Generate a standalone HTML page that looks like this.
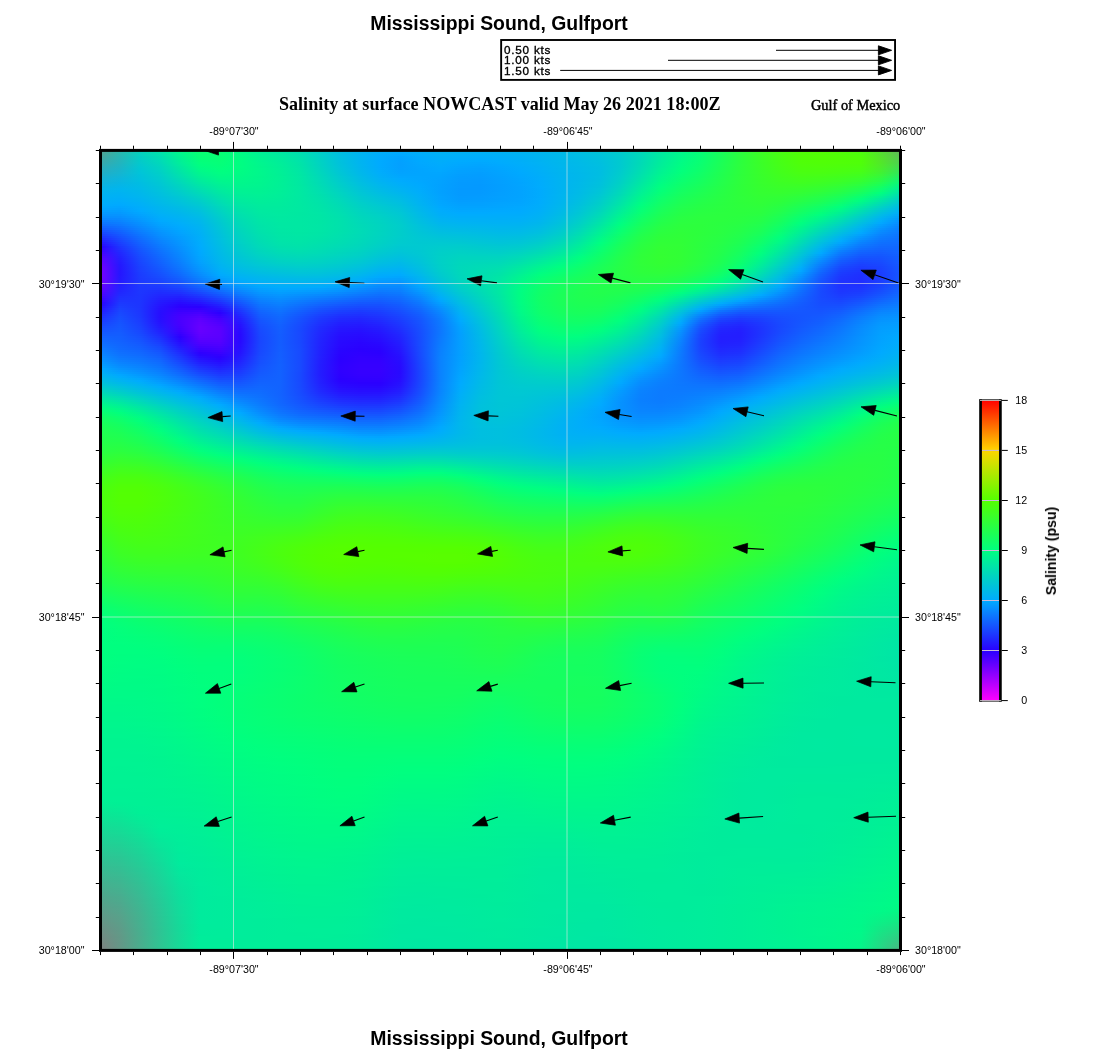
<!DOCTYPE html>
<html><head><meta charset="utf-8">
<style>
html,body{margin:0;padding:0;background:#fff}
body{width:1100px;height:1050px;position:relative;overflow:hidden;font-family:"Liberation Sans",sans-serif;color:#000}
.t{position:absolute;white-space:nowrap;line-height:1;will-change:transform}
.title{font-weight:bold;font-size:19.4px;left:-1px;width:1000px;text-align:center}
#map{position:absolute;left:100px;top:150px;width:801px;height:801px;overflow:hidden;background:#00f090}
#map i{display:block;height:2px;width:801px}
.lab{font-size:10.7px}
.kts{font-size:11.7px;left:504.3px;letter-spacing:0.78px;-webkit-text-stroke:0.35px #000}
svg{position:absolute;left:0;top:0}
</style></head><body>
<div class="t title" style="top:13.8px">Mississippi Sound, Gulfport</div>
<div class="t title" style="top:1029.2px">Mississippi Sound, Gulfport</div>
<div class="t kts" style="top:44.2px">0.50 kts</div>
<div class="t kts" style="top:54.3px">1.00 kts</div>
<div class="t kts" style="top:64.5px">1.50 kts</div>
<div class="t" style="left:279.2px;top:94.7px;font-family:'Liberation Serif',serif;font-weight:bold;font-size:18.08px">Salinity at surface NOWCAST valid May 26 2021 18:00Z</div>
<div class="t" style="left:810.9px;top:98px;font-family:'Liberation Serif',serif;font-size:14.35px;-webkit-text-stroke:0.45px #000">Gulf of Mexico</div>
<div class="t lab" style="left:184.2px;top:125.6px;width:100px;text-align:center">-89°07'30"</div><div class="t lab" style="left:184.2px;top:963.6px;width:100px;text-align:center">-89°07'30"</div><div class="t lab" style="left:517.5px;top:125.6px;width:100px;text-align:center">-89°06'45"</div><div class="t lab" style="left:517.5px;top:963.6px;width:100px;text-align:center">-89°06'45"</div><div class="t lab" style="left:850.7px;top:125.6px;width:100px;text-align:center">-89°06'00"</div><div class="t lab" style="left:850.7px;top:963.6px;width:100px;text-align:center">-89°06'00"</div><div class="t lab" style="left:0;width:84.5px;text-align:right;top:278.5px">30°19'30"</div><div class="t lab" style="left:915px;top:278.5px">30°19'30"</div><div class="t lab" style="left:0;width:84.5px;text-align:right;top:611.9px">30°18'45"</div><div class="t lab" style="left:915px;top:611.9px">30°18'45"</div><div class="t lab" style="left:0;width:84.5px;text-align:right;top:944.9px">30°18'00"</div><div class="t lab" style="left:915px;top:944.9px">30°18'00"</div><div class="t lab" style="left:1000px;width:27.2px;text-align:right;top:394.5px">18</div><div class="t lab" style="left:1000px;width:27.2px;text-align:right;top:444.5px">15</div><div class="t lab" style="left:1000px;width:27.2px;text-align:right;top:494.5px">12</div><div class="t lab" style="left:1000px;width:27.2px;text-align:right;top:544.6px">9</div><div class="t lab" style="left:1000px;width:27.2px;text-align:right;top:594.6px">6</div><div class="t lab" style="left:1000px;width:27.2px;text-align:right;top:644.6px">3</div><div class="t lab" style="left:1000px;width:27.2px;text-align:right;top:694.6px">0</div>
<div class="t" style="left:1051px;top:550.5px;font-weight:bold;font-size:14.1px;transform:translate(-50%,-50%) rotate(-90deg)">Salinity (psu)</div>
<div id="map"><i style="background:linear-gradient(90deg,#579f8f,#2ab8ac,#05d2bb,#00e4a8,#00f88a,#08ff73,#07ff75,#00fb85,#00ef97,#00e7a4,#00deb2,#00cec9,#00bfe0,#00b5ef,#00aef9,#00acfc,#00aff7,#00b2f2,#00b2f3,#00b1f4,#00b2f3,#00b3f1,#00b6ed,#00b9e8,#00bfe0,#00c6d6,#00cdca,#00d9b9,#00e9a0,#00f78b,#06ff77,#18ff5c,#2bff3f,#3cff25,#49ff12,#50ff08,#51ff06,#4fff09,#4aff10,#52e033,#62b55c)"></i><i style="background:linear-gradient(90deg,#52a193,#29b7af,#05d0be,#00e2ac,#00f78c,#08ff74,#07ff74,#00fc84,#00f195,#00e8a2,#00dfb0,#00cfc8,#00bfdf,#00b4f0,#00adfb,#00aaff,#00aef9,#00b1f4,#00b0f5,#00b0f7,#00b0f5,#00b2f2,#00b5ee,#00b9e9,#00bee1,#00c4d8,#00cccc,#00d9b9,#00e9a0,#00f88b,#06ff76,#18ff5b,#2bff3e,#3cff26,#48ff13,#50ff08,#52ff05,#50ff08,#4dff0d,#54e130,#5fba59)"></i><i style="background:linear-gradient(90deg,#4da398,#28b6b2,#05cfc1,#00e0af,#00f58f,#07ff75,#08ff74,#00fd83,#00f293,#00ea9f,#00e0ae,#00d0c7,#00bfdf,#00b4f0,#00abfd,#01a7ff,#00adfb,#00b0f6,#00aff8,#00aef9,#00aff7,#00b1f4,#00b4ef,#00b8ea,#00bde3,#00c3da,#00cbcd,#00d9b9,#00ea9f,#00f88a,#07ff75,#19ff5a,#2cff3e,#3cff26,#48ff13,#50ff07,#52ff05,#51ff07,#4eff0a,#54e12e,#5cbf56)"></i><i style="background:linear-gradient(90deg,#48a49d,#27b5b5,#04cdc4,#00ddb2,#00f391,#06ff76,#07ff75,#00fd82,#00f391,#00eb9e,#00e1ac,#00d0c6,#00c0df,#00b4f1,#00abfe,#01a4ff,#00abfd,#00aff7,#00aefa,#00adfb,#00aef9,#00b0f6,#00b4f0,#00b8ea,#00bce4,#00c2dc,#00cbce,#00d9b9,#00ea9e,#00f989,#07ff75,#19ff5a,#2cff3e,#3bff27,#48ff14,#50ff07,#52ff05,#51ff06,#4fff09,#55e22c,#59c454)"></i><i style="background:linear-gradient(90deg,#43a6a2,#26b4b8,#04ccc7,#00dcb5,#00f194,#05ff78,#07ff75,#00fe81,#00f490,#00ec9c,#00e2ab,#00d1c4,#00c0de,#00b4f0,#00aaff,#02a2ff,#00aafe,#00aef9,#00acfc,#00abfd,#00adfb,#00aff7,#00b3f1,#00b7eb,#00bbe5,#00c1dd,#00cacf,#00d9b8,#00eb9d,#00fa87,#08ff73,#1aff59,#2cff3e,#3bff27,#47ff14,#50ff08,#51ff05,#51ff06,#50ff08,#54e42a,#55c853)"></i><i style="background:linear-gradient(90deg,#3ea7a7,#24b4bb,#03cac9,#00dab8,#00ef97,#03ff7a,#06ff76,#00fe81,#00f58f,#00ed9a,#00e3aa,#00d2c3,#00c1dd,#00b4f0,#00aaff,#02a1ff,#00a9ff,#00adfa,#00abfe,#00aaff,#00acfd,#00aef8,#00b2f2,#00b7ec,#00bbe6,#00c0de,#00cacf,#00dab7,#00ec9c,#00fb86,#09ff72,#1aff58,#2cff3d,#3bff28,#47ff15,#4fff08,#51ff06,#50ff07,#4fff08,#53e62a,#51cd52)"></i><i style="background:linear-gradient(90deg,#3aa8ac,#22b4be,#03c9cc,#00d8ba,#00ee9a,#02ff7d,#05ff78,#00fe81,#00f68e,#00ee99,#00e4a8,#00d3c2,#00c1dc,#00b4f0,#00aaff,#03a0ff,#01a8ff,#00acfc,#00a9ff,#01a7ff,#00abfe,#00aefa,#00b2f4,#00b6ec,#00bae7,#00bfdf,#00cacf,#00dab6,#00ed9a,#00fc84,#0aff71,#1bff57,#2cff3d,#3aff28,#46ff16,#4fff09,#50ff07,#50ff08,#4fff09,#51e829,#4cd152)"></i><i style="background:linear-gradient(90deg,#35aab1,#1fb4c2,#02c8cf,#00d6bd,#00ec9d,#00ff7f,#04ff79,#00fe81,#00f68d,#00ef98,#00e4a7,#00d3c1,#00c2db,#00b5ef,#00aaff,#03a0ff,#01a7ff,#00abfd,#01a7ff,#01a5ff,#00a9ff,#00adfb,#00b1f5,#00b6ed,#00bae8,#00bfe0,#00cacf,#00dbb5,#00ee99,#00fd83,#0bff6f,#1cff56,#2dff3d,#3aff29,#46ff17,#4eff0b,#4fff09,#4eff0a,#4dff0b,#4fea2a,#47d653)"></i><i style="background:linear-gradient(90deg,#30abb6,#1db4c5,#01c7d2,#00d4c0,#00e9a0,#00fd82,#03ff7b,#00fe82,#00f68c,#00ef97,#00e5a6,#00d4c0,#00c3da,#00b5ee,#00aafe,#03a0ff,#01a6ff,#00aafe,#01a5ff,#02a3ff,#01a7ff,#00acfc,#00b0f6,#00b6ee,#00b9e8,#00bee1,#00cacf,#00dcb4,#00ef97,#00fe81,#0cff6e,#1cff55,#2dff3c,#3aff29,#45ff18,#4dff0c,#4eff0b,#4dff0c,#4cff0e,#4cec2b,#42da55)"></i><i style="background:linear-gradient(90deg,#2cacbc,#1ab4c9,#00c6d4,#00d3c2,#00e7a3,#00fb86,#02ff7d,#00fd82,#00f78c,#00f096,#00e6a5,#00d5be,#00c4d8,#00b6ed,#00abfd,#02a1ff,#01a5ff,#00a9ff,#02a3ff,#02a1ff,#01a6ff,#00abfd,#00b0f7,#00b5ee,#00b9e9,#00bee1,#00cbce,#00ddb3,#00f195,#00ff7f,#0dff6c,#1dff54,#2dff3c,#39ff2a,#44ff19,#4cff0e,#4cff0d,#4bff0f,#4aff11,#48ee2d,#3cde57)"></i><i style="background:linear-gradient(90deg,#28acc1,#17b4cd,#00c5d7,#00d1c5,#00e5a6,#00f989,#00ff7f,#00fd83,#00f78c,#00f096,#00e6a5,#00d6bd,#00c5d7,#00b7eb,#00acfc,#02a2ff,#01a5ff,#01a8ff,#02a1ff,#03a0ff,#01a4ff,#00aafe,#00aff7,#00b5ef,#00b9e9,#00bee1,#00cbcd,#00deb1,#00f293,#02ff7d,#0eff6a,#1eff53,#2dff3c,#39ff2a,#43ff1b,#4aff10,#4bff10,#49ff12,#47ff15,#44f130,#36e25a)"></i><i style="background:linear-gradient(90deg,#23adc5,#15b5d0,#00c4d9,#00cfc7,#00e3a9,#00f68d,#00fe82,#00fc84,#00f78c,#00f096,#00e7a4,#00d7bc,#00c6d5,#00b8ea,#00adfb,#02a3ff,#01a5ff,#01a6ff,#03a0ff,#039eff,#02a3ff,#00a9ff,#00aef8,#00b4ef,#00b8e9,#00bee1,#00cccc,#00dfaf,#00f391,#03ff7b,#10ff68,#1fff51,#2dff3c,#39ff2b,#42ff1c,#49ff13,#49ff12,#47ff15,#44ff1a,#3ff333,#2fe65e)"></i><i style="background:linear-gradient(90deg,#1faeca,#12b5d4,#00c2db,#00ceca,#00e1ad,#00f490,#00fc84,#00fb85,#00f78c,#00f095,#00e7a3,#00d8ba,#00c7d3,#00b9e8,#00aef9,#01a5ff,#01a5ff,#01a5ff,#039eff,#039dff,#02a2ff,#00a8ff,#00aef9,#00b4f0,#00b8ea,#00bee1,#00cdcb,#00e1ad,#00f58f,#05ff78,#11ff66,#1fff50,#2dff3b,#38ff2b,#41ff1e,#47ff15,#47ff16,#44ff19,#40ff1f,#3af637,#28ea63)"></i><i style="background:linear-gradient(90deg,#1bafcf,#0fb5d8,#00c1dc,#00cccc,#00dfb0,#00f194,#00fa87,#00fa87,#00f68c,#00f195,#00e8a3,#00d9b9,#00c9d1,#00bbe6,#00aff7,#01a7ff,#01a6ff,#01a4ff,#039dff,#049cff,#02a1ff,#01a7ff,#00adfa,#00b4f0,#00b8ea,#00bfe0,#00ceca,#00e2ab,#00f78c,#06ff76,#12ff64,#20ff4f,#2eff3b,#38ff2c,#40ff1f,#45ff18,#44ff19,#41ff1d,#3dff24,#34f83d,#21ed69)"></i><i style="background:linear-gradient(90deg,#17b0d4,#0cb5dc,#00c0de,#00cbce,#00dcb4,#00ee98,#00f88a,#00f988,#00f68d,#00f195,#00e8a2,#00dab8,#00cacf,#00bce4,#00b1f5,#00aaff,#01a6ff,#02a3ff,#049cff,#049bff,#03a0ff,#01a6ff,#00adfb,#00b4f1,#00b8e9,#00bfdf,#00cfc8,#00e4a8,#00f88a,#08ff73,#14ff62,#21ff4e,#2eff3b,#37ff2c,#3fff21,#43ff1b,#42ff1d,#3eff22,#39ff2b,#2dfa43,#19f16f)"></i><i style="background:linear-gradient(90deg,#14b1d8,#0ab5e0,#00bfe0,#00c9d1,#00dab7,#00ec9d,#00f68d,#00f88a,#00f68e,#00f095,#00e8a2,#00dbb6,#00cbcd,#00bde2,#00b2f3,#00abfd,#01a7ff,#02a2ff,#049bff,#049aff,#039fff,#01a5ff,#00acfb,#00b3f1,#00b8e9,#00c0de,#00d0c6,#00e5a6,#00fa87,#0aff71,#15ff60,#22ff4d,#2eff3b,#37ff2d,#3eff23,#41ff1e,#3fff21,#3bff27,#34ff31,#27fc49,#11f477)"></i><i style="background:linear-gradient(90deg,#10b1dc,#07b5e3,#00bde2,#00c7d3,#00d8bb,#00e9a1,#00f491,#00f78b,#00f58e,#00f096,#00e8a2,#00dbb5,#00cdcb,#00bfe0,#00b4f0,#00adfb,#00a8ff,#02a2ff,#049aff,#049aff,#039fff,#01a4ff,#00acfc,#00b3f1,#00b9e9,#00c1dd,#00d1c4,#00e7a3,#00fc84,#0cff6e,#16ff5e,#23ff4c,#2eff3b,#37ff2e,#3cff25,#3fff21,#3cff25,#37ff2c,#2fff38,#20fe51,#09f77e)"></i><i style="background:linear-gradient(90deg,#0db2e0,#05b5e7,#00bce4,#00c6d5,#00d5be,#00e6a5,#00f194,#00f68d,#00f58f,#00f096,#00e8a1,#00dcb4,#00cec9,#00c0de,#00b6ee,#00aef9,#00a9ff,#02a1ff,#049aff,#0499ff,#039eff,#02a4ff,#00acfc,#00b3f1,#00b9e8,#00c1dc,#00d3c2,#00e9a1,#00fe81,#0dff6b,#18ff5c,#23ff4b,#2eff3a,#36ff2e,#3bff27,#3cff25,#39ff29,#34ff32,#2bff40,#19ff59,#05f587)"></i><i style="background:linear-gradient(90deg,#09b2e4,#03b5ea,#00bbe6,#00c4d7,#00d3c1,#00e3aa,#00ef97,#00f58f,#00f490,#00f096,#00e9a1,#00ddb2,#00cfc7,#00c2db,#00b7eb,#00b0f6,#00aafe,#02a1ff,#049aff,#0499ff,#039eff,#02a3ff,#00acfd,#00b3f1,#00b9e8,#00c2da,#00d4c0,#00eb9e,#01ff7f,#0fff69,#19ff59,#24ff49,#2eff3a,#36ff2f,#3aff29,#3aff29,#36ff2e,#30ff38,#25ff47,#13ff63,#03f28f)"></i><i style="background:linear-gradient(90deg,#07b3e8,#01b5ee,#00bae8,#00c3d9,#00d1c5,#00e0ae,#00ed9b,#00f391,#00f391,#00f097,#00e9a1,#00deb1,#00d1c5,#00c3d9,#00b9e8,#00b2f4,#00abfd,#02a1ff,#0499ff,#0499ff,#039eff,#02a3ff,#00abfd,#00b3f1,#00bae7,#00c4d9,#00d6bd,#00ed9b,#03ff7c,#11ff66,#1bff57,#25ff48,#2eff3a,#35ff30,#38ff2b,#37ff2d,#33ff33,#2cff3e,#20ff4f,#0dff6c,#01ee99)"></i><i style="background:linear-gradient(90deg,#04b3ec,#00b4f0,#00b8e9,#00c2dc,#00cec8,#00ddb3,#00ea9f,#00f293,#00f292,#00ef97,#00e9a1,#00dfb0,#00d2c3,#00c5d6,#00bbe6,#00b3f1,#00acfc,#02a1ff,#049aff,#049aff,#039eff,#02a3ff,#00abfd,#00b3f1,#00bbe6,#00c5d7,#00d8ba,#00ef98,#04ff79,#13ff63,#1cff55,#26ff47,#2eff3a,#34ff31,#36ff2e,#34ff31,#30ff38,#27ff45,#1bff58,#07ff76,#00e8a2)"></i><i style="background:linear-gradient(90deg,#02b3f0,#00b2f2,#00b7eb,#00c0de,#00cccc,#00dab7,#00e8a2,#00f195,#00f293,#00ef98,#00e9a1,#00e0af,#00d4c1,#00c7d4,#00bde3,#00b5ee,#00adfb,#02a1ff,#049aff,#049aff,#039fff,#02a3ff,#00abfd,#00b3f1,#00bbe5,#00c6d5,#00dab8,#00f195,#06ff76,#15ff61,#1eff53,#26ff46,#2eff3a,#34ff32,#35ff30,#32ff35,#2cff3e,#23ff4b,#15ff60,#00ff7f,#00e2ab)"></i><i style="background:linear-gradient(90deg,#00b2f3,#00b1f4,#00b6ed,#00bfe0,#00cacf,#00d7bc,#00e5a6,#00ef97,#00f195,#00ee99,#00e9a1,#00e0ad,#00d5bf,#00c8d2,#00bfe0,#00b7eb,#00aef9,#02a2ff,#049aff,#049bff,#039fff,#02a3ff,#00abfd,#00b4f1,#00bce4,#00c8d3,#00dbb5,#00f392,#08ff73,#16ff5e,#1fff51,#27ff45,#2eff3a,#33ff33,#33ff33,#2fff39,#28ff43,#1eff52,#0fff69,#00f989,#00dcb4)"></i><i style="background:linear-gradient(90deg,#00b1f4,#00b0f6,#00b5ef,#00bde2,#00c7d3,#00d4c0,#00e3a9,#00ee9a,#00f096,#00ee99,#00e9a1,#00e1ac,#00d6bd,#00cacf,#00c1dd,#00b9e8,#00aff8,#02a3ff,#049bff,#049cff,#03a0ff,#02a3ff,#00abfd,#00b4f0,#00bde3,#00c9d0,#00deb2,#00f58e,#0bff70,#18ff5b,#20ff4f,#27ff44,#2eff3b,#32ff34,#31ff36,#2cff3e,#25ff49,#1aff59,#09ff72,#00f293,#00d6bd)"></i><i style="background:linear-gradient(90deg,#00b0f6,#00aef8,#00b3f1,#00bce5,#00c5d6,#00d1c4,#00e1ad,#00ec9c,#00ef97,#00ed9a,#00e9a1,#00e2ab,#00d8bb,#00cbcd,#00c3da,#00bbe6,#00b0f6,#02a3ff,#039cff,#039dff,#02a0ff,#02a4ff,#00acfd,#00b4f0,#00bee1,#00cbce,#00e0af,#00f78b,#0dff6d,#1aff59,#22ff4d,#28ff43,#2eff3b,#31ff35,#2fff38,#29ff42,#21ff4e,#15ff60,#03ff7b,#00eb9d,#00d0c6)"></i><i style="background:linear-gradient(90deg,#00aef8,#00adfb,#00b2f3,#00bae7,#00c3da,#00cec9,#00deb1,#00eb9e,#00ee99,#00ed9b,#00e9a1,#00e3aa,#00d9b9,#00cdcb,#00c4d7,#00bde3,#00b1f4,#01a5ff,#039dff,#039eff,#02a1ff,#01a4ff,#00acfc,#00b5ef,#00bfe0,#00cdcb,#00e2ab,#00f988,#0fff6a,#1cff56,#23ff4b,#29ff43,#2eff3b,#31ff37,#2dff3b,#26ff47,#1dff54,#10ff68,#00fc84,#00e5a7,#00cace)"></i><i style="background:linear-gradient(90deg,#00adfb,#00abfd,#00b0f6,#00b9e9,#00c1dd,#00cbcd,#00dcb4,#00e9a0,#00ed9a,#00ec9c,#00e9a1,#00e3a9,#00dab7,#00cfc8,#00c6d5,#00bfe0,#00b2f3,#01a6ff,#039fff,#03a0ff,#02a3ff,#01a5ff,#00acfc,#00b5ee,#00c0de,#00cec8,#00e4a8,#00fc84,#11ff67,#1dff54,#24ff49,#29ff42,#2dff3b,#30ff38,#2bff3e,#22ff4c,#19ff5a,#0bff6f,#00f68d,#00deb1,#00c5d7)"></i><i style="background:linear-gradient(90deg,#00abfd,#00a9ff,#00aff8,#00b7eb,#00bfe0,#00c9d1,#00dab8,#00e8a3,#00ec9c,#00ec9c,#00e9a1,#00e4a8,#00dbb5,#00d0c6,#00c8d2,#00c0dd,#00b3f1,#01a7ff,#02a1ff,#02a1ff,#02a4ff,#01a6ff,#00adfb,#00b6ed,#00c1dc,#00d0c6,#00e6a5,#00fe81,#13ff64,#1fff51,#25ff47,#29ff41,#2dff3c,#2fff39,#29ff41,#1fff51,#15ff61,#06ff77,#00f096,#00d8ba,#00bfdf)"></i><i style="background:linear-gradient(90deg,#00a8ff,#01a5ff,#00adfa,#00b5ee,#00bce3,#00c6d5,#00d7bb,#00e6a5,#00eb9d,#00eb9d,#00e9a1,#00e4a8,#00dcb4,#00d1c4,#00cacf,#00c2db,#00b5ef,#00a9ff,#02a3ff,#02a3ff,#01a5ff,#01a8ff,#00adfa,#00b7ec,#00c3da,#00d2c3,#00e9a1,#01ff7d,#15ff61,#21ff4f,#26ff46,#2aff41,#2dff3c,#2eff3b,#27ff45,#1cff56,#10ff67,#01ff7e,#00ea9f,#00d2c4,#00bae7)"></i><i style="background:linear-gradient(90deg,#02a4ff,#02a1ff,#00acfd,#00b4f0,#00bae6,#00c4d9,#00d5be,#00e4a7,#00ea9e,#00eb9e,#00e9a1,#00e5a7,#00ddb2,#00d3c2,#00cbcd,#00c4d8,#00b6ed,#00abfe,#01a5ff,#01a6ff,#01a7ff,#00a9ff,#00aef9,#00b8ea,#00c4d8,#00d4c0,#00eb9d,#04ff7a,#17ff5e,#22ff4c,#27ff44,#2aff40,#2cff3d,#2dff3d,#25ff48,#18ff5b,#0cff6d,#00fb86,#00e4a8,#00cccd,#00b5ee)"></i><i style="background:linear-gradient(90deg,#039fff,#039dff,#00aaff,#00b2f3,#00b8e9,#00c1dc,#00d3c2,#00e3a9,#00eaa0,#00ea9e,#00e9a1,#00e5a6,#00deb1,#00d4c0,#00cdcb,#00c5d6,#00b7eb,#00acfc,#01a7ff,#01a8ff,#00a9ff,#00aafe,#00aff8,#00b9e9,#00c6d6,#00d6bc,#00ee9a,#06ff76,#19ff5b,#24ff4a,#28ff43,#2aff40,#2cff3e,#2bff3f,#23ff4b,#15ff60,#08ff74,#00f68e,#00deb0,#00c6d5,#00b0f6)"></i><i style="background:linear-gradient(90deg,#0499ff,#0499ff,#01a6ff,#00b1f5,#00b6ec,#00bfe0,#00d1c5,#00e2ac,#00e9a1,#00ea9f,#00e8a1,#00e6a6,#00dfb0,#00d5be,#00cec8,#00c7d4,#00b9e9,#00adfa,#00aaff,#00aaff,#00abfe,#00abfd,#00b0f6,#00bae7,#00c7d3,#00d9b9,#00f096,#08ff73,#1bff58,#25ff48,#29ff42,#2bff40,#2bff3e,#2aff40,#21ff4f,#12ff65,#03ff7a,#00f095,#00d9b9,#00c0de,#00acfc)"></i><i style="background:linear-gradient(90deg,#0693ff,#0694ff,#02a2ff,#00aff8,#00b4ef,#00bde3,#00cfc8,#00e0ae,#00e8a2,#00eaa0,#00e8a1,#00e6a5,#00e0af,#00d6bd,#00d0c7,#00c8d2,#00bae7,#00aef8,#00acfd,#00acfd,#00acfc,#00acfb,#00b1f5,#00bbe5,#00c9d1,#00dbb6,#00f392,#0bff6f,#1cff55,#26ff46,#2aff41,#2bff3f,#2bff3f,#29ff42,#1eff52,#0eff6a,#00fe81,#00eb9d,#00d3c1,#00bbe6,#01a5ff)"></i><i style="background:linear-gradient(90deg,#078dff,#078fff,#039eff,#00adfa,#00b3f2,#00bbe6,#00cdca,#00dfb0,#00e7a3,#00e9a0,#00e8a2,#00e6a5,#00e0ae,#00d7bb,#00d1c5,#00c9d0,#00bbe5,#00b0f6,#00adfa,#00adfa,#00adfa,#00aefa,#00b2f3,#00bde3,#00cbce,#00ddb2,#00f58e,#0dff6c,#1eff52,#28ff44,#2bff40,#2bff3f,#2aff40,#27ff45,#1cff56,#0bff6f,#00f988,#00e6a5,#00cec9,#00b6ed,#039eff)"></i><i style="background:linear-gradient(90deg,#0985ff,#0889ff,#049aff,#00abfd,#00b1f5,#00b9e9,#00cbcd,#00ddb2,#00e6a5,#00e9a1,#00e8a2,#00e6a5,#00e1ad,#00d8ba,#00d2c3,#00cace,#00bde3,#00b2f3,#00aff8,#00aff8,#00aef8,#00aff8,#00b3f1,#00bee1,#00cdcb,#00e0ae,#00f88a,#10ff68,#20ff4f,#29ff43,#2bff3f,#2bff3f,#2aff41,#26ff47,#19ff59,#07ff74,#00f58e,#00e1ad,#00c9d1,#00b1f4,#0597ff)"></i><i style="background:linear-gradient(90deg,#0b7dff,#0a84ff,#0596ff,#00a9ff,#00aff7,#00b7eb,#00cacf,#00dcb4,#00e6a6,#00e9a1,#00e8a2,#00e6a4,#00e1ac,#00d9b9,#00d3c2,#00cbcd,#00bee1,#00b3f1,#00b1f5,#00b0f5,#00b0f6,#00b0f6,#00b5ef,#00c0df,#00cfc8,#00e2ab,#00fa87,#12ff65,#22ff4d,#2aff41,#2cff3e,#2bff3f,#29ff42,#24ff49,#17ff5d,#04ff7a,#00f195,#00dcb4,#00c4d9,#00adfb,#0690ff)"></i><i style="background:linear-gradient(90deg,#0d75ff,#0b7eff,#0691ff,#01a5ff,#00aefa,#00b6ed,#00c8d1,#00dbb6,#00e5a7,#00e8a2,#00e8a2,#00e6a4,#00e1ac,#00d9b8,#00d3c1,#00cccc,#00bfdf,#00b5ee,#00b3f2,#00b2f3,#00b1f4,#00b2f3,#00b6ec,#00c1dc,#00d1c5,#00e5a7,#00fd83,#14ff61,#23ff4a,#2bff40,#2cff3e,#2aff40,#28ff43,#22ff4c,#14ff61,#00ff7f,#00ec9c,#00d7bc,#00bfe0,#01a8ff,#088bff)"></i><i style="background:linear-gradient(90deg,#106cff,#0d78ff,#078dff,#02a2ff,#00acfc,#00b4ef,#00c7d3,#00dab7,#00e4a8,#00e8a2,#00e8a2,#00e6a5,#00e1ac,#00dab7,#00d4c0,#00cdcb,#00c1dd,#00b7eb,#00b5ef,#00b4f0,#00b3f2,#00b3f1,#00b8ea,#00c3d9,#00d3c1,#00e7a3,#00ff7f,#16ff5e,#25ff48,#2cff3e,#2cff3d,#2aff40,#27ff45,#21ff4f,#12ff65,#00fc84,#00e7a3,#00d2c3,#00bae7,#02a0ff,#0986ff)"></i><i style="background:linear-gradient(90deg,#1262ff,#0e71ff,#0888ff,#039eff,#00aafe,#00b3f1,#00c6d5,#00d9b9,#00e3a9,#00e8a3,#00e8a2,#00e6a5,#00e1ac,#00dab7,#00d4c0,#00cdcb,#00c2db,#00b9e8,#00b7ec,#00b6ed,#00b5ef,#00b5ee,#00bae7,#00c5d6,#00d5be,#00ea9f,#03ff7b,#19ff5b,#27ff45,#2cff3d,#2cff3d,#2aff41,#26ff46,#1fff51,#0fff69,#00f889,#00e3aa,#00cdcb,#00b6ee,#049aff,#0a81ff)"></i><i style="background:linear-gradient(90deg,#1459ff,#106bff,#0a83ff,#049aff,#00a8ff,#00b2f3,#00c5d7,#00d7bb,#00e3aa,#00e7a3,#00e8a2,#00e6a5,#00e1ac,#00dbb6,#00d4c0,#00cdca,#00c3da,#00bbe5,#00b9e8,#00b8ea,#00b6ec,#00b7ec,#00bce4,#00c7d3,#00d8bb,#00ed9b,#06ff77,#1bff57,#28ff43,#2dff3c,#2cff3d,#2aff41,#25ff48,#1dff54,#0cff6d,#00f58f,#00deb0,#00c8d2,#00b1f4,#0693ff,#0b7dff)"></i><i style="background:linear-gradient(90deg,#174fff,#1164ff,#0b7fff,#0596ff,#01a5ff,#00b1f5,#00c3d9,#00d6bc,#00e2ab,#00e7a4,#00e8a3,#00e6a6,#00e1ac,#00dbb6,#00d4bf,#00cdca,#00c4d8,#00bde2,#00bbe5,#00bae7,#00b8ea,#00b9e9,#00bee1,#00cad0,#00dab7,#00ef97,#08ff73,#1dff54,#2aff41,#2eff3b,#2cff3d,#29ff42,#24ff49,#1bff57,#09ff71,#00f194,#00dab7,#00c3da,#00adfa,#078dff,#0c7aff)"></i><i style="background:linear-gradient(90deg,#1945ff,#135eff,#0c7aff,#0692ff,#02a3ff,#00b0f6,#00c2da,#00d5be,#00e1ac,#00e6a4,#00e7a3,#00e5a6,#00e1ad,#00dbb6,#00d4c0,#00cdca,#00c5d6,#00bfdf,#00bee2,#00bce4,#00bae7,#00bbe6,#00c0de,#00cccc,#00ddb3,#00f293,#0bff70,#1fff51,#2bff3f,#2eff3a,#2cff3d,#29ff42,#23ff4b,#19ff5a,#07ff76,#00ee99,#00d5be,#00bee1,#01a8ff,#0988ff,#0d77ff)"></i><i style="background:linear-gradient(90deg,#1c3bff,#1557ff,#0d75ff,#078fff,#03a0ff,#00aff7,#00c1dc,#00d4c0,#00e0ae,#00e6a5,#00e7a4,#00e5a7,#00e0ae,#00dab7,#00d4c0,#00cdca,#00c6d5,#00c1dc,#00c0de,#00bee1,#00bce4,#00bde3,#00c3da,#00cec9,#00dfaf,#00f48f,#0dff6c,#21ff4e,#2cff3d,#2fff39,#2cff3d,#28ff43,#22ff4d,#17ff5d,#04ff7a,#00ea9f,#00d1c5,#00b9e8,#03a0ff,#0a82ff,#0d74ff)"></i><i style="background:linear-gradient(90deg,#1e31ff,#1651ff,#0e70ff,#088bff,#039dff,#00aef9,#00c0dd,#00d3c1,#00dfaf,#00e5a6,#00e6a5,#00e4a8,#00e0af,#00dab7,#00d3c1,#00cdcb,#00c7d4,#00c3d9,#00c2db,#00c0de,#00bee1,#00bfdf,#00c5d6,#00d1c5,#00e2ab,#00f78b,#0fff68,#23ff4b,#2dff3b,#2fff39,#2cff3e,#28ff44,#21ff4e,#14ff61,#01ff7e,#00e7a4,#00cccb,#00b4ef,#0498ff,#0b7dff,#0e72ff)"></i><i style="background:linear-gradient(90deg,#2127ff,#184bff,#106cff,#0987ff,#049bff,#00aefa,#00c0df,#00d2c3,#00deb0,#00e5a7,#00e6a5,#00e3a9,#00dfb0,#00d9b8,#00d3c2,#00cccc,#00c8d3,#00c5d6,#00c4d8,#00c2db,#00c0de,#00c1dc,#00c8d3,#00d3c1,#00e4a7,#00fa87,#12ff65,#24ff49,#2eff3a,#30ff38,#2cff3e,#27ff45,#1fff50,#12ff64,#00fd83,#00e3aa,#00c8d2,#00b0f6,#0691ff,#0c79ff,#0f6fff)"></i><i style="background:linear-gradient(90deg,#231dff,#1945ff,#1167ff,#0a83ff,#0498ff,#00adfb,#00bfe0,#00d1c5,#00ddb2,#00e4a8,#00e5a7,#00e2aa,#00deb1,#00d9b9,#00d2c3,#00cbcd,#00c8d2,#00c7d3,#00c6d4,#00c4d8,#00c2db,#00c4d8,#00cacf,#00d6bd,#00e7a3,#00fc84,#14ff62,#26ff46,#2fff38,#30ff37,#2cff3e,#26ff46,#1eff52,#10ff68,#00fa87,#00dfaf,#00c4d9,#00abfd,#0889ff,#0d74ff,#0f6eff)"></i><i style="background:linear-gradient(90deg,#2613ff,#1b3fff,#1263ff,#0b80ff,#0596ff,#00acfc,#00bee1,#00d0c7,#00dcb4,#00e3aa,#00e4a8,#00e1ac,#00ddb2,#00d8ba,#00d1c4,#00cbce,#00c8d1,#00c9d1,#00c8d1,#00c6d5,#00c4d8,#00c6d5,#00cdca,#00d9b9,#00ea9f,#00ff80,#16ff5e,#28ff44,#30ff37,#30ff37,#2bff3f,#26ff47,#1dff54,#0eff6b,#00f78c,#00dcb4,#00bfdf,#02a4ff,#0a82ff,#0e70ff,#106cff)"></i><i style="background:linear-gradient(90deg,#280aff,#1c3aff,#135fff,#0b7cff,#0694ff,#00acfd,#00bde2,#00cec8,#00dbb6,#00e2ab,#00e3a9,#00e0ae,#00dcb4,#00d7bb,#00d0c6,#00cad0,#00c9d1,#00cacf,#00cbce,#00c8d1,#00c6d4,#00c9d1,#00d0c6,#00dcb4,#00ed9b,#02ff7c,#18ff5b,#29ff42,#31ff36,#31ff37,#2bff3f,#25ff48,#1bff56,#0bff6f,#00f391,#00d8ba,#00bbe6,#049bff,#0c7bff,#106cff,#106aff)"></i><i style="background:linear-gradient(90deg,#2a01ff,#1d34ff,#145bff,#0c79ff,#0691ff,#00abfe,#00bce4,#00cdca,#00dab8,#00e0ad,#00e2ab,#00dfaf,#00dbb6,#00d6bd,#00cfc8,#00c8d1,#00c9d1,#00cccd,#00cccb,#00cace,#00c9d1,#00cbcd,#00d3c2,#00dfb0,#00ef97,#05ff78,#1aff59,#2aff40,#32ff35,#31ff36,#2bff3f,#24ff49,#1aff59,#09ff73,#00f096,#00d4bf,#00b7ec,#0692ff,#0d75ff,#1168ff,#1068ff)"></i><i style="background:linear-gradient(90deg,#3400ff,#1f30ff,#1557ff,#0d75ff,#078fff,#00aaff,#00bbe5,#00cccc,#00d8ba,#00dfb0,#00e1ad,#00deb1,#00d9b8,#00d5bf,#00cdca,#00c7d3,#00c9d1,#00cdcb,#00cec9,#00cccb,#00cbce,#00cec9,#00d6bd,#00e2ab,#00f293,#07ff75,#1cff56,#2bff3e,#32ff34,#31ff36,#2bff40,#24ff4a,#18ff5b,#06ff76,#00ed9a,#00d1c5,#00b2f2,#088aff,#0f6eff,#1264ff,#1167ff)"></i><i style="background:linear-gradient(90deg,#3e00ff,#202bff,#1554ff,#0e72ff,#078dff,#00a9ff,#00bbe6,#00cbce,#00d6bc,#00ddb2,#00dfaf,#00dcb4,#00d8ba,#00d3c1,#00cbcd,#00c6d6,#00c8d1,#00cec9,#00d0c6,#00cec8,#00cdca,#00d1c5,#00d9b8,#00e5a7,#00f58e,#0aff71,#1dff53,#2cff3d,#33ff33,#31ff36,#2aff40,#23ff4b,#17ff5d,#03ff7a,#00ea9f,#00cdcb,#00aef9,#0a81ff,#1167ff,#1360ff,#1165ff)"></i><i style="background:linear-gradient(90deg,#4700ff,#2127ff,#1651ff,#0f6fff,#088aff,#00a8ff,#00bae7,#00c9d0,#00d5bf,#00dbb5,#00ddb2,#00dbb6,#00d6bc,#00d1c4,#00c9d0,#00c4d8,#00c8d2,#00cfc8,#00d1c4,#00d0c6,#00cfc7,#00d4c0,#00dcb3,#00e8a2,#00f88a,#0cff6d,#1fff51,#2dff3c,#33ff33,#31ff36,#2aff40,#22ff4c,#15ff60,#01ff7e,#00e6a4,#00c9d0,#00aaff,#0c79ff,#1261ff,#145cff,#1264ff)"></i><i style="background:linear-gradient(90deg,#4f00ff,#2224ff,#174eff,#0f6cff,#0888ff,#01a7ff,#00b9e8,#00c8d2,#00d3c2,#00d9b8,#00dbb5,#00d9b9,#00d5bf,#00d0c6,#00c7d3,#00c2db,#00c7d3,#00cfc7,#00d3c2,#00d2c3,#00d2c4,#00d7bc,#00e0ae,#00eb9d,#00fb86,#0eff6a,#20ff4f,#2eff3b,#33ff32,#31ff36,#2aff41,#21ff4d,#14ff62,#00fd82,#00e3a9,#00c6d6,#02a2ff,#0e72ff,#145bff,#1458ff,#1262ff)"></i><i style="background:linear-gradient(90deg,#5700ff,#2221ff,#184bff,#1069ff,#0986ff,#01a5ff,#00b8ea,#00c6d4,#00d1c5,#00d7bb,#00d9b8,#00d7bb,#00d3c2,#00cec9,#00c5d6,#00c0de,#00c6d4,#00d0c7,#00d4c0,#00d4c0,#00d4c0,#00dab8,#00e3a9,#00ef98,#00fe81,#10ff67,#22ff4d,#2eff3a,#34ff32,#31ff36,#2aff41,#20ff4f,#12ff65,#00fa87,#00e0af,#00c2db,#049aff,#106aff,#1555ff,#1554ff,#1260ff)"></i><i style="background:linear-gradient(90deg,#5e00ff,#231eff,#1849ff,#1166ff,#0a83ff,#02a4ff,#00b7eb,#00c5d7,#00cfc8,#00d5bf,#00d7bb,#00d5be,#00d1c5,#00cccd,#00c3da,#00bee1,#00c5d6,#00d0c6,#00d5be,#00d5be,#00d6bd,#00dcb3,#00e7a4,#00f293,#02ff7d,#12ff64,#23ff4b,#2fff3a,#33ff32,#31ff36,#29ff42,#1fff50,#10ff68,#00f78b,#00dcb4,#00bee1,#0692ff,#1263ff,#174fff,#1651ff,#135fff)"></i><i style="background:linear-gradient(90deg,#6400ff,#241cff,#1947ff,#1263ff,#0a81ff,#02a2ff,#00b6ed,#00c3d9,#00cccb,#00d2c2,#00d5bf,#00d3c2,#00cfc8,#00c9d0,#00c0dd,#00bce4,#00c4d8,#00d0c6,#00d6bd,#00d7bc,#00d8ba,#00dfaf,#00ea9f,#00f58e,#04ff79,#14ff61,#24ff4a,#2fff39,#33ff33,#30ff37,#28ff43,#1eff52,#0eff6b,#00f48f,#00d9b9,#00bae6,#088bff,#135cff,#184aff,#174dff,#135dff)"></i><i style="background:linear-gradient(90deg,#6900ff,#241aff,#1945ff,#1261ff,#0b7eff,#03a0ff,#00b5ef,#00c2dc,#00cacf,#00d0c6,#00d2c3,#00d1c5,#00cdcb,#00c7d4,#00bee1,#00b9e8,#00c3da,#00d0c7,#00d7bc,#00d8b9,#00dab7,#00e2ab,#00ed9a,#00f989,#07ff75,#16ff5e,#25ff49,#2fff39,#33ff33,#30ff38,#28ff44,#1dff54,#0bff6e,#00f194,#00d5be,#00b7ec,#0a84ff,#1556ff,#1945ff,#184aff,#145cff)"></i><i style="background:linear-gradient(90deg,#6e00ff,#2418ff,#1a43ff,#135eff,#0c7bff,#039dff,#00b3f1,#00c0df,#00c8d3,#00cdca,#00d0c7,#00cec9,#00cacf,#00c4d8,#00bbe5,#00b7eb,#00c1dc,#00cfc7,#00d7bb,#00dab7,#00dcb4,#00e5a6,#00f195,#00fc84,#0aff71,#18ff5b,#25ff48,#2fff3a,#32ff34,#2fff39,#27ff46,#1bff57,#09ff72,#00ee99,#00d2c4,#00b3f1,#0b7dff,#1750ff,#1b40ff,#1947ff,#145aff)"></i><i style="background:linear-gradient(90deg,#7200ff,#2517ff,#1a41ff,#145bff,#0d78ff,#049aff,#00b2f3,#00bee1,#00c5d6,#00cacf,#00cdcb,#00cccc,#00c8d2,#00c2dc,#00b8e9,#00b5ef,#00c0df,#00cfc8,#00d8ba,#00dbb6,#00deb1,#00e8a2,#00f490,#00ff80,#0cff6d,#1aff59,#26ff47,#2eff3a,#31ff35,#2eff3b,#25ff48,#19ff5a,#06ff76,#00eb9e,#00cec9,#00b0f7,#0d77ff,#184aff,#1c3cff,#1944ff,#1459ff)"></i><i style="background:linear-gradient(90deg,#7500ff,#2516ff,#1b40ff,#1458ff,#0d75ff,#0597ff,#00b0f6,#00bce5,#00c3da,#00c7d3,#00cacf,#00c9d1,#00c5d6,#00bfe0,#00b5ee,#00b2f3,#00bee1,#00cec9,#00d8ba,#00dcb4,#00e0ae,#00eb9e,#00f78b,#03ff7b,#0fff69,#1bff57,#26ff46,#2eff3b,#30ff37,#2dff3d,#24ff4a,#17ff5d,#03ff7b,#00e7a3,#00cace,#00acfc,#0e70ff,#1945ff,#1d38ff,#1a42ff,#1458ff)"></i><i style="background:linear-gradient(90deg,#7700ff,#2516ff,#1b3fff,#1555ff,#0e71ff,#0694ff,#00aef9,#00b9e8,#00c0de,#00c4d7,#00c7d4,#00c6d5,#00c2da,#00bce4,#00b3f2,#00aff7,#00bce4,#00cdcb,#00d8ba,#00ddb3,#00e2ac,#00ed9a,#00fa87,#06ff77,#11ff66,#1dff54,#27ff46,#2dff3c,#2fff39,#2bff3f,#22ff4d,#14ff61,#00ff80,#00e4a8,#00c7d4,#01a8ff,#106bff,#1a40ff,#1d35ff,#1b40ff,#1558ff)"></i><i style="background:linear-gradient(90deg,#7800ff,#2516ff,#1b3dff,#1652ff,#0f6dff,#078fff,#00acfc,#00b7ec,#00bde2,#00c1dc,#00c4d8,#00c3d9,#00bfdf,#00b9e9,#00aff7,#00adfb,#00bae7,#00cbcd,#00d8bb,#00ddb2,#00e3a9,#00ef97,#00fd82,#09ff73,#13ff63,#1eff53,#27ff46,#2cff3d,#2eff3b,#29ff42,#1fff51,#11ff66,#00fb85,#00e0ae,#00c3d9,#02a1ff,#1165ff,#1b3cff,#1e32ff,#1b3eff,#1557ff)"></i><i style="background:linear-gradient(90deg,#7900ff,#2516ff,#1b3cff,#174fff,#1069ff,#088bff,#00a9ff,#00b4f0,#00bae7,#00bee1,#00c1dd,#00c0de,#00bce3,#00b6ee,#00acfb,#00aaff,#00b8eb,#00cacf,#00d7bb,#00deb1,#00e4a7,#00f293,#01ff7e,#0bff6f,#15ff60,#1fff51,#27ff46,#2bff3f,#2cff3e,#27ff45,#1cff55,#0eff6b,#00f78b,#00dcb4,#00bfdf,#049aff,#1260ff,#1c39ff,#1e30ff,#1b3dff,#1557ff)"></i><i style="background:linear-gradient(90deg,#7800ff,#2517ff,#1c3bff,#184cff,#1264ff,#0986ff,#02a4ff,#00b2f4,#00b7eb,#00bbe5,#00bde2,#00bde3,#00b9e8,#00b2f3,#00a9ff,#01a5ff,#00b5ee,#00c8d1,#00d7bc,#00deb1,#00e6a5,#00f490,#03ff7a,#0eff6b,#17ff5d,#20ff4f,#26ff46,#2aff41,#2aff41,#24ff49,#19ff5a,#0aff71,#00f391,#00d8ba,#00bce5,#0594ff,#145cff,#1d36ff,#1f2fff,#1b3dff,#1558ff)"></i><i style="background:linear-gradient(90deg,#7700ff,#2418ff,#1c3aff,#1848ff,#135fff,#0b80ff,#039eff,#00aff8,#00b5ef,#00b8ea,#00bae7,#00b9e8,#00b6ed,#00aff8,#02a2ff,#039fff,#00b3f2,#00c6d4,#00d6bd,#00deb0,#00e7a4,#00f68d,#06ff77,#10ff68,#19ff5a,#21ff4e,#26ff46,#28ff43,#27ff44,#21ff4e,#15ff5f,#05ff77,#00ef98,#00d3c1,#00b8ea,#078eff,#1558ff,#1e34ff,#1f2eff,#1b3dff,#1458ff)"></i><i style="background:linear-gradient(90deg,#7500ff,#241aff,#1c39ff,#1945ff,#1459ff,#0c7aff,#0597ff,#00abfd,#00b2f4,#00b5ee,#00b7ec,#00b6ed,#00b2f3,#00abfd,#049cff,#049aff,#00b0f6,#00c4d7,#00d5bf,#00deb1,#00e8a3,#00f88b,#08ff73,#12ff65,#1aff58,#21ff4d,#25ff47,#27ff45,#25ff48,#1dff53,#11ff66,#01ff7f,#00eaa0,#00cfc8,#00b4f0,#0889ff,#1554ff,#1e32ff,#1f2eff,#1b3eff,#1459ff)"></i><i style="background:linear-gradient(90deg,#7200ff,#241bff,#1c39ff,#1a41ff,#1653ff,#0e72ff,#0790ff,#01a6ff,#00aff8,#00b2f3,#00b3f1,#00b2f3,#00aff8,#01a5ff,#0595ff,#0594ff,#00aefa,#00c2db,#00d3c1,#00deb1,#00e8a2,#00f988,#0aff71,#14ff62,#1cff56,#22ff4d,#25ff48,#25ff48,#22ff4d,#19ff59,#0cff6d,#00fa87,#00e4a8,#00cacf,#00b0f6,#0a83ff,#1651ff,#1e32ff,#1f2fff,#1b40ff,#145aff)"></i><i style="background:linear-gradient(90deg,#6e00ff,#231dff,#1d38ff,#1b3dff,#174dff,#106bff,#0988ff,#039fff,#00acfc,#00aff8,#00aff7,#00aef8,#00abfe,#039eff,#078fff,#078fff,#00abfe,#00c0df,#00d2c4,#00ddb2,#00e9a1,#00fa86,#0cff6e,#15ff60,#1dff54,#22ff4c,#24ff4a,#23ff4b,#1fff52,#15ff60,#07ff76,#00f490,#00deb1,#00c5d6,#00acfc,#0b7eff,#174fff,#1e32ff,#1e30ff,#1a42ff,#135cff)"></i><i style="background:linear-gradient(90deg,#6900ff,#2320ff,#1d37ff,#1c39ff,#1946ff,#1262ff,#0b7fff,#0597ff,#01a7ff,#00acfc,#00acfc,#00abfe,#02a3ff,#0596ff,#0889ff,#0889ff,#01a6ff,#00bde3,#00d0c6,#00ddb3,#00e9a1,#00fb85,#0dff6c,#17ff5e,#1eff53,#22ff4c,#23ff4b,#21ff4f,#1bff57,#10ff67,#00ff7f,#00ed9a,#00d8ba,#00c0de,#01a7ff,#0c79ff,#174dff,#1e32ff,#1e33ff,#1945ff,#135eff)"></i><i style="background:linear-gradient(90deg,#6400ff,#2222ff,#1d37ff,#1d35ff,#1b3fff,#1459ff,#0d76ff,#0790ff,#02a1ff,#00a8ff,#01a7ff,#02a3ff,#049bff,#078eff,#0a82ff,#0984ff,#02a0ff,#00bae7,#00cec9,#00dcb4,#00e9a1,#00fc84,#0eff6a,#18ff5c,#1eff52,#22ff4c,#22ff4d,#1eff52,#17ff5d,#0bff6f,#00f989,#00e6a5,#00d1c4,#00bbe6,#039fff,#0d75ff,#184bff,#1e34ff,#1d36ff,#1849ff,#1261ff)"></i><i style="background:linear-gradient(90deg,#5d00ff,#2125ff,#1d36ff,#1e30ff,#1d37ff,#1750ff,#0f6cff,#0987ff,#049cff,#02a2ff,#039fff,#049bff,#0693ff,#0987ff,#0c7cff,#0b7fff,#049bff,#00b7eb,#00cccd,#00dbb6,#00e9a1,#00fd83,#0fff69,#19ff5b,#1fff52,#22ff4d,#21ff4f,#1cff56,#13ff63,#05ff78,#00f293,#00dfb0,#00cace,#00b5ee,#0598ff,#0e70ff,#184aff,#1d36ff,#1c3aff,#174dff,#1264ff)"></i><i style="background:linear-gradient(90deg,#5600ff,#2028ff,#1d36ff,#1f2cff,#1f30ff,#1946ff,#1262ff,#0b7fff,#0596ff,#039dff,#0498ff,#0693ff,#088aff,#0b7fff,#0d75ff,#0c7aff,#0595ff,#00b4f0,#00c9d0,#00d9b8,#00e9a1,#00fd82,#10ff68,#19ff5a,#1fff51,#22ff4d,#1fff51,#19ff5a,#0fff69,#00fe81,#00eb9e,#00d7bc,#00c3d9,#00b0f6,#0690ff,#0f6cff,#184aff,#1c38ff,#1b3eff,#1651ff,#1167ff)"></i><i style="background:linear-gradient(90deg,#4f00ff,#202bff,#1d35ff,#2128ff,#2128ff,#1c3cff,#1458ff,#0d77ff,#0790ff,#0597ff,#0691ff,#088aff,#0a82ff,#0d77ff,#0f6fff,#0d75ff,#078fff,#00b1f4,#00c7d4,#00d8ba,#00e8a2,#00fd82,#10ff67,#1aff59,#1fff51,#21ff4e,#1eff53,#16ff5f,#0bff70,#00f88a,#00e3aa,#00cfc8,#00bce4,#00aaff,#0889ff,#1069ff,#184aff,#1c3bff,#1a42ff,#1556ff,#106bff)"></i><i style="background:linear-gradient(90deg,#4700ff,#1f2fff,#1d35ff,#2224ff,#2220ff,#1e32ff,#174eff,#0f6eff,#088aff,#0692ff,#088aff,#0a82ff,#0c79ff,#0f6fff,#1069ff,#0f6fff,#0889ff,#00aef9,#00c4d8,#00d6bc,#00e7a3,#00fd82,#11ff66,#1aff59,#1fff51,#20ff4f,#1cff56,#13ff63,#06ff76,#00f293,#00dbb5,#00c7d4,#00b5ef,#039fff,#0a82ff,#1165ff,#184aff,#1b3eff,#1947ff,#145bff,#0f6eff)"></i><i style="background:linear-gradient(90deg,#3f00ff,#1e32ff,#1d35ff,#2320ff,#2419ff,#2128ff,#1a43ff,#1166ff,#0984ff,#078dff,#0a84ff,#0c7aff,#0e71ff,#1167ff,#1263ff,#106bff,#0a84ff,#00abfe,#00c2db,#00d5bf,#00e7a4,#00fd82,#11ff66,#1aff59,#1eff52,#1fff51,#1aff58,#10ff68,#02ff7d,#00eb9d,#00d3c1,#00bee0,#00adfa,#0594ff,#0c7bff,#1262ff,#184bff,#1a42ff,#174dff,#1261ff,#0e72ff)"></i><i style="background:linear-gradient(90deg,#3600ff,#1d35ff,#1d35ff,#231cff,#2611ff,#231eff,#1c39ff,#135dff,#0b7fff,#0988ff,#0b7dff,#0e72ff,#1068ff,#1360ff,#135dff,#1166ff,#0b7eff,#01a6ff,#00bfdf,#00d3c1,#00e6a5,#00fd82,#11ff66,#1aff59,#1eff53,#1eff52,#18ff5b,#0dff6c,#00fc84,#00e5a7,#00cbcd,#00b6ed,#02a2ff,#088aff,#0d74ff,#1360ff,#184cff,#1946ff,#1652ff,#1166ff,#0d76ff)"></i><i style="background:linear-gradient(90deg,#2e00ff,#1c39ff,#1d35ff,#2419ff,#280aff,#2614ff,#1f2eff,#1555ff,#0c7aff,#0a83ff,#0d77ff,#106aff,#1360ff,#1458ff,#1557ff,#1261ff,#0c79ff,#03a0ff,#00bde3,#00d1c4,#00e5a7,#00fd83,#10ff67,#19ff5a,#1dff54,#1dff54,#16ff5e,#0aff71,#00f78b,#00deb0,#00c3d9,#00aef9,#0694ff,#0b7fff,#0f6eff,#135dff,#174dff,#184aff,#1558ff,#0f6cff,#0c7aff)"></i><i style="background:linear-gradient(90deg,#2905ff,#1b3cff,#1d35ff,#2516ff,#2a04ff,#280aff,#2124ff,#174dff,#0d74ff,#0b7fff,#0e71ff,#1263ff,#1558ff,#1651ff,#1651ff,#135cff,#0e74ff,#049aff,#00bae7,#00cfc7,#00e4a8,#00fc84,#10ff68,#19ff5a,#1cff55,#1cff56,#14ff62,#06ff76,#00f392,#00d8ba,#00bbe5,#02a1ff,#0986ff,#0d75ff,#1068ff,#145bff,#174eff,#174eff,#135dff,#0e72ff,#0b7eff)"></i><i style="background:linear-gradient(90deg,#280cff,#1b3fff,#1d35ff,#2613ff,#2d00ff,#2a01ff,#241aff,#1945ff,#0f70ff,#0c7aff,#106bff,#145bff,#1650ff,#184aff,#184cff,#1558ff,#0f6fff,#0594ff,#00b7eb,#00ceca,#00e3aa,#00fb85,#0fff68,#18ff5c,#1bff56,#1aff58,#12ff65,#03ff7b,#00ee99,#00d2c3,#00b4f0,#0692ff,#0c78ff,#106cff,#1263ff,#1459ff,#1650ff,#1652ff,#1263ff,#0d77ff,#0a82ff)"></i><i style="background:linear-gradient(90deg,#2613ff,#1a43ff,#1d36ff,#2611ff,#3400ff,#3400ff,#2611ff,#1b3dff,#106bff,#0d76ff,#1166ff,#1554ff,#1849ff,#1a43ff,#1947ff,#1654ff,#106aff,#078fff,#00b5ee,#00cccc,#00e2ab,#00fb86,#0fff69,#17ff5d,#1aff58,#19ff5b,#0fff68,#00ff80,#00eaa0,#00cccd,#00acfc,#0a83ff,#106bff,#1263ff,#135eff,#1558ff,#1652ff,#1556ff,#1069ff,#0b7dff,#0986ff)"></i><i style="background:linear-gradient(90deg,#241aff,#1946ff,#1d36ff,#270fff,#3a00ff,#3e00ff,#2808ff,#1d36ff,#1166ff,#0e73ff,#1261ff,#174eff,#1a41ff,#1b3cff,#1a41ff,#174fff,#1166ff,#088aff,#00b3f2,#00cacf,#00e1ad,#00fa88,#0eff6b,#16ff5e,#19ff5a,#17ff5d,#0dff6c,#00fc84,#00e5a6,#00c6d6,#02a0ff,#0d74ff,#135fff,#145aff,#1459ff,#1557ff,#1654ff,#145bff,#0f6eff,#0a82ff,#0889ff)"></i><i style="background:linear-gradient(90deg,#2221ff,#1849ff,#1d37ff,#270eff,#4000ff,#4700ff,#2b00ff,#1f2fff,#1262ff,#0f6fff,#135cff,#1948ff,#1c3bff,#1d36ff,#1b3cff,#184bff,#1262ff,#0986ff,#00b1f5,#00c8d2,#00dfaf,#00f989,#0dff6c,#15ff60,#18ff5c,#15ff60,#0aff70,#00f989,#00e1ad,#00c0de,#0693ff,#1167ff,#1554ff,#1653ff,#1555ff,#1556ff,#1556ff,#135fff,#0e73ff,#0987ff,#078dff)"></i><i style="background:linear-gradient(90deg,#2128ff,#184bff,#1c38ff,#270eff,#4400ff,#4f00ff,#3400ff,#2029ff,#135eff,#0f6cff,#1458ff,#1a42ff,#1d34ff,#1e31ff,#1d38ff,#1947ff,#135eff,#0a82ff,#00aff8,#00c7d4,#00deb1,#00f88b,#0cff6e,#14ff62,#16ff5e,#13ff63,#08ff74,#00f58e,#00ddb3,#00bbe6,#0986ff,#145aff,#184aff,#184cff,#1652ff,#1555ff,#1558ff,#1263ff,#0d77ff,#088bff,#0691ff)"></i><i style="background:linear-gradient(90deg,#1f2eff,#174eff,#1c39ff,#270eff,#4700ff,#5600ff,#3c00ff,#2223ff,#145bff,#1069ff,#1554ff,#1b3dff,#1f2eff,#202bff,#1e33ff,#1a43ff,#145bff,#0b7fff,#00adfb,#00c5d7,#00ddb3,#00f68c,#0aff70,#13ff64,#14ff61,#11ff66,#05ff78,#00f293,#00d9b9,#00b6ed,#0c7bff,#174fff,#1a41ff,#1946ff,#174fff,#1555ff,#145aff,#1166ff,#0c7cff,#078fff,#0694ff)"></i><i style="background:linear-gradient(90deg,#1d34ff,#1650ff,#1c3bff,#270fff,#4800ff,#5c00ff,#4400ff,#231eff,#1557ff,#1167ff,#1651ff,#1c39ff,#2029ff,#2126ff,#1f2fff,#1b40ff,#1558ff,#0b7cff,#00abfd,#00c3d9,#00dcb5,#00f58e,#09ff72,#11ff66,#13ff64,#0eff6a,#03ff7c,#00ef97,#00d5be,#00b1f4,#0e71ff,#1945ff,#1c39ff,#1a41ff,#174dff,#1555ff,#135cff,#106aff,#0b7fff,#0692ff,#0597ff)"></i><i style="background:linear-gradient(90deg,#1c3aff,#1652ff,#1b3cff,#2611ff,#4900ff,#6000ff,#4a00ff,#241aff,#1554ff,#1165ff,#174fff,#1d35ff,#2125ff,#2222ff,#202bff,#1b3cff,#1555ff,#0c7aff,#00aaff,#00c2db,#00dab6,#00f490,#08ff74,#10ff68,#11ff66,#0cff6d,#00ff80,#00ec9c,#00d2c3,#00adfa,#1168ff,#1b3dff,#1e32ff,#1b3dff,#184bff,#1555ff,#135eff,#0f6dff,#0a83ff,#0595ff,#0499ff)"></i><i style="background:linear-gradient(90deg,#1b40ff,#1554ff,#1b3eff,#2613ff,#4800ff,#6300ff,#4f00ff,#2516ff,#1652ff,#1263ff,#174dff,#1e32ff,#2220ff,#231eff,#2127ff,#1c39ff,#1654ff,#0c79ff,#01a7ff,#00c1dd,#00d9b8,#00f392,#06ff76,#0eff6b,#0fff69,#0aff71,#00fc84,#00e9a0,#00cfc8,#00a9ff,#1360ff,#1d35ff,#1f2cff,#1c39ff,#184aff,#1556ff,#1260ff,#0f70ff,#0985ff,#0598ff,#049cff)"></i><i style="background:linear-gradient(90deg,#1945ff,#1556ff,#1a40ff,#2516ff,#4700ff,#6500ff,#5300ff,#2612ff,#174fff,#1261ff,#184bff,#1f2fff,#231dff,#241aff,#2223ff,#1d36ff,#1652ff,#0d78ff,#01a5ff,#00bfdf,#00d8ba,#00f194,#05ff78,#0cff6d,#0dff6d,#07ff75,#00f988,#00e6a5,#00cccd,#02a3ff,#1459ff,#1f2fff,#2128ff,#1d37ff,#1849ff,#1557ff,#1262ff,#0e72ff,#0988ff,#049aff,#039eff)"></i><i style="background:linear-gradient(90deg,#184bff,#1557ff,#1a42ff,#2419ff,#4400ff,#6700ff,#5700ff,#2710ff,#174dff,#1260ff,#184aff,#1f2cff,#2419ff,#2517ff,#231fff,#1e33ff,#1651ff,#0d77ff,#02a3ff,#00bee1,#00d7bc,#00f096,#03ff7b,#0aff70,#0aff70,#04ff79,#00f68c,#00e3a9,#00c9d1,#039dff,#1653ff,#202aff,#2124ff,#1d35ff,#1849ff,#1458ff,#1165ff,#0d75ff,#088aff,#049cff,#02a0ff)"></i><i style="background:linear-gradient(90deg,#174fff,#1459ff,#1944ff,#231dff,#4100ff,#6700ff,#5900ff,#270dff,#184bff,#135fff,#1849ff,#202aff,#2516ff,#2613ff,#231cff,#1f30ff,#174fff,#0d77ff,#02a2ff,#00bde2,#00d6bd,#00ef98,#01ff7d,#09ff73,#08ff73,#02ff7d,#00f491,#00e0ad,#00c6d5,#0598ff,#174eff,#2126ff,#2221ff,#1d34ff,#184aff,#145aff,#1167ff,#0d77ff,#088cff,#039dff,#02a2ff)"></i><i style="background:linear-gradient(90deg,#1554ff,#145aff,#1947ff,#2221ff,#3d00ff,#6600ff,#5b00ff,#280bff,#184aff,#135eff,#1848ff,#2029ff,#2614ff,#2611ff,#2419ff,#1f2dff,#174fff,#0d77ff,#02a1ff,#00bce4,#00d5bf,#00ed9a,#00ff80,#07ff76,#06ff77,#00fe81,#00f195,#00deb1,#00c3d9,#0693ff,#184aff,#2223ff,#231fff,#1e34ff,#184aff,#145bff,#1069ff,#0c79ff,#078eff,#039fff,#01a4ff)"></i><i style="background:linear-gradient(90deg,#1459ff,#145cff,#1849ff,#2125ff,#3800ff,#6400ff,#5b00ff,#280aff,#1849ff,#135eff,#1948ff,#2127ff,#2611ff,#270eff,#2516ff,#202aff,#174eff,#0d77ff,#02a0ff,#00bbe5,#00d4c1,#00ec9d,#00fd83,#05ff79,#04ff7a,#00fb85,#00ee99,#00dbb6,#00c1dc,#078fff,#1947ff,#2221ff,#231eff,#1e34ff,#184bff,#135dff,#106bff,#0c7bff,#078fff,#03a0ff,#01a6ff)"></i><i style="background:linear-gradient(90deg,#135dff,#135dff,#174cff,#202aff,#3200ff,#6100ff,#5b00ff,#2809ff,#1948ff,#135dff,#1948ff,#2126ff,#270fff,#280cff,#2613ff,#2127ff,#174eff,#0c78ff,#039fff,#00bae6,#00d3c2,#00ea9f,#00fb86,#03ff7c,#01ff7e,#00f88a,#00eb9e,#00d8ba,#00bfe0,#088cff,#1944ff,#231fff,#231eff,#1d35ff,#174dff,#135fff,#0f6dff,#0b7dff,#0690ff,#02a1ff,#01a8ff)"></i><i style="background:linear-gradient(90deg,#1262ff,#135fff,#174fff,#1f2fff,#2c00ff,#5e00ff,#5a00ff,#2809ff,#1947ff,#135dff,#1948ff,#2125ff,#270dff,#280aff,#2611ff,#2125ff,#174dff,#0c79ff,#039fff,#00bae7,#00d2c4,#00e9a1,#00f988,#00ff7f,#00fe82,#00f58e,#00e8a2,#00d5be,#00bde3,#0889ff,#1a43ff,#231eff,#231eff,#1d36ff,#174fff,#1261ff,#0f70ff,#0b7fff,#0692ff,#02a2ff,#00aaff)"></i><i style="background:linear-gradient(90deg,#1166ff,#1260ff,#1652ff,#1d34ff,#2a04ff,#5a00ff,#5800ff,#2809ff,#1947ff,#135dff,#1948ff,#2124ff,#280cff,#2908ff,#270eff,#2223ff,#174dff,#0c7aff,#039fff,#00b9e8,#00d1c5,#00e7a3,#00f78b,#00fd82,#00fb85,#00f292,#00e5a7,#00d3c2,#00bae6,#0986ff,#1a41ff,#231eff,#231fff,#1d38ff,#1651ff,#1263ff,#0e72ff,#0a81ff,#0693ff,#02a2ff,#00abfe)"></i><i style="background:linear-gradient(90deg,#106aff,#1262ff,#1555ff,#1c39ff,#2809ff,#5500ff,#5600ff,#2809ff,#1946ff,#135dff,#1848ff,#2224ff,#280aff,#2906ff,#280cff,#2220ff,#174dff,#0c7bff,#039fff,#00b8e9,#00d0c7,#00e6a6,#00f58e,#00fb85,#00f989,#00f097,#00e2ab,#00d0c6,#00b8e9,#0a84ff,#1a41ff,#231fff,#2221ff,#1c3aff,#1653ff,#1166ff,#0d74ff,#0a83ff,#0694ff,#02a3ff,#00abfd)"></i><i style="background:linear-gradient(90deg,#0f6eff,#1264ff,#1558ff,#1b3eff,#270fff,#5000ff,#5300ff,#280aff,#1946ff,#135dff,#1848ff,#2223ff,#2809ff,#2904ff,#2809ff,#231eff,#174dff,#0b7cff,#039fff,#00b8ea,#00cfc8,#00e4a8,#00f391,#00f989,#00f68d,#00ed9b,#00dfb0,#00cdca,#00b6ec,#0a82ff,#1a41ff,#2220ff,#2223ff,#1c3cff,#1556ff,#1068ff,#0d77ff,#0985ff,#0595ff,#02a4ff,#00acfc)"></i><i style="background:linear-gradient(90deg,#0e72ff,#1166ff,#145bff,#1a43ff,#2514ff,#4a00ff,#4f00ff,#280cff,#1947ff,#135dff,#1849ff,#2223ff,#2908ff,#2a03ff,#2907ff,#241cff,#174dff,#0b7dff,#039fff,#00b7eb,#00cec9,#00e3aa,#00f194,#00f78c,#00f491,#00ea9f,#00dcb5,#00cace,#00b4ef,#0b80ff,#1a41ff,#2222ff,#2125ff,#1b3fff,#1458ff,#106bff,#0c79ff,#0987ff,#0596ff,#01a5ff,#00adfa)"></i><i style="background:linear-gradient(90deg,#0d76ff,#1168ff,#135eff,#1849ff,#241aff,#4300ff,#4a00ff,#270dff,#1947ff,#135eff,#1849ff,#2222ff,#2907ff,#2a02ff,#2905ff,#241aff,#174cff,#0b7eff,#039fff,#00b7eb,#00cdca,#00e1ac,#00ef98,#00f48f,#00f194,#00e7a4,#00d9b9,#00c8d2,#00b3f2,#0b7eff,#1a42ff,#2124ff,#2128ff,#1a41ff,#145bff,#0f6dff,#0c7cff,#0889ff,#0598ff,#01a6ff,#00aef9)"></i><i style="background:linear-gradient(90deg,#0c7bff,#106aff,#1261ff,#174dff,#2220ff,#3c00ff,#4500ff,#270fff,#1948ff,#135eff,#184aff,#2222ff,#2905ff,#2a00ff,#2a03ff,#2518ff,#174cff,#0b7fff,#039fff,#00b7ec,#00cccb,#00e0af,#00ed9b,#00f293,#00ef98,#00e4a8,#00d6be,#00c5d7,#00b1f5,#0b7dff,#1a43ff,#2127ff,#202bff,#1944ff,#135eff,#0e70ff,#0b7eff,#088bff,#0499ff,#01a7ff,#00aff7)"></i><i style="background:linear-gradient(90deg,#0b7fff,#0f6dff,#1165ff,#1652ff,#2126ff,#3500ff,#4000ff,#2612ff,#1848ff,#135eff,#184aff,#2221ff,#2904ff,#2c00ff,#2a01ff,#2516ff,#184cff,#0a80ff,#03a0ff,#00b7ec,#00cccd,#00deb1,#00eb9e,#00f096,#00ec9c,#00e1ac,#00d3c2,#00c2db,#00aff8,#0b7cff,#1945ff,#202aff,#1f2eff,#1948ff,#1261ff,#0e73ff,#0a81ff,#078eff,#049bff,#00a9ff,#00b0f6)"></i><i style="background:linear-gradient(90deg,#0a83ff,#0f70ff,#1168ff,#1557ff,#202cff,#2d00ff,#3a00ff,#2514ff,#1849ff,#135fff,#184aff,#2221ff,#2a03ff,#2e00ff,#2b00ff,#2614ff,#184bff,#0a81ff,#03a0ff,#00b6ec,#00cbcd,#00ddb3,#00e9a1,#00ee9a,#00ea9f,#00dfb0,#00d0c7,#00bfdf,#00adfb,#0c7bff,#1947ff,#1f2dff,#1e31ff,#184bff,#1264ff,#0d75ff,#0a83ff,#0690ff,#039dff,#00aaff,#00b1f4)"></i><i style="background:linear-gradient(90deg,#0987ff,#0e73ff,#106bff,#145bff,#1e32ff,#2904ff,#3300ff,#2517ff,#184aff,#135fff,#184aff,#2220ff,#2a02ff,#2f00ff,#2d00ff,#2612ff,#184bff,#0a81ff,#02a0ff,#00b6ed,#00cace,#00dbb5,#00e7a4,#00eb9d,#00e7a3,#00dcb4,#00cdcb,#00bce3,#00abfe,#0c7aff,#1849ff,#1e30ff,#1d35ff,#174eff,#1167ff,#0c78ff,#0986ff,#0693ff,#039fff,#00abfd,#00b3f2)"></i><i style="background:linear-gradient(90deg,#088cff,#0d77ff,#0f6fff,#135fff,#1d38ff,#280bff,#2d00ff,#241bff,#184cff,#135fff,#184aff,#2320ff,#2a01ff,#3100ff,#2f00ff,#2610ff,#184aff,#0a82ff,#02a1ff,#00b6ed,#00cacf,#00dab7,#00e5a7,#00e9a0,#00e5a7,#00d9b8,#00cad0,#00bae8,#01a8ff,#0c79ff,#184bff,#1e34ff,#1c39ff,#1652ff,#106aff,#0c7bff,#0889ff,#0595ff,#02a2ff,#00acfb,#00b4f0)"></i><i style="background:linear-gradient(90deg,#0690ff,#0c7bff,#0e73ff,#1264ff,#1b3dff,#2612ff,#2904ff,#231eff,#174dff,#1360ff,#184aff,#231fff,#2b00ff,#3200ff,#3100ff,#270fff,#1849ff,#0a82ff,#02a1ff,#00b6ed,#00c9d0,#00d8b9,#00e3aa,#00e7a4,#00e3aa,#00d7bc,#00c7d4,#00b7ec,#02a4ff,#0c79ff,#174dff,#1d38ff,#1b3dff,#1555ff,#0f6dff,#0b7eff,#088cff,#0498ff,#01a4ff,#00aef9,#00b5ee)"></i><i style="background:linear-gradient(90deg,#0595ff,#0b7fff,#0d76ff,#1168ff,#1a43ff,#2419ff,#280aff,#2222ff,#174fff,#1260ff,#184aff,#231eff,#2c00ff,#3300ff,#3300ff,#270dff,#1849ff,#0a82ff,#02a1ff,#00b6ed,#00c9d1,#00d7bb,#00e1ad,#00e5a7,#00e0ae,#00d4c0,#00c4d8,#00b4f0,#03a0ff,#0d78ff,#1750ff,#1c3cff,#1a41ff,#1459ff,#0f70ff,#0a81ff,#078fff,#049bff,#01a7ff,#00aff7,#00b7ec)"></i><i style="background:linear-gradient(90deg,#049aff,#0a84ff,#0c7aff,#106cff,#1849ff,#2220ff,#2611ff,#2126ff,#1650ff,#1260ff,#184aff,#231eff,#2d00ff,#3400ff,#3400ff,#270cff,#1848ff,#0a82ff,#02a2ff,#00b6ec,#00c9d1,#00d6bd,#00dfb0,#00e2aa,#00deb1,#00d2c4,#00c1dc,#00b1f4,#039cff,#0d78ff,#1653ff,#1b40ff,#1945ff,#135cff,#0e73ff,#0a83ff,#0692ff,#039fff,#00aafe,#00b1f5,#00b9e9)"></i><i style="background:linear-gradient(90deg,#039fff,#0889ff,#0b7fff,#0e70ff,#174fff,#2128ff,#2517ff,#202aff,#1652ff,#1261ff,#184aff,#231dff,#2e00ff,#3500ff,#3500ff,#280bff,#1947ff,#0a82ff,#02a2ff,#00b7ec,#00c8d2,#00d5bf,#00ddb3,#00e0ae,#00dcb5,#00cfc7,#00bee1,#00aff8,#0498ff,#0d77ff,#1556ff,#1944ff,#1849ff,#1260ff,#0d76ff,#0987ff,#0595ff,#02a2ff,#00acfc,#00b3f2,#00bae6)"></i><i style="background:linear-gradient(90deg,#01a4ff,#078eff,#0a83ff,#0d74ff,#1555ff,#1f30ff,#231eff,#1f2eff,#1654ff,#1261ff,#184aff,#231dff,#2f00ff,#3500ff,#3500ff,#280aff,#1947ff,#0a82ff,#02a3ff,#00b7ec,#00c8d2,#00d3c1,#00dbb6,#00deb1,#00d9b8,#00cdcb,#00bce5,#00acfc,#0595ff,#0d77ff,#1459ff,#1849ff,#174eff,#1264ff,#0c79ff,#088aff,#0498ff,#01a6ff,#00aef9,#00b5ef,#00bde3)"></i><i style="background:linear-gradient(90deg,#00aaff,#0694ff,#0988ff,#0c79ff,#145bff,#1d37ff,#2125ff,#1e33ff,#1556ff,#1261ff,#184aff,#231dff,#2f00ff,#3600ff,#3600ff,#280aff,#1946ff,#0a82ff,#02a4ff,#00b7eb,#00c8d3,#00d2c3,#00d9b9,#00dcb4,#00d7bb,#00cace,#00b9e8,#00a9ff,#0692ff,#0d77ff,#145cff,#174dff,#1652ff,#1168ff,#0b7dff,#078dff,#039cff,#00aaff,#00b0f6,#00b7ec,#00bfe0)"></i><i style="background:linear-gradient(90deg,#00adfa,#049aff,#078dff,#0b7dff,#1261ff,#1b3fff,#1f2dff,#1d38ff,#1557ff,#1262ff,#184aff,#231dff,#2f00ff,#3500ff,#3600ff,#280aff,#1946ff,#0a82ff,#01a4ff,#00b7eb,#00c7d3,#00d1c4,#00d7bc,#00dab8,#00d5bf,#00c8d2,#00b6ec,#02a4ff,#078eff,#0d77ff,#135fff,#1652ff,#1557ff,#106cff,#0a80ff,#0691ff,#03a0ff,#00acfc,#00b2f2,#00b9e8,#00c1dc)"></i><i style="background:linear-gradient(90deg,#00b0f6,#02a0ff,#0692ff,#0a82ff,#1167ff,#1947ff,#1e34ff,#1b3cff,#1459ff,#1262ff,#1849ff,#231dff,#2e00ff,#3500ff,#3500ff,#280aff,#1946ff,#0a82ff,#01a5ff,#00b8ea,#00c7d3,#00d0c6,#00d5bf,#00d7bb,#00d3c2,#00c6d5,#00b4f0,#039fff,#088bff,#0d77ff,#1262ff,#1556ff,#145cff,#0e70ff,#0984ff,#0594ff,#02a4ff,#00aef9,#00b5ef,#00bce5,#00c4d8)"></i><i style="background:linear-gradient(90deg,#00b4f1,#01a7ff,#0498ff,#0987ff,#0f6dff,#174fff,#1c3bff,#1a41ff,#145bff,#1262ff,#1849ff,#231dff,#2d00ff,#3400ff,#3400ff,#280bff,#1946ff,#0a82ff,#01a6ff,#00b8ea,#00c7d4,#00cfc8,#00d3c1,#00d5be,#00d1c5,#00c4d8,#00b2f3,#049bff,#0888ff,#0d77ff,#1165ff,#145bff,#1261ff,#0d74ff,#0888ff,#0498ff,#01a8ff,#00b0f6,#00b7eb,#00bee0,#00c6d4)"></i><i style="background:linear-gradient(90deg,#00b7eb,#00acfc,#039eff,#078dff,#0e74ff,#1558ff,#1a43ff,#1946ff,#135dff,#1262ff,#1849ff,#231eff,#2c00ff,#3200ff,#3300ff,#280bff,#1946ff,#0a82ff,#01a7ff,#00b9e9,#00c7d4,#00cec9,#00d2c4,#00d3c1,#00cec8,#00c2dc,#00aff7,#0597ff,#0986ff,#0d77ff,#1168ff,#1360ff,#1166ff,#0c79ff,#088cff,#039cff,#00abfe,#00b3f2,#00bae7,#00c1dc,#00c9d0)"></i><i style="background:linear-gradient(90deg,#00bbe6,#00b0f6,#01a5ff,#0692ff,#0c7bff,#1360ff,#184aff,#184bff,#135fff,#1262ff,#1849ff,#231fff,#2a00ff,#3000ff,#3100ff,#270dff,#1946ff,#0a82ff,#01a8ff,#00b9e8,#00c7d4,#00cdcb,#00d0c6,#00d1c4,#00cccc,#00bfdf,#00adfa,#0693ff,#0a83ff,#0d77ff,#106bff,#1164ff,#106aff,#0b7dff,#0690ff,#02a0ff,#00adfa,#00b5ee,#00bde3,#00c4d7,#00cdcb)"></i><i style="background:linear-gradient(90deg,#00bfe0,#00b4f0,#00abfe,#0499ff,#0a82ff,#1168ff,#1652ff,#1651ff,#1261ff,#1263ff,#1849ff,#2320ff,#2a02ff,#2e00ff,#2e00ff,#270eff,#1947ff,#0a82ff,#00a9ff,#00bae8,#00c6d4,#00cccc,#00cec9,#00cfc7,#00cacf,#00bde2,#00abfd,#078fff,#0a81ff,#0d77ff,#0f6eff,#1069ff,#0f6fff,#0a82ff,#0594ff,#01a5ff,#00b0f7,#00b8ea,#00c0de,#00c8d2,#00d0c6)"></i><i style="background:linear-gradient(90deg,#00c3da,#00b8e9,#00aff8,#039fff,#0889ff,#0e70ff,#145aff,#1556ff,#1263ff,#1263ff,#184aff,#2221ff,#2905ff,#2b00ff,#2b00ff,#2611ff,#1948ff,#0a83ff,#00aaff,#00bae7,#00c6d4,#00cbcd,#00cdcb,#00cdca,#00c8d2,#00bbe5,#00a9ff,#078cff,#0b7fff,#0d78ff,#0e71ff,#0f6eff,#0d75ff,#0986ff,#0499ff,#00a9ff,#00b2f3,#00bbe6,#00c3d9,#00cbcd,#00d4c0)"></i><i style="background:linear-gradient(90deg,#00c7d3,#00bde3,#00b3f2,#01a6ff,#0690ff,#0c78ff,#1261ff,#145bff,#1165ff,#1263ff,#184aff,#2223ff,#2908ff,#2a03ff,#2a02ff,#2613ff,#1849ff,#0a83ff,#00abfe,#00bbe6,#00c6d5,#00cacf,#00cbcd,#00cbcd,#00c6d5,#00b9e8,#01a5ff,#088aff,#0b7eff,#0c78ff,#0e74ff,#0e72ff,#0c7aff,#088bff,#039eff,#00acfc,#00b5ef,#00bde2,#00c6d4,#00cfc7,#00d8ba)"></i><i style="background:linear-gradient(90deg,#00cccc,#00c2dc,#00b7ec,#00acfc,#0598ff,#0a80ff,#1069ff,#1260ff,#1167ff,#1263ff,#184aff,#2125ff,#280bff,#2906ff,#2906ff,#2516ff,#184aff,#0a84ff,#00abfd,#00bbe5,#00c6d5,#00cad0,#00cacf,#00c9d0,#00c4d8,#00b7eb,#02a2ff,#0987ff,#0b7dff,#0c79ff,#0d76ff,#0d76ff,#0b7fff,#0690ff,#02a2ff,#00aff8,#00b7eb,#00c0dd,#00cacf,#00d3c1,#00dcb4)"></i><i style="background:linear-gradient(90deg,#00d1c5,#00c6d4,#00bbe5,#00b0f6,#039fff,#0888ff,#0e70ff,#1166ff,#1069ff,#1263ff,#184bff,#2127ff,#270fff,#280aff,#280aff,#241aff,#184cff,#0984ff,#00acfc,#00bce4,#00c6d5,#00c9d1,#00c9d1,#00c8d3,#00c2db,#00b5ee,#039fff,#0985ff,#0c7cff,#0c79ff,#0c79ff,#0c7bff,#0a84ff,#0595ff,#01a7ff,#00b1f4,#00bae7,#00c4d9,#00ceca,#00d7bb,#00e1ad)"></i><i style="background:linear-gradient(90deg,#00d6be,#00cbcd,#00c0de,#00b4f0,#01a7ff,#0690ff,#0d78ff,#106bff,#106bff,#1263ff,#184bff,#202aff,#2613ff,#270eff,#270eff,#231eff,#174eff,#0985ff,#00adfb,#00bde3,#00c6d5,#00c8d2,#00c7d3,#00c6d5,#00c0de,#00b4f0,#039cff,#0a83ff,#0c7bff,#0c7aff,#0c7bff,#0b7fff,#0889ff,#049aff,#00abfd,#00b4f0,#00bde2,#00c7d4,#00d1c4,#00dcb4,#00e5a6)"></i><i style="background:linear-gradient(90deg,#00dbb6,#00d0c5,#00c4d7,#00b8ea,#00adfb,#0498ff,#0b7fff,#0e70ff,#0f6dff,#1263ff,#174cff,#1f2dff,#2518ff,#2612ff,#2613ff,#2222ff,#1650ff,#0986ff,#00aef9,#00bde2,#00c6d5,#00c8d3,#00c6d5,#00c4d8,#00bee1,#00b2f3,#049aff,#0a82ff,#0c7bff,#0c7bff,#0b7eff,#0a83ff,#078eff,#039fff,#00aef9,#00b7ec,#00c0de,#00cacf,#00d5be,#00e0ae,#00ea9f)"></i><i style="background:linear-gradient(90deg,#00e0ae,#00d5be,#00c9d0,#00bce3,#00b1f5,#02a0ff,#0987ff,#0d76ff,#0f6fff,#1263ff,#174dff,#1e31ff,#231dff,#2517ff,#2518ff,#2127ff,#1652ff,#0987ff,#00aff8,#00bee1,#00c6d5,#00c7d4,#00c5d6,#00c2da,#00bce4,#00b0f5,#0598ff,#0a81ff,#0c7bff,#0b7cff,#0a80ff,#0987ff,#0693ff,#01a4ff,#00b1f5,#00bae7,#00c3d9,#00cdca,#00d9b8,#00e5a7,#00ef98)"></i><i style="background:linear-gradient(90deg,#00e5a7,#00dbb6,#00cec9,#00c1dd,#00b5ef,#01a8ff,#078eff,#0c7bff,#0e71ff,#1264ff,#174fff,#1d35ff,#2222ff,#231dff,#231dff,#202cff,#1555ff,#0889ff,#00aff7,#00bfe0,#00c6d5,#00c6d4,#00c4d8,#00c1dd,#00bae7,#00aff8,#0596ff,#0a81ff,#0c7bff,#0b7dff,#0a83ff,#088bff,#0498ff,#00a9ff,#00b3f1,#00bde3,#00c6d5,#00d1c5,#00ddb2,#00e9a0,#00f391)"></i><i style="background:linear-gradient(90deg,#00ea9f,#00e0af,#00d3c2,#00c5d6,#00b9e9,#00adfb,#0596ff,#0a81ff,#0e74ff,#1165ff,#1650ff,#1c39ff,#2128ff,#2222ff,#2222ff,#1e31ff,#1458ff,#088aff,#00b0f6,#00bfdf,#00c6d5,#00c6d5,#00c3d9,#00bfdf,#00b8e9,#00adfa,#0595ff,#0a80ff,#0c7bff,#0b7eff,#0985ff,#078fff,#039dff,#00acfc,#00b6ed,#00c0de,#00c9d0,#00d4bf,#00e1ac,#00ee99,#00f88a)"></i><i style="background:linear-gradient(90deg,#00ef98,#00e5a7,#00d8bb,#00cacf,#00bde3,#00b1f5,#039dff,#0986ff,#0d76ff,#1166ff,#1653ff,#1b3dff,#1f2eff,#2128ff,#2028ff,#1d36ff,#145bff,#088bff,#00b1f4,#00c0df,#00c6d6,#00c5d6,#00c2db,#00bee1,#00b7ec,#00acfc,#0693ff,#0a80ff,#0b7cff,#0b80ff,#0988ff,#0693ff,#02a2ff,#00aff8,#00b9e9,#00c3da,#00cdcb,#00d8ba,#00e5a6,#00f293,#00fd83)"></i><i style="background:linear-gradient(90deg,#00f490,#00ea9f,#00dcb3,#00cec9,#00c1dd,#00b4f0,#01a4ff,#078cff,#0c79ff,#1167ff,#1555ff,#1a42ff,#1e34ff,#1f2eff,#1f2eff,#1c3cff,#135eff,#078dff,#00b2f3,#00c0de,#00c5d6,#00c5d7,#00c1dc,#00bce3,#00b5ee,#00abfe,#0692ff,#0a81ff,#0b7dff,#0a82ff,#088aff,#0597ff,#01a7ff,#00b1f4,#00bbe5,#00c6d5,#00d0c6,#00dbb5,#00e9a0,#00f78c,#02ff7c)"></i><i style="background:linear-gradient(90deg,#00f989,#00ef98,#00e1ac,#00d3c2,#00c5d7,#00b8ea,#00abfe,#0692ff,#0b7cff,#1069ff,#1558ff,#1947ff,#1c3aff,#1d34ff,#1d35ff,#1a42ff,#1262ff,#078fff,#00b3f2,#00c1dd,#00c5d6,#00c4d8,#00c0de,#00bbe5,#00b4f0,#00aaff,#0692ff,#0a82ff,#0b7fff,#0a83ff,#078dff,#049bff,#00abfd,#00b4f0,#00bee1,#00c9d1,#00d3c2,#00dfb0,#00ed9a,#00fb85,#07ff75)"></i><i style="background:linear-gradient(90deg,#00fd82,#00f391,#00e6a5,#00d7bb,#00c9d1,#00bce5,#00aef9,#0598ff,#0b80ff,#106cff,#145bff,#174cff,#1a41ff,#1c3bff,#1c3bff,#1948ff,#1166ff,#0690ff,#00b3f1,#00c1dd,#00c5d6,#00c4d8,#00bfdf,#00bae7,#00b3f2,#01a8ff,#0692ff,#0a83ff,#0a80ff,#0985ff,#0790ff,#039fff,#00adfa,#00b7ec,#00c1dc,#00cccc,#00d6bd,#00e2aa,#00f195,#00ff7f,#0bff6f)"></i><i style="background:linear-gradient(90deg,#03ff7b,#00f88a,#00ea9e,#00dbb5,#00cdcb,#00bfdf,#00b2f4,#039eff,#0a84ff,#0f6fff,#135eff,#1652ff,#1948ff,#1a41ff,#1a42ff,#174eff,#1069ff,#0692ff,#00b4f0,#00c1dc,#00c5d7,#00c3d9,#00bfe0,#00b9e9,#00b1f4,#01a7ff,#0692ff,#0a84ff,#0a82ff,#0988ff,#0692ff,#02a3ff,#00b0f6,#00b9e8,#00c4d8,#00cfc8,#00d9b8,#00e6a5,#00f58f,#04ff79,#0fff68)"></i><i style="background:linear-gradient(90deg,#07ff75,#00fc84,#00ef98,#00e0af,#00d1c5,#00c3da,#00b5ee,#01a4ff,#0888ff,#0e72ff,#1263ff,#1558ff,#174fff,#1848ff,#1848ff,#1554ff,#0f6dff,#0594ff,#00b4ef,#00c1dc,#00c5d7,#00c3da,#00bee1,#00b8eb,#00b0f6,#01a5ff,#0692ff,#0985ff,#0984ff,#088aff,#0595ff,#01a7ff,#00b2f3,#00bce4,#00c7d4,#00d2c3,#00ddb3,#00e9a0,#00f989,#08ff73,#13ff63)"></i><i style="background:linear-gradient(90deg,#0bff6f,#01ff7d,#00f391,#00e4a8,#00d4bf,#00c6d5,#00b8e9,#00aaff,#078dff,#0d76ff,#1167ff,#135eff,#1556ff,#174fff,#174fff,#145aff,#0e72ff,#0596ff,#00b5ee,#00c1dc,#00c4d8,#00c2db,#00bde2,#00b7ec,#00aff7,#01a5ff,#0693ff,#0987ff,#0987ff,#078dff,#0498ff,#00aafe,#00b5ef,#00bee1,#00c9d0,#00d5bf,#00e0ae,#00ed9b,#00fc84,#0cff6e,#17ff5d)"></i><i style="background:linear-gradient(90deg,#0eff6a,#05ff78,#00f78b,#00e8a3,#00d8ba,#00c9d0,#00bce4,#00adfa,#0692ff,#0c7bff,#0f6cff,#1164ff,#135dff,#1556ff,#1556ff,#1261ff,#0d76ff,#0498ff,#00b5ee,#00c1dc,#00c4d8,#00c2dc,#00bce3,#00b6ee,#00aff8,#01a4ff,#0694ff,#088aff,#088aff,#0790ff,#049cff,#00acfb,#00b7ec,#00c1dd,#00cccc,#00d8ba,#00e3aa,#00f096,#01ff7f,#0fff68,#1aff59)"></i><i style="background:linear-gradient(90deg,#11ff65,#09ff72,#00fb86,#00eb9d,#00dbb5,#00cccb,#00bfdf,#00b1f5,#0598ff,#0b80ff,#0e72ff,#106bff,#1164ff,#135dff,#135dff,#1167ff,#0c7aff,#049bff,#00b6ed,#00c1dc,#00c3d9,#00c1dc,#00bce4,#00b5ef,#00aef9,#01a4ff,#0595ff,#078cff,#078dff,#0693ff,#039fff,#00aef8,#00b9e8,#00c3d9,#00cec8,#00dbb6,#00e6a5,#00f391,#04ff7a,#12ff64,#1dff54)"></i><i style="background:linear-gradient(90deg,#14ff61,#0cff6d,#00fe80,#00ef98,#00dfb0,#00d0c7,#00c2da,#00b4f0,#039eff,#0986ff,#0c79ff,#0e72ff,#106cff,#1264ff,#1264ff,#0f6dff,#0b7fff,#039dff,#00b6ed,#00c1dc,#00c3da,#00c0dd,#00bbe6,#00b4f0,#00aefa,#01a5ff,#0597ff,#078fff,#0790ff,#0596ff,#02a3ff,#00b0f5,#00bbe5,#00c6d6,#00d1c4,#00ddb2,#00e9a0,#00f68c,#07ff75,#15ff60,#1fff51)"></i><i style="background:linear-gradient(90deg,#17ff5e,#0fff69,#03ff7c,#00f293,#00e2ab,#00d3c2,#00c6d5,#00b7eb,#01a5ff,#078cff,#0b80ff,#0c7aff,#0e73ff,#106bff,#106bff,#0e74ff,#0a83ff,#039fff,#00b6ec,#00c1dd,#00c2da,#00c0de,#00bae7,#00b3f1,#00adfa,#01a6ff,#0499ff,#0692ff,#0693ff,#049aff,#01a7ff,#00b2f2,#00bde2,#00c8d2,#00d4c1,#00e0ae,#00ec9c,#00f988,#0aff71,#18ff5c,#21ff4e)"></i><i style="background:linear-gradient(90deg,#19ff5a,#12ff65,#06ff77,#00f58e,#00e5a6,#00d6bd,#00c9d1,#00bbe6,#00abfe,#0694ff,#0987ff,#0a81ff,#0c7bff,#0e72ff,#0e72ff,#0c7aff,#0888ff,#02a2ff,#00b7ec,#00c0dd,#00c2db,#00bfdf,#00bae7,#00b3f2,#00adfa,#01a7ff,#049cff,#0595ff,#0597ff,#039eff,#00aafe,#00b5ef,#00c0df,#00cacf,#00d6bd,#00e3aa,#00ef97,#00fc83,#0dff6d,#1aff58,#23ff4b)"></i><i style="background:linear-gradient(90deg,#1bff58,#14ff61,#08ff73,#00f989,#00e8a2,#00d9b9,#00cccc,#00bee0,#00aff8,#049bff,#078fff,#0889ff,#0a82ff,#0c79ff,#0c79ff,#0a80ff,#078dff,#01a5ff,#00b7ec,#00c0de,#00c1dc,#00bfe0,#00b9e8,#00b2f3,#00adfa,#00a8ff,#039eff,#0499ff,#049bff,#02a2ff,#00adfb,#00b7ec,#00c2db,#00cccb,#00d8b9,#00e5a6,#00f293,#00ff7f,#0fff69,#1cff55,#24ff49)"></i><i style="background:linear-gradient(90deg,#1cff55,#16ff5e,#0bff6f,#00fb85,#00eb9e,#00dcb5,#00cfc7,#00c2db,#00b3f2,#02a4ff,#0597ff,#0691ff,#088aff,#0a81ff,#0b80ff,#0987ff,#0692ff,#01a8ff,#00b7eb,#00c0df,#00c1dd,#00bee1,#00b9e9,#00b2f3,#00adfa,#00aaff,#02a1ff,#039cff,#039fff,#01a6ff,#00aff8,#00b9e9,#00c4d8,#00cfc8,#00dbb6,#00e8a2,#00f58f,#03ff7b,#12ff65,#1eff53,#25ff48)"></i><i style="background:linear-gradient(90deg,#1eff53,#18ff5b,#0eff6b,#00fe81,#00ee99,#00deb0,#00d3c2,#00c6d6,#00b7ec,#00abfd,#03a0ff,#0499ff,#0691ff,#0888ff,#0987ff,#078dff,#0597ff,#00aafe,#00b7eb,#00bfdf,#00c0dd,#00bee1,#00b8ea,#00b2f3,#00aef9,#00abfd,#01a5ff,#02a0ff,#02a3ff,#00abfe,#00b1f4,#00bbe6,#00c6d5,#00d1c4,#00ddb2,#00ea9e,#00f78b,#06ff77,#14ff62,#1fff51,#26ff47)"></i><i style="background:linear-gradient(90deg,#1fff51,#1aff58,#10ff67,#02ff7d,#00f195,#00e1ac,#00d6bd,#00c9d0,#00bbe6,#00b0f6,#00a9ff,#02a1ff,#0499ff,#0790ff,#078eff,#0694ff,#039dff,#00acfc,#00b8ea,#00bfe0,#00c0de,#00bde2,#00b8ea,#00b2f3,#00aef8,#00adfb,#00a8ff,#01a4ff,#01a8ff,#00adfb,#00b4f1,#00bde2,#00c8d2,#00d3c1,#00e0ae,#00ed9a,#00fa87,#09ff73,#16ff5f,#21ff4f,#26ff46)"></i><i style="background:linear-gradient(90deg,#20ff50,#1cff55,#12ff64,#05ff79,#00f391,#00e4a8,#00d9b9,#00cdca,#00bfdf,#00b4ef,#00aef9,#00aaff,#02a1ff,#0597ff,#0595ff,#049bff,#02a3ff,#00aef9,#00b8ea,#00bfe0,#00c0de,#00bde2,#00b8ea,#00b2f3,#00aff7,#00aef9,#00abfe,#00a9ff,#00abfd,#00aff7,#00b6ed,#00c0df,#00cace,#00d6bd,#00e2ab,#00ef97,#00fd83,#0bff6f,#18ff5c,#22ff4d,#27ff45)"></i><i style="background:linear-gradient(90deg,#21ff4f,#1eff53,#15ff61,#07ff75,#00f68d,#00e7a3,#00dcb4,#00d1c5,#00c4d9,#00b9e8,#00b3f2,#00aef8,#00a9ff,#039fff,#039dff,#02a2ff,#00a9ff,#00b0f6,#00b9e8,#00bfe0,#00c0de,#00bde2,#00b8ea,#00b2f2,#00b0f6,#00aff7,#00adfb,#00acfd,#00aefa,#00b2f3,#00b9e9,#00c2db,#00cdcb,#00d8ba,#00e5a7,#00f293,#00ff7f,#0eff6b,#1aff59,#23ff4b,#27ff45)"></i><i style="background:linear-gradient(90deg,#21ff4d,#1fff51,#17ff5d,#0aff71,#00f989,#00ea9f,#00dfaf,#00d5bf,#00c8d2,#00bee1,#00b8eb,#00b3f2,#00aef9,#01a7ff,#01a5ff,#00a9ff,#00adfb,#00b2f3,#00bae7,#00bfe0,#00c0de,#00bde2,#00b8ea,#00b3f2,#00b1f4,#00b1f4,#00aff8,#00aef9,#00b0f6,#00b5ef,#00bbe5,#00c4d7,#00cfc7,#00dbb6,#00e7a3,#00f48f,#03ff7b,#10ff68,#1bff57,#24ff4a,#27ff45)"></i><i style="background:linear-gradient(90deg,#22ff4c,#21ff4e,#19ff5a,#0cff6d,#00fc84,#00ed9a,#00e3aa,#00d8b9,#00cdcb,#00c3da,#00bce3,#00b7eb,#00b2f3,#00adfb,#00abfd,#00adfa,#00b0f6,#00b5ef,#00bbe5,#00bfdf,#00c0de,#00bee1,#00b9e9,#00b4f1,#00b2f3,#00b3f2,#00b1f4,#00b0f6,#00b3f2,#00b7eb,#00bee1,#00c7d4,#00d1c4,#00ddb2,#00ea9f,#00f78c,#05ff77,#12ff64,#1dff54,#24ff49,#27ff45)"></i><i style="background:linear-gradient(90deg,#23ff4b,#22ff4c,#1bff57,#0fff69,#00ff80,#00f096,#00e6a5,#00dcb3,#00d1c4,#00c8d2,#00c1dc,#00bce4,#00b6ed,#00b1f5,#00aff7,#00b1f5,#00b3f1,#00b7eb,#00bce3,#00c0de,#00c1dd,#00bee1,#00b9e8,#00b5ef,#00b4f1,#00b5ef,#00b3f1,#00b3f2,#00b5ee,#00bae7,#00c1dd,#00cad0,#00d4c0,#00e0ae,#00ec9c,#00f988,#08ff74,#14ff61,#1eff52,#25ff48,#26ff46)"></i><i style="background:linear-gradient(90deg,#24ff4a,#24ff49,#1dff54,#11ff65,#02ff7c,#00f391,#00e9a0,#00e0ae,#00d6be,#00cdcb,#00c6d5,#00c0de,#00bae7,#00b5ee,#00b3f1,#00b5ef,#00b7eb,#00bae7,#00bee1,#00c1dd,#00c1dc,#00bfe0,#00bae7,#00b6ee,#00b5ee,#00b7ec,#00b6ee,#00b5ee,#00b8ea,#00bde2,#00c4d8,#00cccc,#00d7bc,#00e2aa,#00ef98,#00fc84,#0aff70,#16ff5e,#20ff50,#25ff48,#26ff46)"></i><i style="background:linear-gradient(90deg,#25ff48,#26ff47,#1fff50,#14ff61,#05ff77,#00f78c,#00ed9b,#00e4a8,#00dab7,#00d2c3,#00cbcd,#00c5d7,#00bfe0,#00b9e8,#00b8eb,#00b9e9,#00bbe6,#00bde2,#00c0de,#00c2db,#00c2da,#00c0de,#00bbe5,#00b7ec,#00b7ec,#00b9e9,#00b8ea,#00b8ea,#00bbe6,#00c0de,#00c7d4,#00cfc7,#00d9b8,#00e5a6,#00f294,#00fe81,#0cff6d,#18ff5b,#21ff4e,#26ff47,#26ff47)"></i><i style="background:linear-gradient(90deg,#26ff47,#27ff44,#22ff4d,#17ff5d,#08ff73,#00fa87,#00f095,#00e8a2,#00dfb0,#00d7bc,#00d0c6,#00cad0,#00c3d9,#00bee1,#00bce4,#00bde3,#00bfe0,#00c1dd,#00c2db,#00c4d9,#00c4d8,#00c1dc,#00bde3,#00b9e9,#00b9e9,#00bbe6,#00bae7,#00bae7,#00bee2,#00c3d9,#00cacf,#00d2c3,#00dcb4,#00e8a2,#00f48f,#02ff7d,#0fff69,#1aff58,#22ff4d,#26ff47,#25ff47)"></i><i style="background:linear-gradient(90deg,#27ff45,#29ff42,#24ff49,#1aff59,#0cff6e,#00fd82,#00f490,#00ec9c,#00e3a9,#00dbb5,#00d5bf,#00cec9,#00c8d3,#00c2db,#00c0de,#00c1dc,#00c3d9,#00c5d7,#00c5d7,#00c5d6,#00c5d6,#00c3da,#00bee1,#00bae6,#00bbe6,#00bde3,#00bde3,#00bde3,#00c0dd,#00c6d5,#00cdca,#00d5be,#00dfaf,#00eb9d,#00f78b,#04ff79,#11ff66,#1cff56,#23ff4b,#26ff46,#25ff48)"></i><i style="background:linear-gradient(90deg,#28ff43,#2bff3f,#27ff46,#1cff55,#0fff69,#02ff7d,#00f88a,#00f096,#00e8a3,#00e0ae,#00dab7,#00d3c2,#00cccc,#00c7d4,#00c5d7,#00c6d5,#00c8d2,#00c9d1,#00c8d2,#00c8d2,#00c7d3,#00c5d7,#00c0de,#00bde3,#00bde3,#00bfe0,#00bfdf,#00c0df,#00c3d9,#00c9d0,#00d0c5,#00d8ba,#00e2ab,#00ee99,#00fa87,#07ff75,#13ff63,#1dff53,#24ff4a,#26ff46,#25ff48)"></i><i style="background:linear-gradient(90deg,#2aff41,#2dff3c,#29ff42,#1fff50,#12ff64,#05ff77,#00fc85,#00f490,#00ec9c,#00e5a7,#00deb0,#00d8bb,#00d1c5,#00cccc,#00cad0,#00cace,#00cccc,#00cdcb,#00cbcd,#00cbce,#00cad0,#00c7d4,#00c2db,#00bfe0,#00bfdf,#00c1dc,#00c1dc,#00c2da,#00c6d5,#00cccc,#00d4c0,#00dcb5,#00e5a6,#00f294,#00fd82,#0aff71,#15ff60,#1fff51,#25ff48,#27ff46,#24ff49)"></i><i style="background:linear-gradient(90deg,#2cff3e,#30ff38,#2cff3e,#23ff4c,#16ff5f,#09ff72,#00ff7f,#00f88a,#00f096,#00e9a0,#00e3aa,#00dcb4,#00d6be,#00d1c5,#00cec8,#00cfc7,#00d1c4,#00d1c4,#00cfc7,#00ceca,#00cccc,#00c9d0,#00c5d7,#00c1dc,#00c2dc,#00c3d9,#00c4d8,#00c5d6,#00c9d0,#00cfc7,#00d7bb,#00dfaf,#00e9a1,#00f58f,#01ff7d,#0cff6d,#17ff5d,#20ff4f,#26ff47,#27ff45,#24ff49)"></i><i style="background:linear-gradient(90deg,#2dff3b,#32ff35,#2fff3a,#26ff47,#19ff5a,#0dff6c,#04ff79,#00fc84,#00f490,#00ed9a,#00e7a3,#00e1ad,#00dab6,#00d5be,#00d3c1,#00d4c0,#00d6bd,#00d6bd,#00d3c1,#00d1c5,#00cfc7,#00cccc,#00c7d3,#00c4d8,#00c4d8,#00c6d5,#00c6d4,#00c8d2,#00cccc,#00d3c2,#00dbb6,#00e3aa,#00ec9b,#00f889,#05ff79,#0fff69,#19ff5a,#22ff4d,#26ff46,#27ff45,#24ff49)"></i><i style="background:linear-gradient(90deg,#2fff39,#34ff31,#31ff35,#29ff42,#1dff54,#11ff66,#08ff73,#01ff7e,#00f88a,#00f294,#00ec9c,#00e5a6,#00dfaf,#00dab6,#00d8b9,#00d9b8,#00dbb5,#00dbb6,#00d8bb,#00d5bf,#00d2c3,#00cfc8,#00cace,#00c7d3,#00c7d4,#00c8d2,#00c9d1,#00cbce,#00cfc7,#00d6bd,#00deb1,#00e6a5,#00f096,#00fc84,#08ff74,#11ff65,#1bff57,#23ff4b,#27ff45,#27ff45,#24ff4a)"></i><i style="background:linear-gradient(90deg,#31ff35,#37ff2d,#34ff31,#2cff3d,#20ff4f,#15ff61,#0cff6d,#05ff78,#00fc84,#00f68e,#00f096,#00ea9f,#00e4a8,#00dfaf,#00ddb2,#00deb1,#00e0ae,#00e0ae,#00dcb4,#00d9b9,#00d6be,#00d2c3,#00ceca,#00cacf,#00cad0,#00cbce,#00cccd,#00ceca,#00d2c3,#00d9b8,#00e2ac,#00eaa0,#00f491,#00ff7f,#0bff6f,#14ff61,#1dff54,#24ff49,#27ff45,#27ff45,#24ff4a)"></i><i style="background:linear-gradient(90deg,#33ff32,#39ff2a,#37ff2d,#2fff39,#24ff4a,#18ff5b,#10ff68,#08ff73,#01ff7e,#00f988,#00f490,#00ee98,#00e9a1,#00e4a7,#00e2aa,#00e3a9,#00e5a6,#00e5a6,#00e1ad,#00ddb3,#00d9b8,#00d5bf,#00d1c5,#00ceca,#00cccb,#00cdca,#00cec9,#00d1c5,#00d5be,#00dcb3,#00e5a6,#00ed9a,#00f78b,#04ff79,#0eff6a,#17ff5e,#1fff51,#25ff48,#28ff44,#27ff45,#24ff4a)"></i><i style="background:linear-gradient(90deg,#36ff2f,#3cff26,#3aff29,#32ff34,#27ff44,#1cff55,#14ff62,#0cff6d,#04ff79,#00fd82,#00f88a,#00f392,#00ee9a,#00e9a0,#00e7a3,#00e8a2,#00eb9e,#00ea9f,#00e6a5,#00e1ad,#00ddb3,#00d8b9,#00d4c0,#00d1c5,#00cfc7,#00d0c7,#00d1c5,#00d4c1,#00d8ba,#00e0ae,#00e9a1,#00f195,#00fb86,#08ff74,#11ff65,#19ff5a,#21ff4f,#26ff47,#28ff43,#27ff45,#24ff4a)"></i><i style="background:linear-gradient(90deg,#38ff2c,#3eff22,#3dff24,#35ff2f,#2bff3f,#20ff50,#17ff5c,#10ff68,#08ff74,#02ff7d,#00fc84,#00f78b,#00f292,#00ee98,#00ec9b,#00ed9a,#00f096,#00ef97,#00eb9e,#00e5a6,#00e0ad,#00dcb4,#00d8ba,#00d4bf,#00d3c2,#00d2c3,#00d4c0,#00d7bc,#00dbb5,#00e3a9,#00ec9c,#00f58f,#00fe80,#0bff6f,#14ff61,#1cff56,#22ff4c,#27ff45,#28ff43,#27ff45,#23ff4a)"></i><i style="background:linear-gradient(90deg,#3aff29,#41ff1f,#3fff20,#38ff2b,#2eff3a,#24ff4a,#1bff57,#13ff63,#0bff6f,#05ff78,#01ff7e,#00fb85,#00f78b,#00f391,#00f194,#00f293,#00f58f,#00f58f,#00f097,#00eaa0,#00e4a8,#00dfaf,#00dbb5,#00d8ba,#00d6bd,#00d5be,#00d7bc,#00dab7,#00dfb0,#00e6a4,#00f097,#00f88a,#03ff7b,#0eff6a,#17ff5c,#1eff53,#24ff4a,#27ff44,#29ff43,#27ff45,#23ff4a)"></i><i style="background:linear-gradient(90deg,#3cff26,#43ff1b,#42ff1d,#3bff27,#31ff35,#27ff45,#1fff52,#17ff5e,#0eff6a,#08ff73,#04ff79,#01ff7f,#00fc85,#00f88a,#00f68c,#00f78b,#00fa87,#00fa88,#00f58f,#00ee99,#00e8a2,#00e3a9,#00dfaf,#00dcb4,#00d9b9,#00d8ba,#00d9b8,#00ddb3,#00e2ab,#00ea9f,#00f391,#00fc84,#07ff76,#12ff65,#1aff58,#20ff4f,#25ff48,#28ff43,#29ff42,#27ff45,#23ff4b)"></i><i style="background:linear-gradient(90deg,#3eff22,#45ff18,#44ff19,#3eff22,#35ff31,#2bff40,#22ff4c,#1aff59,#12ff65,#0cff6e,#08ff74,#05ff79,#01ff7e,#00fd83,#00fb85,#00fc84,#00ff80,#00ff80,#00f988,#00f292,#00ec9c,#00e7a4,#00e3aa,#00dfaf,#00dcb4,#00dbb6,#00ddb3,#00e0ae,#00e5a6,#00ed9a,#00f78c,#00ff7f,#0aff70,#15ff60,#1dff54,#22ff4c,#26ff46,#29ff42,#29ff42,#27ff45,#23ff4b)"></i><i style="background:linear-gradient(90deg,#40ff20,#47ff14,#47ff15,#41ff1e,#37ff2c,#2eff3b,#25ff48,#1dff54,#14ff61,#0eff6a,#0bff6f,#08ff73,#06ff77,#03ff7c,#01ff7e,#02ff7d,#05ff79,#04ff79,#00fe81,#00f78c,#00f096,#00ea9e,#00e6a4,#00e3a9,#00e0af,#00deb1,#00e0af,#00e4a9,#00e9a1,#00f195,#00fa87,#04ff7a,#0dff6b,#18ff5c,#20ff50,#24ff49,#27ff44,#29ff42,#29ff42,#27ff45,#23ff4b)"></i><i style="background:linear-gradient(90deg,#42ff1d,#49ff11,#49ff12,#43ff1b,#3aff28,#31ff36,#28ff43,#20ff50,#17ff5d,#11ff66,#0eff6a,#0cff6d,#0aff71,#07ff75,#06ff77,#06ff76,#09ff72,#09ff72,#04ff7a,#00fb85,#00f490,#00ee99,#00ea9f,#00e7a4,#00e3aa,#00e1ad,#00e3aa,#00e7a4,#00ec9c,#00f490,#00fd82,#07ff75,#11ff67,#1bff57,#22ff4d,#26ff47,#28ff43,#2aff41,#29ff42,#27ff45,#23ff4b)"></i><i style="background:linear-gradient(90deg,#44ff1a,#4bff0f,#4bff0f,#45ff18,#3dff24,#34ff32,#2bff3f,#22ff4c,#1aff59,#14ff62,#11ff66,#10ff68,#0eff6a,#0cff6e,#0aff70,#0bff6f,#0eff6b,#0dff6b,#08ff73,#00ff7f,#00f78b,#00f293,#00ee99,#00ea9e,#00e6a4,#00e4a8,#00e6a5,#00ea9e,#00f097,#00f78b,#02ff7d,#0aff70,#14ff62,#1dff53,#24ff49,#28ff44,#29ff41,#2aff41,#29ff42,#26ff46,#23ff4c)"></i><i style="background:linear-gradient(90deg,#45ff18,#4dff0c,#4dff0c,#47ff15,#3fff21,#36ff2e,#2eff3b,#25ff48,#1cff55,#16ff5e,#14ff62,#13ff63,#12ff65,#10ff68,#0eff6a,#0fff69,#12ff65,#12ff65,#0cff6d,#04ff79,#00fb85,#00f58e,#00f194,#00ee99,#00ea9f,#00e7a3,#00eaa0,#00ee99,#00f391,#00fb86,#05ff78,#0eff6b,#17ff5e,#20ff50,#26ff46,#29ff42,#2aff40,#2aff40,#29ff42,#26ff46,#22ff4c)"></i><i style="background:linear-gradient(90deg,#47ff16,#4eff0a,#4eff0a,#49ff12,#41ff1e,#38ff2b,#30ff38,#27ff45,#1eff52,#19ff5b,#16ff5e,#16ff5e,#16ff5f,#14ff62,#13ff64,#13ff63,#16ff5f,#15ff5f,#10ff67,#08ff74,#00fe80,#00f989,#00f58f,#00f294,#00ed9a,#00eb9e,#00ed9a,#00f293,#00f78c,#00fe81,#08ff73,#11ff67,#19ff5a,#22ff4c,#28ff44,#2aff40,#2bff3f,#2aff40,#28ff43,#26ff47,#22ff4c)"></i><i style="background:linear-gradient(90deg,#48ff14,#50ff08,#50ff08,#4bff10,#43ff1b,#3aff28,#32ff34,#29ff42,#20ff4f,#1bff57,#19ff5a,#19ff5a,#19ff59,#18ff5c,#16ff5e,#17ff5d,#19ff5a,#19ff5a,#14ff62,#0bff6f,#03ff7b,#00fc84,#00f88a,#00f58e,#00f195,#00ee99,#00f195,#00f68e,#00fa86,#02ff7c,#0bff6f,#13ff62,#1cff56,#24ff49,#29ff41,#2bff3e,#2bff3e,#2aff40,#28ff43,#25ff47,#22ff4d)"></i><i style="background:linear-gradient(90deg,#49ff12,#51ff06,#51ff06,#4cff0e,#44ff19,#3cff25,#34ff32,#2bff3f,#22ff4c,#1dff55,#1bff57,#1cff55,#1dff54,#1bff56,#1aff58,#1bff58,#1dff55,#1cff55,#17ff5d,#0fff6a,#06ff77,#00ff7f,#00fc85,#00f889,#00f490,#00f293,#00f58f,#00f988,#00fe81,#06ff77,#0eff6a,#16ff5e,#1eff52,#26ff47,#2bff40,#2cff3d,#2cff3e,#2aff40,#28ff44,#25ff48,#21ff4e)"></i><i style="background:linear-gradient(90deg,#4aff11,#52ff05,#52ff05,#4dff0c,#45ff17,#3dff23,#35ff2f,#2dff3d,#24ff49,#1eff52,#1dff54,#1fff51,#20ff50,#1fff51,#1eff53,#1eff52,#20ff50,#1fff51,#1aff59,#11ff65,#09ff72,#03ff7b,#00ff80,#00fc84,#00f88a,#00f58e,#00f989,#00fd82,#03ff7b,#09ff72,#11ff66,#19ff5b,#20ff4f,#27ff45,#2cff3e,#2dff3c,#2cff3e,#2aff40,#28ff44,#25ff49,#21ff4e)"></i><i style="background:linear-gradient(90deg,#4aff10,#52ff04,#52ff04,#4eff0b,#46ff16,#3fff22,#37ff2e,#2eff3a,#26ff47,#20ff4f,#1fff51,#21ff4e,#23ff4b,#22ff4c,#21ff4e,#21ff4e,#22ff4c,#22ff4d,#1dff55,#14ff61,#0cff6e,#06ff76,#03ff7b,#00ff80,#00fb85,#00f988,#00fc83,#02ff7c,#07ff76,#0cff6d,#14ff62,#1bff57,#22ff4c,#29ff43,#2cff3d,#2dff3c,#2cff3d,#2aff41,#27ff45,#24ff4a,#20ff4f)"></i><i style="background:linear-gradient(90deg,#4bff0f,#53ff04,#53ff03,#4eff0a,#47ff15,#40ff20,#38ff2c,#2fff39,#27ff45,#22ff4d,#21ff4f,#24ff4a,#26ff47,#25ff47,#24ff49,#24ff49,#25ff48,#24ff4a,#1fff51,#17ff5d,#0eff6a,#09ff72,#06ff77,#03ff7b,#00ff80,#00fd83,#02ff7d,#06ff76,#0aff70,#10ff68,#16ff5e,#1dff54,#24ff4a,#2aff41,#2dff3c,#2eff3b,#2cff3d,#2aff41,#27ff45,#23ff4a,#20ff50)"></i><i style="background:linear-gradient(90deg,#4bff0f,#53ff03,#53ff03,#4eff0a,#48ff14,#40ff1f,#39ff2a,#30ff37,#28ff43,#23ff4b,#22ff4c,#26ff47,#29ff43,#28ff43,#27ff45,#27ff45,#27ff44,#26ff46,#21ff4e,#19ff5a,#11ff66,#0cff6e,#09ff73,#06ff76,#03ff7b,#02ff7d,#06ff77,#0bff70,#0eff6a,#13ff63,#19ff5a,#1fff50,#25ff47,#2aff40,#2dff3b,#2eff3b,#2cff3d,#29ff42,#26ff46,#23ff4b,#1fff51)"></i><i style="background:linear-gradient(90deg,#4bff0e,#53ff03,#53ff03,#4fff0a,#48ff13,#41ff1e,#39ff29,#31ff35,#2aff41,#24ff49,#24ff4a,#28ff44,#2bff3f,#2bff3f,#2aff40,#2aff41,#2aff41,#28ff43,#23ff4b,#1cff56,#13ff62,#0eff6a,#0bff6e,#09ff72,#07ff76,#06ff77,#0aff71,#0fff6a,#12ff65,#16ff5e,#1cff56,#21ff4d,#27ff45,#2bff3f,#2eff3b,#2eff3b,#2cff3e,#29ff42,#26ff47,#22ff4c,#1eff52)"></i><i style="background:linear-gradient(90deg,#4cff0e,#53ff03,#53ff03,#4fff0a,#48ff13,#41ff1d,#3aff28,#32ff34,#2bff3f,#26ff47,#25ff47,#2aff41,#2eff3b,#2eff3b,#2dff3c,#2cff3d,#2cff3e,#2aff41,#25ff48,#1eff53,#16ff5f,#11ff66,#0eff6a,#0cff6d,#0aff71,#0aff71,#0eff6b,#13ff64,#16ff5f,#19ff5a,#1eff52,#23ff4b,#28ff43,#2cff3e,#2eff3b,#2eff3b,#2cff3e,#29ff43,#25ff48,#21ff4e,#1dff54)"></i><i style="background:linear-gradient(90deg,#4bff0e,#53ff03,#53ff03,#4fff0a,#48ff13,#42ff1d,#3bff28,#33ff33,#2cff3e,#27ff45,#27ff45,#2cff3e,#30ff37,#30ff37,#2fff38,#2fff3a,#2eff3b,#2cff3e,#27ff45,#20ff50,#18ff5b,#13ff62,#11ff66,#0fff69,#0dff6c,#0dff6b,#12ff65,#17ff5d,#19ff5a,#1cff55,#20ff4f,#25ff48,#29ff42,#2cff3d,#2eff3b,#2eff3b,#2bff3e,#28ff43,#24ff49,#21ff4f,#1cff55)"></i><i style="background:linear-gradient(90deg,#4bff0f,#53ff04,#53ff03,#4eff0a,#48ff13,#42ff1d,#3bff27,#34ff32,#2dff3c,#28ff43,#28ff43,#2eff3b,#32ff34,#33ff33,#32ff35,#31ff36,#2fff38,#2dff3c,#29ff43,#22ff4d,#1bff58,#16ff5f,#13ff62,#12ff65,#11ff67,#11ff66,#16ff5e,#1bff58,#1dff54,#1fff51,#23ff4b,#27ff45,#2aff40,#2dff3d,#2eff3b,#2dff3b,#2bff3f,#28ff44,#24ff4a,#20ff50,#1cff56)"></i><i style="background:linear-gradient(90deg,#4bff0f,#52ff04,#52ff04,#4eff0a,#48ff13,#42ff1d,#3bff27,#34ff31,#2eff3b,#2aff41,#2aff41,#2fff38,#34ff31,#35ff30,#34ff31,#33ff33,#31ff36,#2fff3a,#2aff40,#24ff4a,#1dff54,#18ff5b,#16ff5f,#15ff60,#14ff62,#15ff60,#1aff58,#1fff52,#21ff4f,#22ff4c,#25ff48,#28ff43,#2bff3f,#2dff3c,#2eff3b,#2dff3c,#2bff40,#27ff45,#23ff4b,#1fff51,#1bff58)"></i><i style="background:linear-gradient(90deg,#4aff10,#52ff05,#52ff05,#4eff0b,#48ff14,#42ff1d,#3bff26,#35ff30,#2fff39,#2bff3f,#2bff3f,#31ff36,#37ff2e,#38ff2c,#37ff2e,#35ff30,#33ff33,#30ff37,#2cff3e,#26ff47,#1fff51,#1bff57,#18ff5b,#17ff5c,#17ff5d,#19ff5a,#1eff52,#22ff4c,#24ff49,#25ff48,#27ff45,#2aff41,#2cff3d,#2dff3c,#2dff3b,#2dff3d,#2aff40,#26ff46,#22ff4c,#1eff53,#1aff59)"></i><i style="background:linear-gradient(90deg,#4aff11,#51ff06,#51ff06,#4dff0c,#48ff14,#42ff1d,#3cff26,#35ff30,#30ff38,#2cff3d,#2dff3c,#33ff33,#39ff2b,#3aff29,#39ff2a,#37ff2d,#35ff31,#32ff35,#2eff3b,#28ff44,#21ff4d,#1dff54,#1bff57,#1aff58,#1aff58,#1dff54,#22ff4d,#26ff46,#27ff44,#28ff44,#29ff42,#2bff3f,#2dff3c,#2dff3c,#2dff3c,#2cff3d,#2aff41,#26ff47,#22ff4d,#1dff54,#18ff5b)"></i><i style="background:linear-gradient(90deg,#49ff12,#50ff07,#51ff06,#4dff0c,#47ff14,#42ff1d,#3cff26,#36ff2f,#31ff36,#2eff3b,#2eff3a,#35ff30,#3bff28,#3cff26,#3bff27,#39ff2a,#36ff2e,#33ff33,#2fff39,#2aff41,#24ff4a,#20ff50,#1dff53,#1dff54,#1eff53,#20ff4f,#26ff47,#2aff41,#2bff3f,#2bff40,#2bff3f,#2dff3c,#2eff3b,#2dff3b,#2dff3c,#2cff3e,#29ff42,#25ff48,#21ff4e,#1cff56,#17ff5d)"></i><i style="background:linear-gradient(90deg,#48ff13,#50ff08,#50ff07,#4cff0d,#47ff15,#41ff1d,#3cff26,#36ff2e,#32ff35,#2fff39,#30ff38,#36ff2e,#3cff25,#3eff23,#3dff24,#3bff27,#38ff2c,#35ff31,#31ff36,#2cff3e,#26ff46,#22ff4d,#20ff50,#20ff50,#21ff4e,#24ff49,#2aff41,#2eff3b,#2eff3b,#2dff3c,#2dff3c,#2eff3b,#2fff3a,#2eff3b,#2dff3d,#2bff3f,#29ff43,#25ff49,#20ff50,#1bff57,#16ff5e)"></i><i style="background:linear-gradient(90deg,#48ff14,#4fff09,#4fff08,#4cff0e,#47ff16,#41ff1e,#3cff26,#37ff2d,#33ff33,#30ff37,#32ff35,#38ff2b,#3eff22,#40ff20,#3fff21,#3dff24,#3aff29,#36ff2e,#33ff33,#2eff3b,#28ff43,#24ff49,#22ff4c,#22ff4c,#24ff4a,#28ff44,#2dff3c,#31ff36,#31ff36,#30ff38,#2fff39,#2fff39,#2fff39,#2eff3b,#2cff3d,#2bff3f,#28ff43,#24ff4a,#1fff51,#1aff59,#15ff60)"></i><i style="background:linear-gradient(90deg,#47ff15,#4eff0a,#4fff09,#4bff0f,#46ff16,#41ff1e,#3cff26,#37ff2c,#34ff31,#32ff35,#33ff33,#3aff28,#40ff1f,#42ff1d,#41ff1e,#3fff22,#3bff27,#38ff2c,#35ff31,#30ff37,#2bff3f,#27ff45,#25ff48,#25ff48,#27ff45,#2bff3f,#31ff37,#34ff31,#34ff32,#32ff34,#30ff37,#30ff37,#30ff38,#2eff3a,#2cff3d,#2aff40,#27ff44,#23ff4b,#1eff53,#19ff5b,#14ff62)"></i><i style="background:linear-gradient(90deg,#46ff17,#4dff0b,#4eff0a,#4bff0f,#46ff17,#41ff1e,#3cff25,#38ff2c,#35ff30,#34ff32,#35ff30,#3cff26,#42ff1d,#43ff1a,#43ff1c,#40ff1f,#3dff24,#3aff29,#37ff2d,#32ff34,#2dff3b,#29ff42,#27ff45,#27ff44,#2aff41,#2eff3a,#34ff32,#37ff2c,#37ff2d,#34ff31,#32ff34,#32ff35,#31ff37,#2eff3a,#2cff3d,#2aff40,#27ff45,#22ff4c,#1dff54,#17ff5c,#12ff64)"></i><i style="background:linear-gradient(90deg,#45ff18,#4dff0d,#4eff0b,#4aff10,#46ff17,#41ff1e,#3cff25,#39ff2b,#37ff2e,#35ff2f,#37ff2d,#3eff23,#44ff1a,#45ff18,#44ff19,#42ff1c,#3fff21,#3cff26,#39ff2a,#35ff30,#30ff38,#2cff3e,#2aff41,#2aff41,#2dff3c,#31ff35,#37ff2d,#3aff28,#39ff29,#36ff2e,#34ff32,#33ff34,#31ff36,#2fff3a,#2cff3d,#2aff41,#26ff46,#22ff4d,#1cff55,#16ff5e,#11ff66)"></i><i style="background:linear-gradient(90deg,#44ff1a,#4cff0e,#4dff0c,#4aff11,#45ff17,#41ff1e,#3cff25,#39ff2a,#38ff2c,#37ff2d,#39ff2a,#40ff20,#45ff17,#47ff15,#46ff16,#44ff19,#41ff1e,#3eff23,#3bff27,#37ff2c,#33ff34,#2eff3a,#2cff3d,#2cff3d,#2fff38,#34ff31,#3aff28,#3dff24,#3cff26,#38ff2b,#35ff30,#34ff32,#32ff35,#2fff39,#2cff3d,#29ff42,#26ff47,#21ff4e,#1bff57,#15ff60,#10ff68)"></i><i style="background:linear-gradient(90deg,#42ff1c,#4bff0f,#4cff0d,#49ff11,#45ff18,#41ff1e,#3dff25,#3aff29,#39ff2a,#39ff2a,#3bff27,#42ff1d,#47ff15,#49ff13,#48ff14,#46ff17,#43ff1c,#40ff20,#3dff23,#3aff29,#35ff30,#31ff36,#2eff3a,#2fff39,#32ff34,#37ff2c,#3dff24,#40ff20,#3eff22,#3aff28,#36ff2e,#35ff31,#33ff34,#2fff39,#2cff3d,#29ff42,#25ff48,#20ff4f,#1aff59,#14ff62,#0eff6a)"></i><i style="background:linear-gradient(90deg,#41ff1e,#4aff10,#4cff0e,#49ff12,#45ff18,#41ff1e,#3dff24,#3bff28,#3aff28,#3bff27,#3dff24,#43ff1a,#49ff12,#4aff10,#49ff11,#48ff14,#45ff19,#42ff1d,#40ff20,#3cff25,#38ff2c,#33ff32,#31ff36,#31ff35,#35ff30,#3aff28,#40ff20,#42ff1c,#40ff1f,#3cff25,#38ff2c,#35ff2f,#33ff33,#30ff38,#2cff3d,#29ff43,#25ff48,#1fff50,#19ff5a,#12ff64,#0dff6c)"></i><i style="background:linear-gradient(90deg,#40ff1f,#49ff12,#4bff0f,#48ff13,#45ff18,#41ff1e,#3dff24,#3bff27,#3cff26,#3dff24,#3fff21,#45ff18,#4aff10,#4cff0e,#4bff0f,#49ff12,#46ff16,#44ff1a,#42ff1c,#3fff21,#3aff28,#36ff2f,#33ff33,#34ff32,#37ff2d,#3dff24,#42ff1c,#44ff19,#42ff1c,#3eff23,#39ff2a,#36ff2e,#34ff32,#30ff38,#2cff3d,#28ff43,#24ff49,#1fff52,#18ff5c,#11ff66,#0bff6f)"></i><i style="background:linear-gradient(90deg,#3fff21,#48ff13,#4aff10,#48ff14,#44ff19,#41ff1f,#3dff24,#3cff26,#3dff24,#3fff22,#41ff1e,#47ff15,#4cff0e,#4dff0c,#4cff0d,#4bff0f,#48ff13,#46ff17,#45ff19,#42ff1d,#3dff24,#38ff2b,#35ff2f,#36ff2f,#3aff29,#3fff21,#44ff19,#46ff16,#44ff19,#3fff21,#3aff28,#37ff2d,#34ff31,#30ff37,#2cff3e,#28ff44,#23ff4a,#1eff53,#17ff5d,#10ff68,#0aff71)"></i><i style="background:linear-gradient(90deg,#3eff23,#47ff15,#49ff11,#47ff14,#44ff19,#41ff1f,#3dff23,#3cff25,#3eff22,#40ff1f,#43ff1b,#49ff12,#4dff0c,#4eff0a,#4eff0b,#4cff0d,#4aff10,#48ff13,#47ff15,#44ff19,#3fff20,#3bff28,#38ff2c,#38ff2b,#3cff26,#41ff1d,#46ff16,#48ff13,#46ff17,#40ff1f,#3bff27,#38ff2c,#35ff31,#30ff37,#2cff3e,#28ff44,#23ff4b,#1dff54,#16ff5f,#0eff6a,#08ff73)"></i><i style="background:linear-gradient(90deg,#3cff25,#46ff16,#49ff12,#47ff15,#44ff1a,#40ff1f,#3dff23,#3dff24,#3fff20,#42ff1c,#45ff18,#4bff10,#4fff0a,#50ff08,#4fff09,#4eff0b,#4cff0e,#4aff10,#49ff12,#46ff16,#42ff1d,#3dff24,#3aff29,#3aff28,#3eff22,#43ff1a,#48ff13,#4aff11,#47ff15,#42ff1d,#3cff26,#38ff2b,#35ff30,#31ff37,#2cff3e,#27ff45,#22ff4c,#1cff55,#14ff61,#0dff6c,#07ff75)"></i><i style="background:linear-gradient(90deg,#3bff27,#45ff18,#48ff14,#46ff16,#43ff1a,#40ff1f,#3eff23,#3eff23,#41ff1f,#44ff1a,#47ff15,#4cff0d,#50ff08,#51ff06,#50ff07,#4fff09,#4dff0b,#4cff0e,#4bff0f,#49ff12,#44ff19,#3fff21,#3cff26,#3cff25,#40ff1f,#45ff18,#4aff11,#4bff0f,#48ff13,#43ff1b,#3dff25,#39ff2a,#35ff30,#31ff36,#2cff3e,#27ff46,#21ff4d,#1bff57,#13ff63,#0bff6e,#06ff77)"></i><i style="background:linear-gradient(90deg,#3aff29,#44ff19,#47ff15,#46ff17,#43ff1b,#40ff1f,#3eff23,#3eff22,#42ff1d,#45ff18,#49ff12,#4eff0b,#51ff06,#52ff05,#51ff05,#51ff07,#4fff09,#4eff0b,#4dff0c,#4bff0f,#46ff16,#41ff1e,#3eff23,#3eff22,#42ff1d,#47ff15,#4bff0f,#4cff0d,#49ff11,#44ff1a,#3dff24,#39ff2a,#35ff2f,#31ff36,#2cff3e,#26ff46,#21ff4e,#1aff58,#12ff64,#0aff70,#04ff79)"></i><i style="background:linear-gradient(90deg,#38ff2b,#43ff1b,#46ff16,#45ff18,#43ff1b,#40ff20,#3eff23,#3fff22,#43ff1c,#47ff16,#4aff10,#4fff09,#52ff04,#53ff04,#52ff04,#52ff05,#50ff07,#50ff08,#4fff09,#4dff0c,#48ff13,#43ff1b,#3fff20,#40ff20,#44ff1a,#48ff13,#4cff0d,#4dff0b,#4aff10,#44ff19,#3eff23,#39ff2a,#35ff2f,#31ff36,#2bff3e,#26ff47,#20ff50,#19ff5a,#11ff66,#09ff72,#03ff7b)"></i><i style="background:linear-gradient(90deg,#37ff2d,#42ff1d,#45ff17,#45ff19,#42ff1c,#40ff20,#3eff23,#3fff21,#43ff1b,#48ff14,#4cff0e,#50ff07,#53ff03,#53ff02,#53ff03,#53ff04,#52ff05,#51ff06,#51ff06,#4fff09,#4aff10,#45ff18,#41ff1e,#42ff1d,#45ff18,#4aff11,#4dff0b,#4eff0a,#4bff0f,#45ff18,#3eff22,#39ff29,#35ff2f,#31ff36,#2bff3f,#25ff48,#1fff51,#18ff5b,#10ff68,#07ff74,#01ff7d)"></i><i style="background:linear-gradient(90deg,#36ff2f,#41ff1e,#44ff19,#44ff1a,#42ff1d,#3fff20,#3eff23,#3fff21,#44ff1a,#49ff12,#4dff0c,#51ff05,#54ff02,#54ff01,#54ff02,#54ff02,#53ff03,#53ff04,#52ff04,#50ff07,#4cff0d,#46ff16,#43ff1b,#43ff1b,#46ff16,#4bff0f,#4eff0a,#4fff09,#4bff0e,#45ff18,#3eff22,#39ff29,#35ff30,#30ff37,#2bff40,#24ff49,#1eff52,#17ff5d,#0eff6a,#06ff76,#00ff7f)"></i><i style="background:linear-gradient(90deg,#35ff30,#40ff20,#43ff1a,#43ff1b,#41ff1e,#3fff21,#3eff23,#3fff20,#44ff19,#4aff11,#4eff0a,#52ff04,#55ff01,#55ff01,#54ff01,#54ff01,#54ff02,#54ff02,#54ff02,#52ff05,#4eff0b,#48ff14,#44ff19,#44ff19,#48ff14,#4cff0e,#4fff09,#4fff09,#4cff0e,#45ff18,#3eff22,#39ff2a,#35ff30,#30ff37,#2aff40,#23ff4a,#1dff54,#16ff5f,#0dff6c,#05ff78,#00fe81)"></i><i style="background:linear-gradient(90deg,#34ff32,#3fff22,#42ff1c,#42ff1c,#40ff1f,#3fff22,#3eff23,#3fff20,#45ff18,#4aff10,#4fff09,#53ff03,#55ff00,#55ff00,#55ff00,#55ff00,#55ff01,#55ff00,#55ff00,#53ff03,#4fff09,#49ff12,#45ff17,#46ff17,#48ff13,#4cff0d,#4fff09,#4fff09,#4cff0e,#45ff17,#3eff22,#39ff2a,#35ff31,#30ff38,#29ff41,#22ff4c,#1cff56,#15ff61,#0cff6e,#04ff7a,#00fd83)"></i><i style="background:linear-gradient(90deg,#32ff34,#3dff24,#41ff1e,#41ff1e,#40ff20,#3eff22,#3dff24,#3fff20,#45ff18,#4bff10,#50ff08,#54ff02,#56ff00,#56ff00,#55ff00,#55ff00,#55ff00,#56ff00,#56ff00,#54ff02,#50ff08,#4aff10,#47ff16,#47ff16,#49ff12,#4dff0d,#4fff09,#4fff09,#4bff0e,#45ff18,#3eff22,#39ff2a,#34ff31,#2fff39,#29ff43,#21ff4d,#1bff57,#13ff62,#0bff6f,#03ff7c,#00fc85)"></i><i style="background:linear-gradient(90deg,#31ff36,#3cff25,#40ff1f,#40ff1f,#3fff21,#3dff23,#3dff24,#3fff20,#45ff18,#4bff0f,#50ff08,#54ff02,#57ff00,#56ff00,#55ff00,#56ff00,#56ff00,#57fe00,#57fe00,#55ff01,#51ff07,#4bff0f,#48ff14,#47ff14,#4aff11,#4dff0c,#4fff09,#4eff0a,#4bff0f,#45ff18,#3eff23,#38ff2b,#33ff33,#2eff3a,#28ff44,#20ff4f,#1aff59,#12ff64,#0aff71,#01ff7d,#00fb86)"></i><i style="background:linear-gradient(90deg,#30ff37,#3bff27,#3fff21,#3fff21,#3eff23,#3dff24,#3dff25,#3fff21,#45ff19,#4bff0f,#50ff07,#54ff01,#57ff00,#56ff00,#55ff00,#56ff00,#57ff00,#58fe00,#58fe00,#55ff00,#51ff06,#4cff0e,#48ff13,#48ff13,#4aff10,#4dff0c,#4eff0a,#4eff0b,#4aff10,#44ff19,#3dff23,#38ff2c,#32ff34,#2dff3c,#27ff46,#1fff51,#18ff5b,#11ff66,#08ff73,#00ff7f,#00fa88)"></i><i style="background:linear-gradient(90deg,#2fff39,#3aff29,#3eff23,#3eff23,#3dff24,#3cff25,#3cff25,#3fff21,#44ff19,#4aff10,#50ff08,#54ff01,#57ff00,#55ff00,#55ff00,#56ff00,#57ff00,#58fe00,#58fe00,#55ff00,#51ff05,#4cff0d,#49ff12,#49ff12,#4aff10,#4cff0d,#4eff0b,#4dff0c,#49ff11,#44ff1a,#3dff24,#37ff2d,#32ff35,#2cff3d,#25ff47,#1eff53,#17ff5d,#0fff68,#07ff75,#00fe81,#00f989)"></i><i style="background:linear-gradient(90deg,#2eff3a,#38ff2b,#3cff25,#3dff25,#3cff26,#3bff27,#3cff26,#3eff22,#44ff1a,#4aff11,#50ff08,#54ff01,#56ff00,#55ff00,#55ff01,#55ff00,#57ff00,#58fe00,#58fe00,#55ff00,#52ff05,#4dff0c,#49ff11,#49ff12,#4aff10,#4cff0d,#4dff0c,#4cff0e,#48ff13,#43ff1b,#3cff25,#36ff2f,#31ff37,#2bff3f,#24ff49,#1dff55,#16ff5f,#0eff6a,#06ff77,#00fd82,#00f88a)"></i><i style="background:linear-gradient(90deg,#2dff3c,#37ff2d,#3bff27,#3bff26,#3bff27,#3aff28,#3bff27,#3eff23,#43ff1b,#49ff12,#4fff09,#54ff02,#56ff00,#55ff01,#54ff01,#55ff00,#56ff00,#57ff00,#57ff00,#55ff01,#52ff05,#4dff0c,#4aff11,#49ff12,#4aff10,#4bff0e,#4cff0e,#4bff10,#47ff15,#42ff1d,#3bff27,#35ff30,#2fff38,#2aff41,#23ff4b,#1bff57,#14ff61,#0dff6d,#05ff79,#00fc83,#00f78b)"></i><i style="background:linear-gradient(90deg,#2cff3d,#35ff2f,#39ff29,#3aff28,#3aff29,#39ff29,#3aff28,#3dff24,#42ff1c,#48ff13,#4fff0a,#53ff03,#55ff00,#54ff01,#54ff02,#54ff01,#55ff00,#56ff00,#56ff00,#54ff01,#51ff06,#4dff0c,#4aff10,#49ff11,#4aff11,#4bff10,#4bff10,#49ff12,#46ff16,#41ff1e,#3aff28,#34ff31,#2eff3a,#28ff43,#21ff4d,#1aff59,#13ff64,#0bff6f,#03ff7a,#00fb85,#00f68d)"></i><i style="background:linear-gradient(90deg,#2bff3f,#34ff31,#38ff2c,#39ff2b,#38ff2b,#38ff2b,#3aff29,#3dff25,#41ff1e,#47ff15,#4eff0b,#53ff04,#54ff01,#53ff02,#53ff03,#54ff02,#54ff01,#55ff00,#54ff01,#53ff03,#51ff06,#4dff0c,#4aff10,#49ff11,#4aff11,#4aff11,#49ff12,#48ff14,#45ff19,#40ff20,#39ff2a,#33ff33,#2dff3c,#27ff45,#20ff50,#18ff5b,#11ff66,#0aff71,#02ff7c,#00fb86,#00f68e)"></i><i style="background:linear-gradient(90deg,#2aff41,#33ff34,#36ff2e,#37ff2d,#37ff2d,#37ff2d,#39ff2a,#3cff26,#40ff1f,#46ff16,#4dff0c,#52ff05,#54ff02,#53ff03,#52ff04,#53ff03,#54ff02,#54ff01,#54ff02,#52ff04,#50ff07,#4dff0c,#4aff10,#49ff12,#49ff12,#49ff12,#48ff14,#46ff16,#43ff1b,#3eff22,#38ff2b,#32ff35,#2bff3e,#25ff47,#1eff52,#17ff5d,#10ff68,#08ff73,#01ff7e,#00fa87,#00f58f)"></i><i style="background:linear-gradient(90deg,#29ff42,#31ff36,#35ff30,#36ff2f,#36ff2f,#36ff2e,#38ff2b,#3bff27,#3fff21,#45ff18,#4cff0e,#51ff06,#53ff03,#52ff05,#51ff05,#52ff04,#53ff03,#53ff03,#52ff04,#51ff06,#4fff08,#4cff0d,#4aff10,#49ff12,#48ff13,#48ff14,#46ff16,#44ff19,#42ff1d,#3dff24,#37ff2d,#30ff37,#2aff40,#24ff4a,#1dff54,#15ff5f,#0eff6a,#07ff75,#00ff7f,#00f989,#00f490)"></i><i style="background:linear-gradient(90deg,#28ff44,#30ff38,#33ff33,#34ff31,#34ff31,#35ff30,#37ff2d,#3aff28,#3eff23,#43ff1a,#4aff10,#50ff08,#52ff05,#51ff06,#51ff07,#51ff06,#52ff05,#52ff04,#51ff06,#50ff07,#4fff0a,#4cff0d,#4aff11,#49ff13,#48ff14,#46ff16,#45ff18,#43ff1b,#40ff1f,#3cff26,#36ff2f,#2fff39,#29ff43,#22ff4c,#1bff57,#14ff62,#0dff6c,#06ff77,#00fe81,#00f88a,#00f490)"></i><i style="background:linear-gradient(90deg,#26ff46,#2eff3b,#31ff35,#33ff34,#33ff33,#34ff32,#36ff2e,#39ff2a,#3cff25,#42ff1d,#49ff12,#4fff09,#51ff06,#50ff07,#50ff08,#50ff07,#51ff06,#51ff06,#50ff08,#4fff09,#4eff0b,#4bff0e,#49ff11,#48ff13,#47ff15,#45ff18,#43ff1b,#41ff1e,#3fff22,#3aff28,#34ff31,#2eff3b,#27ff45,#21ff4e,#1aff59,#12ff64,#0bff6f,#04ff79,#00fd83,#00f78b,#00f391)"></i><i style="background:linear-gradient(90deg,#25ff48,#2cff3d,#30ff38,#31ff36,#31ff35,#33ff33,#35ff2f,#38ff2b,#3bff27,#40ff1f,#48ff14,#4dff0b,#50ff08,#4fff09,#4eff0a,#4fff09,#50ff08,#50ff08,#4eff0a,#4dff0b,#4cff0d,#4bff0f,#49ff12,#48ff14,#46ff16,#44ff1a,#41ff1d,#3fff21,#3dff24,#39ff2a,#33ff33,#2cff3d,#26ff47,#1fff51,#18ff5b,#11ff66,#0aff71,#03ff7b,#00fc84,#00f78c,#00f392)"></i><i style="background:linear-gradient(90deg,#24ff4a,#2bff3f,#2eff3a,#2fff38,#30ff38,#31ff35,#34ff31,#37ff2d,#39ff29,#3fff21,#46ff16,#4cff0d,#4fff0a,#4eff0b,#4dff0b,#4eff0b,#4eff0a,#4eff0a,#4dff0c,#4cff0e,#4bff0f,#4aff10,#49ff13,#47ff15,#45ff18,#43ff1c,#40ff20,#3dff23,#3bff26,#38ff2c,#32ff35,#2bff3f,#24ff49,#1eff53,#17ff5d,#10ff68,#08ff73,#02ff7d,#00fb86,#00f68d,#00f293)"></i><i style="background:linear-gradient(90deg,#22ff4c,#29ff42,#2cff3d,#2eff3b,#2fff3a,#30ff37,#33ff32,#36ff2f,#38ff2b,#3dff24,#45ff19,#4bff0f,#4dff0c,#4dff0c,#4cff0d,#4dff0d,#4dff0c,#4dff0d,#4bff0f,#4aff10,#4aff11,#49ff12,#48ff14,#46ff16,#44ff19,#41ff1e,#3eff22,#3cff26,#3aff29,#36ff2e,#30ff37,#2aff41,#23ff4b,#1cff55,#15ff60,#0eff6a,#07ff75,#00ff7f,#00fa87,#00f58e,#00f293)"></i><i style="background:linear-gradient(90deg,#21ff4e,#27ff45,#2bff40,#2cff3d,#2dff3c,#2fff39,#32ff34,#35ff30,#37ff2e,#3cff26,#43ff1b,#49ff12,#4cff0e,#4bff0e,#4bff0f,#4bff0f,#4cff0e,#4bff0f,#49ff11,#48ff13,#49ff13,#48ff13,#47ff14,#46ff17,#43ff1b,#40ff20,#3cff25,#3aff29,#38ff2b,#35ff30,#2fff39,#28ff43,#21ff4e,#1bff58,#14ff62,#0dff6c,#06ff77,#00fe81,#00f989,#00f58f,#00f194)"></i><i style="background:linear-gradient(90deg,#1fff50,#26ff47,#29ff42,#2aff40,#2bff3e,#2eff3b,#31ff36,#34ff32,#35ff30,#3aff29,#41ff1d,#48ff14,#4aff10,#4aff10,#4aff11,#4aff11,#4aff10,#49ff11,#48ff14,#47ff15,#47ff15,#47ff15,#47ff16,#45ff18,#42ff1c,#3fff22,#3bff27,#38ff2b,#37ff2d,#33ff32,#2eff3b,#27ff45,#20ff50,#19ff5a,#12ff64,#0cff6e,#05ff79,#00fd82,#00f88a,#00f490,#00f195)"></i><i style="background:linear-gradient(90deg,#1eff53,#24ff4a,#27ff45,#29ff42,#2aff41,#2cff3d,#30ff37,#33ff34,#34ff32,#38ff2b,#40ff20,#46ff17,#49ff12,#49ff12,#48ff13,#48ff13,#49ff12,#48ff14,#46ff17,#45ff18,#46ff17,#46ff16,#46ff17,#44ff19,#41ff1e,#3dff24,#39ff2a,#37ff2d,#35ff2f,#32ff34,#2cff3d,#25ff47,#1fff52,#18ff5c,#11ff66,#0aff70,#03ff7a,#00fc84,#00f78b,#00f391,#00f195)"></i><i style="background:linear-gradient(90deg,#1cff55,#22ff4d,#25ff48,#27ff45,#28ff43,#2bff3f,#2fff39,#31ff36,#32ff34,#37ff2e,#3eff22,#44ff19,#47ff15,#47ff15,#47ff15,#47ff15,#47ff15,#46ff16,#44ff1a,#43ff1b,#44ff1a,#45ff18,#45ff18,#43ff1b,#40ff1f,#3cff26,#38ff2c,#35ff30,#34ff31,#31ff36,#2bff3f,#24ff49,#1dff54,#16ff5e,#10ff68,#09ff72,#02ff7c,#00fb85,#00f68c,#00f392,#00f096)"></i><i style="background:linear-gradient(90deg,#1aff58,#20ff50,#23ff4a,#25ff47,#27ff45,#29ff41,#2eff3b,#30ff37,#31ff37,#35ff30,#3cff25,#42ff1c,#45ff17,#46ff17,#46ff17,#46ff17,#46ff17,#44ff19,#42ff1c,#41ff1d,#42ff1c,#44ff1a,#44ff19,#42ff1c,#3fff21,#3bff27,#36ff2e,#34ff32,#33ff33,#30ff38,#29ff42,#23ff4c,#1cff56,#15ff60,#0fff69,#08ff73,#01ff7e,#00fa87,#00f68d,#00f292,#00f096)"></i><i style="background:linear-gradient(90deg,#18ff5b,#1eff52,#22ff4d,#24ff4a,#25ff47,#28ff43,#2cff3d,#2fff39,#2fff39,#33ff33,#3bff27,#41ff1e,#44ff1a,#44ff19,#44ff19,#44ff19,#44ff1a,#43ff1c,#40ff1f,#40ff20,#41ff1e,#43ff1b,#43ff1b,#41ff1d,#3eff23,#3aff29,#35ff30,#32ff34,#32ff35,#2eff3a,#28ff44,#21ff4e,#1bff57,#14ff61,#0eff6b,#07ff75,#00ff7f,#00f988,#00f58e,#00f293,#00ef97)"></i><i style="background:linear-gradient(90deg,#16ff5e,#1cff55,#20ff50,#22ff4d,#24ff4a,#27ff45,#2bff3f,#2dff3b,#2eff3b,#32ff35,#39ff2a,#3fff21,#42ff1d,#43ff1b,#43ff1b,#43ff1c,#42ff1c,#41ff1e,#3eff22,#3eff23,#3fff21,#41ff1d,#42ff1c,#40ff1f,#3dff24,#38ff2b,#34ff32,#31ff36,#31ff36,#2dff3c,#26ff46,#20ff50,#19ff59,#13ff63,#0dff6d,#06ff76,#00ff80,#00f989,#00f48f,#00f194,#00ef97)"></i><i style="background:linear-gradient(90deg,#15ff61,#1aff58,#1eff53,#20ff4f,#22ff4c,#25ff47,#2aff41,#2cff3d,#2cff3d,#30ff37,#37ff2c,#3dff24,#40ff1f,#41ff1e,#41ff1e,#41ff1e,#41ff1f,#3fff21,#3dff25,#3cff26,#3dff23,#40ff1f,#41ff1e,#3fff21,#3cff26,#37ff2d,#32ff34,#30ff38,#30ff38,#2cff3e,#25ff48,#1fff52,#18ff5b,#12ff65,#0cff6e,#05ff78,#00fe81,#00f88a,#00f490,#00f195,#00ef98)"></i><i style="background:linear-gradient(90deg,#13ff64,#18ff5b,#1cff55,#1fff51,#21ff4e,#24ff4a,#29ff43,#2bff3f,#2bff40,#2eff3a,#36ff2f,#3bff27,#3eff22,#40ff20,#40ff20,#40ff20,#3fff21,#3dff24,#3bff27,#3aff28,#3cff26,#3fff21,#40ff1f,#3eff22,#3bff27,#36ff2e,#31ff36,#2fff3a,#2fff3a,#2bff3f,#24ff4a,#1dff54,#17ff5d,#11ff66,#0bff70,#04ff79,#00fd83,#00f78b,#00f391,#00f095,#00ee98)"></i><i style="background:linear-gradient(90deg,#11ff66,#16ff5e,#1aff58,#1dff54,#1fff50,#23ff4c,#27ff45,#29ff41,#29ff42,#2dff3c,#34ff32,#39ff2a,#3cff25,#3eff23,#3eff22,#3eff23,#3dff24,#3bff26,#39ff2a,#38ff2b,#3aff28,#3dff23,#3fff21,#3dff24,#3aff29,#35ff30,#30ff38,#2dff3c,#2eff3b,#2aff41,#22ff4c,#1cff56,#16ff5e,#10ff68,#0aff71,#04ff7a,#00fc84,#00f78c,#00f392,#00f096,#00ee99)"></i><i style="background:linear-gradient(90deg,#0fff69,#15ff61,#19ff5b,#1bff56,#1eff53,#21ff4e,#26ff47,#28ff43,#28ff44,#2bff3f,#32ff34,#37ff2d,#3aff28,#3cff25,#3dff24,#3cff25,#3cff26,#3aff29,#37ff2d,#37ff2e,#39ff2b,#3cff25,#3eff23,#3cff26,#38ff2b,#34ff32,#2eff3a,#2cff3d,#2cff3d,#28ff43,#21ff4e,#1bff57,#15ff60,#0fff69,#09ff72,#03ff7b,#00fc85,#00f68d,#00f293,#00f097,#00ee99)"></i><i style="background:linear-gradient(90deg,#0dff6c,#13ff63,#17ff5d,#1aff59,#1cff55,#20ff50,#25ff49,#27ff46,#26ff46,#2aff41,#31ff37,#35ff2f,#38ff2b,#3bff27,#3bff26,#3bff27,#3aff29,#38ff2c,#35ff2f,#35ff30,#37ff2d,#3bff27,#3dff25,#3bff27,#37ff2d,#33ff33,#2dff3c,#2bff3f,#2bff3e,#27ff45,#20ff50,#19ff59,#14ff62,#0eff6b,#08ff74,#02ff7c,#00fb86,#00f58e,#00f293,#00ef97,#00ee9a)"></i><i style="background:linear-gradient(90deg,#0bff6f,#11ff66,#15ff60,#18ff5b,#1bff57,#1eff52,#23ff4b,#25ff48,#25ff49,#28ff43,#2fff39,#33ff32,#37ff2e,#39ff2a,#3aff29,#39ff2a,#38ff2b,#36ff2e,#34ff32,#33ff33,#35ff2f,#39ff29,#3bff26,#39ff29,#36ff2e,#32ff35,#2cff3d,#2aff41,#2aff40,#26ff46,#1eff52,#18ff5b,#13ff63,#0dff6c,#07ff75,#01ff7e,#00fa87,#00f58f,#00f194,#00ef98,#00ed9a)"></i><i style="background:linear-gradient(90deg,#09ff71,#0fff68,#14ff62,#17ff5d,#1aff59,#1dff54,#22ff4d,#24ff4a,#23ff4b,#27ff46,#2dff3c,#31ff35,#35ff31,#37ff2c,#38ff2b,#38ff2c,#36ff2e,#34ff31,#32ff34,#32ff35,#34ff32,#38ff2c,#3aff28,#38ff2b,#35ff30,#30ff37,#2bff3f,#28ff43,#29ff42,#25ff48,#1dff54,#17ff5d,#12ff65,#0cff6e,#06ff76,#01ff7f,#00fa88,#00f48f,#00f195,#00ee98,#00ed9b)"></i><i style="background:linear-gradient(90deg,#08ff74,#0eff6b,#12ff64,#15ff60,#18ff5b,#1cff56,#20ff4f,#22ff4c,#22ff4d,#25ff48,#2bff3e,#30ff38,#33ff33,#36ff2f,#37ff2d,#36ff2e,#35ff30,#33ff34,#30ff37,#30ff38,#32ff34,#37ff2e,#39ff2a,#37ff2d,#34ff32,#2fff39,#2aff41,#27ff45,#28ff44,#24ff4a,#1cff56,#16ff5f,#11ff67,#0bff6f,#05ff77,#00ff80,#00f988,#00f490,#00f095,#00ee99,#00ed9b)"></i><i style="background:linear-gradient(90deg,#06ff76,#0cff6d,#11ff67,#14ff62,#17ff5d,#1aff58,#1fff51,#21ff4e,#20ff4f,#23ff4a,#2aff41,#2eff3b,#31ff36,#34ff31,#35ff30,#35ff31,#33ff33,#31ff36,#2fff39,#2fff3a,#31ff36,#35ff30,#37ff2d,#35ff2f,#32ff34,#2eff3a,#28ff43,#26ff47,#27ff46,#22ff4c,#1aff58,#14ff61,#10ff68,#0aff70,#05ff79,#00fe81,#00f889,#00f491,#00f096,#00ee9a,#00ec9c)"></i><i style="background:linear-gradient(90deg,#05ff78,#0bff6f,#0fff69,#12ff64,#15ff5f,#19ff5a,#1dff53,#1fff51,#1fff52,#22ff4d,#28ff44,#2cff3e,#2fff39,#32ff34,#34ff32,#33ff33,#32ff35,#2fff38,#2dff3c,#2dff3c,#30ff38,#34ff32,#36ff2f,#34ff32,#31ff36,#2dff3c,#27ff45,#24ff49,#25ff48,#21ff4e,#19ff5a,#13ff63,#0fff6a,#09ff72,#04ff7a,#00fd82,#00f88a,#00f391,#00f097,#00ed9a,#00ec9c)"></i><i style="background:linear-gradient(90deg,#04ff7a,#09ff71,#0eff6b,#11ff66,#14ff61,#18ff5c,#1cff55,#1eff53,#1dff54,#20ff4f,#26ff46,#2aff40,#2dff3c,#31ff36,#32ff34,#31ff35,#30ff38,#2eff3b,#2cff3e,#2cff3e,#2eff3a,#32ff34,#34ff31,#32ff34,#30ff38,#2cff3e,#26ff47,#23ff4b,#24ff4a,#20ff50,#18ff5c,#12ff64,#0dff6b,#08ff73,#03ff7b,#00fd83,#00f78b,#00f392,#00ef97,#00ed9b,#00eb9d)"></i><i style="background:linear-gradient(90deg,#03ff7b,#08ff73,#0cff6d,#10ff68,#13ff63,#16ff5e,#1bff58,#1cff55,#1cff56,#1fff51,#25ff49,#28ff43,#2bff3e,#2fff39,#31ff37,#30ff38,#2eff3a,#2cff3d,#2bff40,#2bff40,#2dff3c,#31ff36,#33ff33,#31ff36,#2eff3a,#2aff40,#24ff49,#22ff4d,#22ff4c,#1eff52,#16ff5e,#11ff66,#0cff6d,#07ff75,#02ff7c,#00fc84,#00f78c,#00f293,#00ef98,#00ed9b,#00eb9d)"></i><i style="background:linear-gradient(90deg,#02ff7d,#07ff75,#0bff6f,#0fff6a,#12ff65,#15ff60,#19ff5a,#1bff58,#1aff58,#1dff53,#23ff4b,#26ff46,#2aff41,#2dff3b,#2fff39,#2eff3a,#2dff3c,#2bff3f,#29ff42,#2aff41,#2cff3d,#30ff38,#31ff36,#2fff39,#2dff3c,#29ff42,#23ff4b,#20ff4f,#21ff4f,#1dff54,#15ff60,#10ff68,#0bff6e,#06ff76,#01ff7e,#00fb85,#00f68d,#00f293,#00ee98,#00ec9c,#00eb9e)"></i><i style="background:linear-gradient(90deg,#01ff7e,#06ff76,#0aff70,#0dff6c,#10ff67,#14ff62,#18ff5c,#19ff5a,#19ff5a,#1cff56,#21ff4e,#25ff48,#28ff43,#2cff3e,#2eff3b,#2dff3c,#2cff3e,#2aff41,#28ff43,#29ff43,#2bff3f,#2fff3a,#30ff38,#2eff3b,#2bff3f,#28ff44,#22ff4d,#1eff52,#1fff51,#1bff57,#14ff61,#0fff69,#0aff70,#05ff77,#00ff7f,#00fb86,#00f68d,#00f194,#00ee99,#00ec9c,#00ea9f)"></i><i style="background:linear-gradient(90deg,#00ff7f,#05ff78,#09ff72,#0cff6d,#0fff69,#13ff63,#16ff5e,#17ff5c,#17ff5d,#1aff58,#20ff50,#23ff4b,#27ff46,#2aff40,#2cff3d,#2cff3e,#2aff40,#28ff43,#27ff45,#28ff44,#2aff40,#2dff3c,#2eff3a,#2cff3d,#2aff41,#26ff46,#20ff4f,#1dff54,#1dff54,#1aff59,#13ff63,#0eff6b,#09ff72,#04ff79,#00ff80,#00fa87,#00f58e,#00f195,#00ee99,#00eb9d,#00ea9f)"></i><i style="background:linear-gradient(90deg,#00ff80,#05ff79,#08ff73,#0bff6f,#0eff6a,#12ff65,#15ff60,#16ff5f,#16ff5f,#19ff5a,#1eff53,#22ff4d,#25ff48,#29ff42,#2bff40,#2aff40,#29ff42,#27ff45,#26ff47,#27ff45,#29ff41,#2cff3d,#2dff3d,#2aff40,#28ff43,#25ff48,#1fff51,#1bff57,#1bff57,#18ff5c,#12ff65,#0dff6d,#08ff73,#03ff7a,#00fe81,#00f988,#00f58f,#00f195,#00ed9a,#00eb9d,#00e9a0)"></i><i style="background:linear-gradient(90deg,#00ff80,#04ff7a,#07ff75,#0aff71,#0dff6c,#10ff67,#13ff63,#14ff61,#14ff61,#17ff5c,#1cff55,#20ff50,#23ff4a,#27ff44,#29ff42,#29ff42,#27ff44,#26ff47,#25ff48,#26ff46,#29ff43,#2bff3f,#2bff3f,#29ff42,#27ff45,#24ff4a,#1dff53,#19ff59,#19ff5a,#16ff5e,#11ff67,#0cff6e,#07ff75,#02ff7c,#00fd83,#00f889,#00f490,#00f096,#00ed9a,#00eb9e,#00e9a0)"></i><i style="background:linear-gradient(90deg,#00fe80,#03ff7b,#06ff76,#09ff72,#0cff6d,#0fff69,#12ff65,#13ff63,#13ff63,#16ff5f,#1bff57,#1fff52,#22ff4c,#26ff47,#28ff44,#27ff44,#26ff46,#25ff48,#24ff49,#25ff47,#28ff44,#2aff41,#29ff42,#27ff45,#25ff48,#22ff4c,#1cff56,#18ff5c,#17ff5c,#15ff60,#0fff68,#0bff70,#06ff76,#01ff7d,#00fc84,#00f88b,#00f391,#00f096,#00ed9b,#00ea9e,#00e9a1)"></i><i style="background:linear-gradient(90deg,#00fe81,#03ff7c,#05ff77,#08ff73,#0bff6f,#0eff6a,#10ff67,#11ff66,#12ff65,#15ff61,#19ff5a,#1dff54,#21ff4e,#24ff49,#26ff46,#26ff46,#25ff48,#24ff4a,#23ff4b,#25ff48,#27ff45,#28ff43,#28ff44,#25ff47,#24ff4a,#21ff4e,#1bff58,#16ff5e,#15ff5f,#13ff63,#0eff6a,#0aff71,#05ff78,#01ff7f,#00fb85,#00f78c,#00f392,#00ef97,#00ec9b,#00ea9f,#00e8a2)"></i><i style="background:linear-gradient(90deg,#00fe81,#02ff7c,#05ff78,#07ff75,#0aff70,#0dff6c,#0fff69,#10ff68,#10ff67,#13ff63,#18ff5c,#1cff56,#1fff50,#23ff4b,#25ff48,#25ff48,#24ff4a,#23ff4b,#23ff4c,#24ff49,#27ff46,#27ff44,#26ff46,#24ff4a,#22ff4c,#20ff50,#19ff5a,#14ff61,#14ff62,#11ff65,#0dff6c,#09ff73,#04ff7a,#00ff80,#00fa87,#00f68d,#00f293,#00ef98,#00ec9c,#00ea9f,#00e8a2)"></i><i style="background:linear-gradient(90deg,#00fe81,#02ff7d,#04ff7a,#06ff76,#09ff72,#0cff6e,#0eff6b,#0eff6a,#0fff69,#12ff65,#16ff5e,#1aff58,#1eff52,#22ff4d,#24ff4a,#24ff4a,#23ff4b,#22ff4d,#22ff4d,#24ff4a,#26ff46,#26ff46,#25ff49,#22ff4c,#21ff4e,#1eff52,#18ff5c,#13ff63,#12ff65,#10ff68,#0cff6d,#08ff74,#03ff7b,#00fe82,#00f988,#00f58e,#00f293,#00ef98,#00ec9c,#00e9a0,#00e7a3)"></i><i style="background:linear-gradient(90deg,#00fe81,#01ff7d,#03ff7a,#05ff77,#08ff73,#0bff6f,#0cff6d,#0dff6c,#0eff6b,#11ff66,#15ff60,#19ff5a,#1dff54,#21ff4f,#22ff4c,#23ff4c,#22ff4d,#21ff4e,#21ff4e,#23ff4b,#25ff47,#25ff48,#23ff4b,#21ff4e,#20ff50,#1dff54,#17ff5e,#11ff66,#10ff68,#0eff6a,#0bff6f,#07ff75,#02ff7d,#00fd83,#00f989,#00f58f,#00f194,#00ee99,#00eb9d,#00e9a0,#00e7a3)"></i><i style="background:linear-gradient(90deg,#00fe81,#01ff7e,#03ff7b,#05ff78,#07ff74,#0aff70,#0bff6f,#0cff6e,#0dff6c,#10ff68,#14ff62,#18ff5c,#1cff56,#1fff51,#21ff4e,#21ff4d,#21ff4e,#20ff4f,#20ff4f,#23ff4b,#25ff48,#24ff49,#22ff4d,#1fff50,#1eff52,#1cff56,#15ff5f,#10ff68,#0eff6b,#0dff6c,#0aff70,#06ff77,#01ff7e,#00fc84,#00f88a,#00f490,#00f195,#00ee99,#00eb9d,#00e9a1,#00e7a4)"></i><i style="background:linear-gradient(90deg,#00fe80,#01ff7e,#02ff7c,#04ff7a,#07ff76,#09ff72,#0aff70,#0aff70,#0cff6e,#0eff6a,#13ff64,#17ff5d,#1bff57,#1eff52,#20ff50,#20ff4f,#20ff50,#1fff50,#20ff50,#22ff4c,#24ff49,#23ff4b,#20ff4f,#1eff53,#1dff54,#1bff57,#14ff61,#0eff6a,#0cff6d,#0bff6e,#09ff71,#05ff78,#00ff7f,#00fb85,#00f78b,#00f391,#00f096,#00ee9a,#00eb9e,#00e9a1,#00e6a4)"></i><i style="background:linear-gradient(90deg,#00ff80,#01ff7f,#02ff7d,#03ff7b,#06ff77,#08ff73,#09ff72,#09ff72,#0bff70,#0dff6b,#11ff65,#16ff5f,#1aff59,#1dff54,#1fff51,#1fff50,#1fff51,#1fff52,#1fff51,#22ff4d,#24ff4a,#22ff4c,#1fff51,#1dff55,#1cff56,#1aff59,#13ff63,#0dff6c,#0bff70,#0aff71,#08ff73,#04ff79,#00fe81,#00fa87,#00f68c,#00f392,#00f096,#00ed9a,#00eb9e,#00e8a2,#00e6a5)"></i><i style="background:linear-gradient(90deg,#00ff80,#00ff7f,#01ff7e,#03ff7c,#05ff78,#07ff74,#08ff74,#08ff73,#0aff71,#0cff6d,#10ff67,#15ff60,#19ff5a,#1cff55,#1eff53,#1eff52,#1eff52,#1eff53,#1fff51,#21ff4d,#23ff4a,#21ff4d,#1eff53,#1bff56,#1bff57,#19ff5a,#12ff64,#0cff6e,#09ff72,#09ff72,#08ff74,#03ff7a,#00fd82,#00f988,#00f68e,#00f293,#00ef97,#00ed9b,#00eb9e,#00e8a2,#00e6a5)"></i><i style="background:linear-gradient(90deg,#00ff80,#00ff7f,#01ff7e,#02ff7c,#04ff79,#07ff75,#07ff75,#07ff75,#09ff72,#0cff6e,#0fff68,#14ff62,#18ff5b,#1bff57,#1dff54,#1eff53,#1dff53,#1dff54,#1eff52,#21ff4e,#23ff4b,#20ff4f,#1dff55,#1aff58,#1aff59,#18ff5c,#11ff66,#0bff6f,#08ff74,#08ff74,#07ff75,#03ff7b,#00fd83,#00f989,#00f58e,#00f294,#00ef98,#00ed9b,#00ea9f,#00e8a2,#00e6a5)"></i><i style="background:linear-gradient(90deg,#00ff80,#00ff7f,#00ff7f,#01ff7d,#04ff7a,#06ff77,#06ff76,#06ff76,#08ff73,#0bff6f,#0fff6a,#13ff63,#17ff5d,#1aff58,#1cff56,#1dff54,#1dff54,#1dff54,#1eff53,#21ff4f,#22ff4c,#20ff50,#1cff56,#19ff5a,#19ff5a,#17ff5d,#11ff67,#0aff71,#07ff76,#06ff76,#06ff76,#02ff7d,#00fc84,#00f88a,#00f48f,#00f194,#00ef98,#00ec9b,#00ea9f,#00e8a2,#00e6a6)"></i><i style="background:linear-gradient(90deg,#00ff7f,#00ff80,#00ff80,#01ff7e,#03ff7b,#05ff77,#05ff77,#06ff77,#07ff75,#0aff70,#0eff6b,#12ff64,#17ff5e,#19ff59,#1bff57,#1cff56,#1cff55,#1cff55,#1dff54,#20ff4f,#22ff4d,#1fff51,#1bff58,#18ff5b,#18ff5b,#16ff5e,#10ff68,#09ff72,#05ff77,#05ff77,#05ff78,#01ff7e,#00fb85,#00f78b,#00f490,#00f195,#00ee99,#00ec9c,#00ea9f,#00e8a3,#00e5a6)"></i><i style="background:linear-gradient(90deg,#00ff7f,#00ff80,#00ff80,#01ff7f,#03ff7b,#05ff78,#05ff78,#05ff78,#07ff75,#0aff71,#0dff6c,#12ff65,#16ff5f,#19ff5b,#1aff58,#1bff57,#1bff56,#1cff56,#1dff54,#20ff50,#21ff4e,#1eff52,#1aff59,#18ff5c,#17ff5c,#16ff5f,#0fff68,#08ff73,#05ff79,#05ff79,#05ff79,#01ff7e,#00fb86,#00f78c,#00f391,#00f096,#00ee99,#00ec9c,#00ea9f,#00e8a3,#00e5a6)"></i><i style="background:linear-gradient(90deg,#00ff7f,#00fe80,#00fe81,#00ff7f,#02ff7c,#04ff79,#04ff79,#04ff79,#06ff76,#09ff72,#0dff6d,#11ff66,#15ff5f,#18ff5c,#1aff59,#1bff58,#1bff57,#1bff57,#1cff55,#1fff51,#20ff4f,#1dff54,#19ff5a,#17ff5d,#17ff5d,#15ff60,#0fff69,#08ff74,#04ff7a,#04ff7a,#04ff79,#00ff7f,#00fa87,#00f68d,#00f392,#00f096,#00ee9a,#00ec9c,#00ea9f,#00e8a3,#00e5a6)"></i><i style="background:linear-gradient(90deg,#00ff7f,#00fe81,#00fe81,#00ff80,#02ff7d,#04ff7a,#04ff7a,#04ff7a,#06ff77,#09ff73,#0cff6d,#11ff66,#15ff60,#17ff5d,#19ff5a,#1aff58,#1aff58,#1bff58,#1cff56,#1fff52,#20ff50,#1dff55,#18ff5b,#16ff5e,#16ff5e,#15ff60,#0fff6a,#07ff74,#03ff7b,#03ff7b,#03ff7a,#00ff80,#00f988,#00f68d,#00f292,#00ef97,#00ed9a,#00ec9d,#00eaa0,#00e7a3,#00e5a6)"></i><i style="background:linear-gradient(90deg,#00ff80,#00fe81,#00fe82,#00fe81,#01ff7d,#03ff7b,#03ff7b,#03ff7b,#06ff77,#08ff73,#0cff6e,#10ff67,#14ff61,#17ff5d,#18ff5b,#1aff59,#1aff59,#1aff58,#1bff56,#1eff53,#1fff51,#1cff56,#18ff5c,#16ff5f,#16ff5e,#15ff61,#0eff6a,#07ff75,#03ff7b,#03ff7c,#03ff7b,#00fe81,#00f989,#00f58e,#00f293,#00ef97,#00ed9a,#00eb9d,#00eaa0,#00e7a3,#00e5a6)"></i><i style="background:linear-gradient(90deg,#00ff80,#00fe81,#00fd82,#00fe81,#01ff7e,#03ff7b,#03ff7b,#03ff7b,#05ff78,#08ff74,#0bff6f,#10ff68,#14ff62,#16ff5e,#18ff5c,#19ff5a,#19ff59,#1aff59,#1bff57,#1dff53,#1eff52,#1bff57,#17ff5c,#16ff5f,#16ff5f,#14ff61,#0eff6a,#07ff75,#02ff7c,#02ff7c,#02ff7c,#00fd82,#00f889,#00f58f,#00f294,#00ef98,#00ed9b,#00eb9d,#00eaa0,#00e7a3,#00e6a6)"></i><i style="background:linear-gradient(90deg,#00ff80,#00fe82,#00fd82,#00fe81,#01ff7e,#03ff7c,#02ff7c,#03ff7b,#05ff78,#08ff74,#0bff6f,#10ff68,#14ff62,#16ff5f,#17ff5c,#19ff5b,#19ff5a,#19ff59,#1bff58,#1dff54,#1eff53,#1bff57,#17ff5d,#15ff60,#16ff5f,#14ff61,#0eff6a,#07ff75,#02ff7c,#02ff7d,#02ff7d,#00fd82,#00f88a,#00f58f,#00f194,#00ef98,#00ed9b,#00eb9d,#00e9a0,#00e8a3,#00e6a6)"></i><i style="background:linear-gradient(90deg,#00ff80,#00fd82,#00fd83,#00fd82,#00ff7f,#02ff7c,#02ff7c,#03ff7c,#05ff78,#08ff74,#0bff6f,#0fff69,#13ff63,#15ff5f,#17ff5d,#18ff5b,#19ff5a,#19ff5a,#1aff58,#1cff55,#1dff54,#1aff58,#17ff5e,#15ff60,#15ff5f,#14ff61,#0eff6a,#07ff75,#02ff7c,#01ff7d,#01ff7d,#00fd83,#00f88a,#00f490,#00f194,#00ee99,#00ed9b,#00eb9d,#00e9a0,#00e8a3,#00e6a5)"></i><i style="background:linear-gradient(90deg,#00fe80,#00fd82,#00fd83,#00fd82,#00ff7f,#02ff7d,#02ff7d,#02ff7c,#05ff78,#08ff74,#0bff70,#0fff69,#13ff63,#15ff60,#17ff5d,#18ff5c,#18ff5b,#19ff5a,#1aff59,#1cff56,#1cff55,#1aff59,#16ff5e,#15ff60,#15ff60,#14ff61,#0eff6a,#07ff75,#02ff7c,#01ff7e,#01ff7e,#00fc84,#00f78b,#00f490,#00f195,#00ee99,#00ec9b,#00eb9d,#00e9a0,#00e8a3,#00e6a5)"></i><i style="background:linear-gradient(90deg,#00fe81,#00fd83,#00fc83,#00fd83,#00ff80,#02ff7d,#02ff7d,#02ff7c,#05ff78,#07ff74,#0bff70,#0fff69,#13ff64,#15ff60,#16ff5e,#18ff5c,#18ff5b,#18ff5b,#19ff59,#1bff57,#1cff56,#19ff5a,#16ff5e,#15ff60,#15ff60,#14ff61,#0eff6a,#07ff75,#02ff7c,#01ff7e,#01ff7f,#00fc84,#00f78b,#00f491,#00f195,#00ee99,#00ec9c,#00eb9e,#00e9a0,#00e8a2,#00e6a5)"></i><i style="background:linear-gradient(90deg,#00fe81,#00fd83,#00fc84,#00fd83,#00ff80,#02ff7d,#02ff7d,#02ff7c,#05ff78,#07ff74,#0aff70,#0fff69,#12ff64,#14ff61,#16ff5e,#17ff5d,#18ff5c,#18ff5b,#19ff5a,#1aff58,#1bff57,#19ff5b,#16ff5f,#15ff60,#15ff60,#14ff61,#0fff6a,#07ff74,#02ff7c,#01ff7e,#00ff7f,#00fb85,#00f78c,#00f391,#00f096,#00ee99,#00ec9c,#00eb9e,#00e9a0,#00e8a2,#00e6a4)"></i><i style="background:linear-gradient(90deg,#00fe81,#00fc83,#00fc84,#00fd83,#00fe80,#01ff7d,#02ff7d,#02ff7c,#05ff78,#08ff74,#0aff70,#0fff6a,#12ff64,#14ff61,#16ff5f,#17ff5d,#18ff5c,#18ff5c,#19ff5b,#1aff59,#1aff58,#18ff5c,#16ff5f,#15ff60,#15ff5f,#14ff61,#0fff69,#08ff74,#03ff7c,#01ff7e,#00ff80,#00fb86,#00f68c,#00f391,#00f096,#00ee9a,#00ec9c,#00eb9e,#00e9a0,#00e8a2,#00e7a4)"></i><i style="background:linear-gradient(90deg,#00fd82,#00fc84,#00fc84,#00fc83,#00fe81,#01ff7e,#02ff7d,#03ff7c,#05ff78,#08ff74,#0aff70,#0eff6a,#12ff65,#14ff62,#16ff5f,#17ff5d,#17ff5d,#18ff5c,#18ff5b,#19ff5a,#19ff5a,#17ff5c,#16ff5f,#15ff60,#15ff5f,#14ff61,#0fff69,#08ff74,#03ff7b,#01ff7e,#00fe80,#00fb86,#00f68d,#00f392,#00f096,#00ee9a,#00ec9c,#00eb9e,#00e9a0,#00e8a2,#00e7a4)"></i><i style="background:linear-gradient(90deg,#00fd82,#00fc84,#00fc85,#00fc84,#00fe81,#01ff7e,#02ff7d,#03ff7c,#05ff78,#08ff74,#0bff70,#0eff6a,#12ff65,#14ff62,#15ff5f,#17ff5e,#17ff5d,#17ff5d,#18ff5c,#18ff5b,#18ff5b,#17ff5d,#15ff5f,#15ff60,#16ff5f,#15ff61,#0fff69,#08ff73,#03ff7b,#01ff7e,#00fe81,#00fa87,#00f68d,#00f392,#00f096,#00ed9a,#00ec9c,#00eb9e,#00e9a0,#00e8a2,#00e7a3)"></i><i style="background:linear-gradient(90deg,#00fd83,#00fc84,#00fb85,#00fc84,#00fe81,#01ff7e,#02ff7d,#03ff7b,#05ff78,#08ff74,#0bff70,#0eff6a,#12ff65,#14ff62,#15ff60,#16ff5e,#17ff5d,#17ff5d,#17ff5c,#18ff5c,#18ff5c,#17ff5e,#15ff5f,#15ff60,#16ff5f,#15ff60,#0fff68,#09ff72,#04ff7a,#01ff7e,#00fe81,#00fa87,#00f68d,#00f392,#00f096,#00ed9a,#00ec9c,#00eb9e,#00e9a0,#00e8a1,#00e7a3)"></i><i style="background:linear-gradient(90deg,#00fd83,#00fc85,#00fb85,#00fc84,#00fe81,#01ff7e,#02ff7d,#03ff7b,#05ff77,#08ff74,#0bff6f,#0eff6a,#11ff65,#13ff62,#15ff60,#16ff5e,#17ff5e,#17ff5d,#17ff5d,#17ff5d,#17ff5d,#16ff5e,#15ff60,#15ff60,#16ff5f,#15ff60,#10ff68,#09ff72,#04ff7a,#01ff7e,#00fd82,#00fa87,#00f68e,#00f292,#00f097,#00ed9a,#00ec9c,#00eb9e,#00eaa0,#00e8a1,#00e8a3)"></i><i style="background:linear-gradient(90deg,#00fc84,#00fb85,#00fb85,#00fc84,#00fe81,#01ff7e,#02ff7d,#03ff7b,#06ff77,#08ff73,#0bff6f,#0eff6a,#11ff66,#13ff63,#15ff60,#16ff5f,#16ff5e,#16ff5e,#17ff5e,#17ff5e,#16ff5e,#16ff5f,#15ff60,#15ff60,#16ff5f,#15ff60,#10ff67,#0aff71,#04ff79,#01ff7e,#00fd82,#00f988,#00f58e,#00f293,#00ef97,#00ed9a,#00ec9c,#00eb9e,#00eaa0,#00e9a1,#00e8a2)"></i><i style="background:linear-gradient(90deg,#00fc84,#00fb85,#00fb86,#00fc85,#00fe82,#01ff7f,#02ff7d,#03ff7a,#06ff77,#08ff73,#0bff6f,#0eff6a,#11ff66,#13ff63,#15ff61,#16ff5f,#16ff5e,#16ff5e,#16ff5e,#16ff5f,#15ff60,#15ff60,#15ff60,#15ff60,#16ff5f,#15ff60,#10ff67,#0aff71,#05ff78,#01ff7e,#00fd83,#00f988,#00f58e,#00f293,#00ef97,#00ed9a,#00ec9d,#00eb9e,#00eaa0,#00e9a1,#00e8a2)"></i><i style="background:linear-gradient(90deg,#00fc85,#00fb86,#00fb86,#00fc85,#00fd82,#01ff7f,#02ff7d,#04ff7a,#06ff77,#08ff73,#0bff6f,#0eff6a,#11ff66,#13ff63,#14ff61,#16ff5f,#16ff5f,#16ff5f,#16ff5f,#15ff60,#14ff61,#15ff60,#15ff60,#15ff60,#16ff5e,#15ff5f,#11ff67,#0aff70,#05ff78,#01ff7e,#00fd83,#00f989,#00f58e,#00f293,#00ef97,#00ed9a,#00ec9d,#00eb9e,#00eaa0,#00e9a1,#00e8a1)"></i><i style="background:linear-gradient(90deg,#00fb85,#00fb86,#00fb86,#00fb85,#00fd82,#00ff7f,#02ff7c,#04ff7a,#06ff76,#09ff73,#0bff6f,#0eff6a,#11ff66,#13ff63,#14ff61,#15ff60,#16ff5f,#16ff5f,#15ff5f,#15ff61,#14ff62,#14ff61,#15ff60,#15ff5f,#16ff5e,#15ff5f,#11ff66,#0bff6f,#06ff77,#01ff7e,#00fc83,#00f989,#00f58e,#00f293,#00ef97,#00ed9b,#00ec9d,#00eb9e,#00ea9f,#00e9a0,#00e9a1)"></i><i style="background:linear-gradient(90deg,#00fb86,#00fa87,#00fa86,#00fb85,#00fd82,#00ff7f,#02ff7c,#04ff7a,#06ff76,#09ff72,#0bff6f,#0eff6a,#11ff66,#13ff64,#14ff61,#15ff60,#15ff5f,#15ff60,#15ff60,#14ff62,#13ff63,#14ff62,#15ff60,#15ff5f,#16ff5e,#16ff5f,#11ff66,#0bff6f,#06ff77,#01ff7e,#00fc84,#00f88a,#00f58f,#00f293,#00ef97,#00ed9b,#00ec9d,#00eb9e,#00ea9f,#00e9a0,#00e9a1)"></i><i style="background:linear-gradient(90deg,#00fb86,#00fa87,#00fa87,#00fb85,#00fd82,#00ff7f,#02ff7c,#04ff79,#06ff76,#09ff72,#0bff6f,#0eff6a,#11ff67,#12ff64,#14ff62,#15ff60,#15ff60,#15ff60,#15ff61,#13ff63,#12ff64,#13ff63,#15ff60,#15ff5f,#16ff5e,#16ff5f,#11ff66,#0bff6e,#06ff76,#01ff7d,#00fc84,#00f88a,#00f58f,#00f293,#00ef97,#00ed9b,#00eb9d,#00eb9e,#00ea9f,#00e9a0,#00e9a0)"></i><i style="background:linear-gradient(90deg,#00fa87,#00fa87,#00fa87,#00fb85,#00fd83,#00ff7f,#02ff7c,#04ff79,#07ff76,#09ff72,#0bff6e,#0eff6b,#10ff67,#12ff64,#14ff62,#15ff61,#15ff60,#15ff61,#14ff61,#13ff64,#11ff65,#13ff63,#15ff61,#15ff5f,#16ff5e,#16ff5f,#11ff66,#0cff6e,#07ff76,#01ff7d,#00fb85,#00f88a,#00f58f,#00f294,#00ef98,#00ed9b,#00eb9d,#00eb9e,#00ea9f,#00e9a0,#00e9a0)"></i><i style="background:linear-gradient(90deg,#00fa87,#00fa88,#00fa87,#00fb86,#00fd83,#00ff7f,#02ff7c,#04ff79,#07ff75,#09ff72,#0bff6e,#0eff6b,#10ff67,#12ff65,#13ff63,#14ff61,#15ff61,#14ff61,#14ff62,#12ff65,#11ff67,#12ff64,#14ff61,#15ff60,#16ff5e,#15ff5f,#11ff66,#0cff6e,#07ff75,#01ff7d,#00fb85,#00f78b,#00f48f,#00f194,#00ef98,#00ed9b,#00eb9d,#00ea9e,#00ea9f,#00e9a0,#00eaa0)"></i><i style="background:linear-gradient(90deg,#00f988,#00f988,#00fa88,#00fb86,#00fd83,#00ff7f,#02ff7c,#04ff79,#07ff75,#09ff72,#0bff6e,#0eff6b,#10ff68,#12ff65,#13ff63,#14ff61,#14ff61,#14ff62,#13ff63,#11ff66,#10ff68,#12ff65,#14ff61,#15ff60,#16ff5f,#15ff5f,#11ff66,#0cff6e,#07ff75,#01ff7e,#00fb86,#00f78b,#00f490,#00f194,#00ef98,#00ed9b,#00eb9d,#00ea9e,#00ea9f,#00eaa0,#00ea9f)"></i><i style="background:linear-gradient(90deg,#00f988,#00f988,#00f988,#00fb86,#00fd83,#00ff80,#02ff7c,#05ff79,#07ff75,#09ff72,#0bff6f,#0eff6b,#10ff68,#11ff66,#13ff63,#14ff62,#14ff62,#14ff62,#13ff63,#11ff67,#0fff69,#11ff66,#14ff62,#15ff60,#16ff5f,#15ff60,#11ff66,#0cff6d,#07ff75,#01ff7e,#00fb86,#00f78c,#00f490,#00f194,#00ef98,#00ed9b,#00eb9d,#00ea9e,#00ea9f,#00eaa0,#00ea9f)"></i><i style="background:linear-gradient(90deg,#00f989,#00f989,#00f988,#00fa86,#00fc83,#00ff80,#02ff7c,#05ff79,#07ff75,#09ff72,#0bff6f,#0dff6b,#0fff69,#11ff66,#12ff64,#13ff63,#13ff62,#13ff63,#12ff64,#10ff68,#0fff6a,#11ff66,#13ff62,#15ff61,#15ff5f,#15ff60,#11ff66,#0cff6e,#07ff75,#01ff7e,#00fa87,#00f78c,#00f490,#00f194,#00ee98,#00ec9b,#00eb9d,#00ea9e,#00ea9f,#00ea9f,#00ea9f)"></i><i style="background:linear-gradient(90deg,#00f989,#00f889,#00f988,#00fa87,#00fc84,#00ff80,#02ff7c,#05ff79,#07ff75,#09ff72,#0bff6f,#0dff6c,#0fff69,#11ff67,#12ff65,#13ff63,#13ff63,#13ff64,#12ff65,#0fff69,#0eff6b,#10ff67,#13ff63,#14ff61,#15ff60,#15ff61,#11ff66,#0cff6e,#07ff75,#01ff7e,#00fa87,#00f68d,#00f491,#00f195,#00ee99,#00ec9c,#00eb9d,#00ea9e,#00ea9f,#00ea9f,#00ea9f)"></i><i style="background:linear-gradient(90deg,#00f88a,#00f88a,#00f989,#00fa87,#00fc84,#00ff80,#02ff7c,#05ff79,#07ff75,#09ff72,#0bff6f,#0dff6c,#0fff6a,#10ff67,#12ff65,#12ff64,#13ff64,#12ff64,#11ff66,#0fff69,#0dff6c,#10ff68,#13ff64,#14ff62,#15ff61,#14ff61,#11ff67,#0cff6e,#07ff75,#01ff7e,#00fa88,#00f68d,#00f391,#00f195,#00ee99,#00ec9c,#00eb9d,#00ea9f,#00ea9f,#00ea9f,#00ea9f)"></i><i style="background:linear-gradient(90deg,#00f88a,#00f88a,#00f989,#00fa87,#00fc84,#00fe80,#02ff7d,#04ff79,#07ff76,#09ff73,#0bff6f,#0dff6d,#0eff6a,#10ff68,#11ff66,#12ff65,#12ff64,#12ff65,#11ff67,#0eff6a,#0dff6d,#0fff69,#12ff64,#13ff63,#14ff61,#14ff62,#10ff67,#0bff6e,#07ff75,#00ff7f,#00f988,#00f68e,#00f391,#00f195,#00ee99,#00ec9c,#00eb9e,#00ea9f,#00ea9f,#00ea9f,#00ea9f)"></i><i style="background:linear-gradient(90deg,#00f88b,#00f88a,#00f88a,#00fa88,#00fc85,#00fe81,#02ff7d,#04ff79,#06ff76,#08ff73,#0aff70,#0cff6d,#0eff6b,#0fff68,#11ff67,#11ff65,#12ff65,#11ff66,#10ff67,#0eff6b,#0cff6e,#0eff6a,#12ff65,#13ff63,#14ff62,#13ff63,#10ff68,#0bff6f,#06ff76,#00ff7f,#00f989,#00f58e,#00f392,#00f096,#00ee99,#00ec9c,#00eb9e,#00ea9f,#00ea9f,#00ea9f,#00ea9f)"></i><i style="background:linear-gradient(90deg,#00f78b,#00f78b,#00f88a,#00f988,#00fb85,#00fe81,#02ff7d,#04ff79,#06ff76,#08ff73,#0aff70,#0cff6e,#0dff6b,#0fff69,#10ff67,#11ff66,#11ff66,#11ff67,#10ff68,#0dff6c,#0bff6f,#0eff6b,#11ff66,#12ff64,#13ff63,#13ff64,#0fff69,#0bff6f,#06ff76,#00ff80,#00f989,#00f58e,#00f392,#00f096,#00ee9a,#00ec9c,#00eb9e,#00ea9f,#00ea9f,#00ea9f,#00ea9f)"></i><i style="background:linear-gradient(90deg,#00f78b,#00f78b,#00f88a,#00f988,#00fb85,#00fe81,#02ff7d,#04ff7a,#06ff76,#08ff73,#0aff71,#0cff6e,#0dff6c,#0eff6a,#10ff68,#10ff67,#10ff67,#10ff67,#0fff69,#0cff6d,#0bff6f,#0dff6c,#10ff67,#12ff65,#12ff64,#12ff65,#0fff69,#0aff70,#06ff77,#00fe80,#00f88a,#00f58f,#00f292,#00f096,#00ed9a,#00ec9d,#00eb9e,#00ea9f,#00ea9f,#00ea9f,#00ea9f)"></i><i style="background:linear-gradient(90deg,#00f78c,#00f78c,#00f88b,#00f989,#00fb86,#00fe82,#01ff7e,#04ff7a,#06ff77,#08ff74,#0aff71,#0bff6f,#0dff6d,#0eff6b,#0fff69,#10ff68,#10ff68,#10ff68,#0eff6a,#0cff6e,#0aff70,#0dff6d,#10ff68,#11ff66,#12ff65,#11ff66,#0eff6a,#0aff71,#05ff77,#00fe81,#00f88a,#00f48f,#00f293,#00f096,#00ed9a,#00eb9d,#00eb9e,#00ea9f,#00ea9f,#00ea9f,#00ea9f)"></i><i style="background:linear-gradient(90deg,#00f78c,#00f78c,#00f78b,#00f989,#00fb86,#00fd82,#01ff7e,#04ff7a,#06ff77,#07ff74,#09ff72,#0bff6f,#0cff6d,#0dff6b,#0fff6a,#0fff69,#0fff68,#0fff69,#0eff6b,#0bff6f,#0aff71,#0cff6e,#0fff69,#10ff67,#11ff66,#11ff67,#0eff6b,#09ff71,#05ff78,#00fe81,#00f78b,#00f490,#00f293,#00ef97,#00ed9a,#00eb9d,#00ea9e,#00ea9f,#00ea9f,#00ea9f,#00ea9f)"></i><i style="background:linear-gradient(90deg,#00f68c,#00f68c,#00f78b,#00f889,#00fa86,#00fd82,#01ff7e,#03ff7a,#05ff78,#07ff75,#09ff72,#0aff70,#0cff6e,#0dff6c,#0eff6a,#0fff69,#0fff69,#0eff6a,#0dff6c,#0bff70,#09ff72,#0bff6e,#0eff6a,#10ff68,#10ff67,#10ff68,#0dff6c,#09ff72,#05ff79,#00fd82,#00f78b,#00f490,#00f293,#00ef97,#00ed9b,#00eb9d,#00ea9f,#00ea9f,#00ea9f,#00ea9f,#00ea9f)"></i><i style="background:linear-gradient(90deg,#00f68d,#00f68d,#00f78c,#00f88a,#00fa87,#00fd83,#01ff7f,#03ff7b,#05ff78,#07ff75,#08ff73,#0aff71,#0bff6f,#0cff6d,#0dff6b,#0eff6a,#0eff6a,#0eff6b,#0dff6d,#0aff70,#08ff73,#0bff6f,#0eff6b,#0fff69,#0fff68,#0fff69,#0cff6d,#08ff73,#04ff79,#00fd83,#00f78c,#00f391,#00f194,#00ef97,#00ed9b,#00eb9e,#00ea9f,#00ea9f,#00ea9f,#00ea9f,#00ea9f)"></i><i style="background:linear-gradient(90deg,#00f68d,#00f68d,#00f78c,#00f88a,#00fa87,#00fd83,#00ff7f,#03ff7b,#05ff78,#06ff76,#08ff73,#09ff71,#0bff6f,#0cff6e,#0dff6c,#0dff6b,#0eff6b,#0dff6c,#0cff6d,#09ff71,#08ff74,#0aff70,#0dff6c,#0eff6a,#0fff69,#0eff6a,#0cff6e,#08ff74,#04ff7a,#00fc83,#00f68d,#00f391,#00f194,#00ef98,#00ed9b,#00eb9e,#00ea9f,#00ea9f,#00ea9f,#00eaa0,#00ea9f)"></i><i style="background:linear-gradient(90deg,#00f68e,#00f68d,#00f68c,#00f88b,#00fa87,#00fc83,#00ff7f,#03ff7c,#04ff79,#06ff76,#08ff74,#09ff72,#0aff70,#0bff6e,#0cff6d,#0dff6c,#0dff6c,#0dff6d,#0bff6e,#09ff72,#07ff75,#09ff71,#0cff6d,#0dff6c,#0eff6b,#0eff6b,#0bff6f,#07ff75,#03ff7b,#00fc84,#00f68d,#00f392,#00f195,#00ef98,#00ec9b,#00eb9e,#00ea9f,#00ea9f,#00eaa0,#00eaa0,#00ea9f)"></i><i style="background:linear-gradient(90deg,#00f58e,#00f58e,#00f68d,#00f78b,#00f988,#00fc84,#00ff80,#02ff7c,#04ff79,#06ff77,#07ff75,#09ff73,#0aff71,#0bff6f,#0cff6e,#0cff6d,#0cff6d,#0cff6e,#0bff6f,#08ff73,#07ff75,#09ff72,#0bff6e,#0cff6d,#0dff6c,#0dff6c,#0aff70,#06ff76,#02ff7c,#00fb85,#00f68e,#00f292,#00f195,#00ee98,#00ec9c,#00eb9e,#00ea9f,#00ea9f,#00eaa0,#00eaa0,#00ea9f)"></i><i style="background:linear-gradient(90deg,#00f58e,#00f58e,#00f68d,#00f78b,#00f988,#00fc84,#00ff80,#02ff7d,#04ff7a,#05ff77,#07ff75,#08ff73,#09ff72,#0aff70,#0bff6f,#0cff6e,#0cff6e,#0bff6f,#0aff70,#08ff74,#06ff76,#08ff73,#0bff70,#0cff6e,#0cff6d,#0cff6e,#09ff71,#06ff77,#02ff7d,#00fb86,#00f58e,#00f293,#00f096,#00ee99,#00ec9c,#00ea9e,#00ea9f,#00ea9f,#00eaa0,#00eaa0,#00ea9f)"></i><i style="background:linear-gradient(90deg,#00f58e,#00f58e,#00f68e,#00f78c,#00f989,#00fc85,#00fe81,#02ff7d,#03ff7a,#05ff78,#06ff76,#08ff74,#09ff72,#0aff71,#0bff70,#0bff6f,#0bff6f,#0bff6f,#0aff71,#07ff75,#06ff77,#08ff74,#0aff71,#0bff6f,#0bff6e,#0bff6f,#09ff73,#05ff78,#01ff7e,#00fa86,#00f58f,#00f293,#00f096,#00ee99,#00ec9c,#00ea9f,#00ea9f,#00ea9f,#00eaa0,#00eaa0,#00ea9f)"></i><i style="background:linear-gradient(90deg,#00f58f,#00f58f,#00f58e,#00f78c,#00f989,#00fb85,#00fe81,#01ff7e,#03ff7b,#05ff79,#06ff77,#07ff75,#08ff73,#09ff72,#0aff71,#0aff70,#0aff70,#0aff70,#09ff72,#07ff75,#05ff78,#07ff75,#09ff72,#0aff71,#0bff70,#0aff70,#08ff74,#04ff79,#01ff7f,#00fa87,#00f48f,#00f294,#00f096,#00ee99,#00ec9d,#00ea9f,#00ea9f,#00ea9f,#00eaa0,#00eaa0,#00ea9f)"></i><i style="background:linear-gradient(90deg,#00f58f,#00f58f,#00f58e,#00f68c,#00f889,#00fb85,#00fe82,#01ff7e,#03ff7b,#04ff79,#05ff77,#07ff75,#08ff74,#09ff72,#09ff71,#0aff71,#0aff71,#09ff71,#09ff73,#06ff76,#05ff78,#06ff76,#08ff73,#09ff72,#0aff71,#09ff71,#07ff75,#04ff7a,#00ff80,#00fa88,#00f490,#00f194,#00f097,#00ed9a,#00eb9d,#00ea9f,#00ea9f,#00ea9f,#00eaa0,#00eaa0,#00ea9f)"></i><i style="background:linear-gradient(90deg,#00f48f,#00f48f,#00f58f,#00f68d,#00f88a,#00fb86,#00fd82,#01ff7f,#02ff7c,#04ff7a,#05ff78,#06ff76,#07ff75,#08ff73,#09ff72,#09ff72,#09ff72,#09ff72,#08ff74,#06ff77,#04ff79,#06ff77,#08ff74,#08ff73,#09ff72,#09ff73,#06ff76,#03ff7b,#00fe80,#00f988,#00f490,#00f195,#00ef97,#00ed9a,#00eb9d,#00ea9f,#00eaa0,#00ea9f,#00eaa0,#00eaa0,#00eaa0)"></i><i style="background:linear-gradient(90deg,#00f490,#00f490,#00f58f,#00f68d,#00f88a,#00fb86,#00fd82,#00ff7f,#02ff7d,#03ff7a,#05ff79,#06ff77,#07ff75,#08ff74,#08ff73,#08ff73,#08ff73,#08ff73,#07ff75,#05ff78,#04ff7a,#05ff78,#07ff75,#08ff74,#08ff74,#08ff74,#06ff77,#02ff7c,#00fe81,#00f989,#00f391,#00f195,#00ef98,#00ed9a,#00eb9d,#00ea9f,#00eaa0,#00ea9f,#00eaa0,#00eaa0,#00eaa0)"></i><i style="background:linear-gradient(90deg,#00f490,#00f490,#00f58f,#00f68d,#00f88a,#00fa87,#00fd83,#00ff80,#02ff7d,#03ff7b,#04ff79,#05ff77,#06ff76,#07ff75,#08ff74,#08ff74,#08ff74,#08ff74,#07ff75,#05ff78,#03ff7b,#04ff79,#06ff76,#07ff75,#07ff75,#07ff75,#05ff78,#02ff7d,#00fd82,#00f88a,#00f391,#00f095,#00ef98,#00ed9b,#00eb9d,#00ea9f,#00eaa0,#00ea9f,#00eaa0,#00eaa0,#00eaa0)"></i><i style="background:linear-gradient(90deg,#00f490,#00f490,#00f490,#00f68e,#00f78b,#00fa87,#00fc83,#00ff80,#01ff7e,#03ff7c,#04ff7a,#05ff78,#06ff76,#07ff75,#07ff75,#07ff75,#07ff75,#07ff75,#06ff76,#04ff79,#03ff7b,#04ff7a,#05ff77,#06ff77,#06ff76,#06ff76,#04ff79,#01ff7e,#00fd83,#00f88a,#00f392,#00f096,#00ee98,#00ed9b,#00eb9e,#00ea9f,#00eaa0,#00ea9f,#00eaa0,#00eaa0,#00eaa0)"></i><i style="background:linear-gradient(90deg,#00f490,#00f490,#00f490,#00f58e,#00f78b,#00fa87,#00fc84,#00fe81,#01ff7e,#02ff7c,#03ff7a,#05ff79,#06ff77,#06ff76,#06ff76,#07ff76,#07ff76,#06ff76,#06ff77,#04ff7a,#02ff7c,#03ff7b,#05ff79,#05ff78,#06ff77,#05ff77,#03ff7a,#00ff7f,#00fc84,#00f78b,#00f392,#00f096,#00ee99,#00ec9b,#00eb9e,#00ea9f,#00eaa0,#00ea9f,#00ea9f,#00eaa0,#00ea9f)"></i><i style="background:linear-gradient(90deg,#00f490,#00f491,#00f490,#00f58e,#00f78b,#00f988,#00fc84,#00fe81,#01ff7f,#02ff7d,#03ff7b,#04ff79,#05ff78,#06ff77,#06ff77,#06ff77,#06ff76,#06ff77,#05ff78,#03ff7b,#02ff7d,#03ff7c,#04ff7a,#04ff79,#05ff78,#05ff79,#03ff7c,#00ff80,#00fb85,#00f78c,#00f292,#00f096,#00ee99,#00ec9c,#00eb9e,#00ea9f,#00eaa0,#00ea9f,#00ea9f,#00ea9f,#00ea9f)"></i><i style="background:linear-gradient(90deg,#00f491,#00f391,#00f490,#00f58f,#00f78c,#00f988,#00fc85,#00fe82,#00ff7f,#02ff7d,#03ff7c,#04ff7a,#05ff78,#05ff77,#05ff77,#05ff77,#05ff77,#05ff78,#04ff79,#03ff7c,#01ff7e,#02ff7c,#03ff7b,#04ff7a,#04ff79,#04ff7a,#02ff7c,#00fe81,#00fb86,#00f68c,#00f293,#00f097,#00ee99,#00ec9c,#00eb9e,#00ea9f,#00eaa0,#00ea9f,#00ea9f,#00ea9f,#00ea9f)"></i><i style="background:linear-gradient(90deg,#00f391,#00f391,#00f491,#00f58f,#00f78c,#00f989,#00fb85,#00fd82,#00ff7f,#01ff7e,#02ff7c,#03ff7a,#04ff79,#05ff78,#05ff78,#05ff78,#05ff78,#05ff78,#04ff7a,#02ff7c,#01ff7f,#01ff7d,#03ff7b,#03ff7b,#03ff7a,#03ff7b,#01ff7d,#00fe82,#00fa86,#00f68d,#00f293,#00ef97,#00ee9a,#00ec9c,#00eb9e,#00ea9f,#00ea9f,#00ea9f,#00ea9f,#00ea9f,#00ea9f)"></i><i style="background:linear-gradient(90deg,#00f391,#00f391,#00f391,#00f58f,#00f68c,#00f989,#00fb86,#00fd82,#00ff80,#01ff7e,#02ff7d,#03ff7b,#04ff79,#05ff79,#04ff79,#04ff79,#04ff79,#04ff79,#03ff7a,#02ff7d,#00ff7f,#01ff7e,#02ff7c,#03ff7c,#03ff7b,#03ff7c,#01ff7e,#00fd82,#00fa87,#00f68d,#00f293,#00ef97,#00ed9a,#00ec9c,#00eb9e,#00ea9f,#00ea9f,#00ea9f,#00ea9f,#00ea9f,#00ea9f)"></i><i style="background:linear-gradient(90deg,#00f391,#00f391,#00f391,#00f48f,#00f68d,#00f889,#00fb86,#00fd83,#00fe80,#01ff7f,#02ff7d,#03ff7b,#04ff7a,#04ff79,#04ff79,#04ff7a,#04ff7a,#04ff7a,#03ff7b,#01ff7e,#00ff80,#00ff7f,#02ff7d,#02ff7d,#02ff7c,#02ff7d,#00ff7f,#00fd83,#00fa88,#00f68e,#00f294,#00ef98,#00ed9a,#00ec9d,#00ea9e,#00ea9f,#00ea9f,#00ea9f,#00ea9f,#00ea9f,#00ea9f)"></i><i style="background:linear-gradient(90deg,#00f391,#00f392,#00f391,#00f490,#00f68d,#00f88a,#00fa86,#00fc83,#00fe81,#00ff7f,#01ff7d,#03ff7c,#04ff7a,#04ff7a,#04ff7a,#03ff7b,#03ff7b,#03ff7b,#02ff7c,#01ff7f,#00fe81,#00ff80,#01ff7e,#01ff7d,#02ff7d,#01ff7d,#00ff80,#00fc84,#00f988,#00f58e,#00f194,#00ef98,#00ed9b,#00ec9d,#00ea9e,#00ea9f,#00ea9f,#00ea9f,#00ea9f,#00ea9f,#00ea9f)"></i><i style="background:linear-gradient(90deg,#00f391,#00f392,#00f391,#00f490,#00f68d,#00f88a,#00fa87,#00fc84,#00fe81,#00ff7f,#01ff7e,#02ff7c,#03ff7b,#04ff7a,#03ff7b,#03ff7c,#03ff7c,#03ff7c,#02ff7d,#00ff7f,#00fe81,#00fe81,#00ff7f,#01ff7e,#01ff7e,#01ff7e,#00fe81,#00fc85,#00f989,#00f58f,#00f194,#00ef98,#00ed9b,#00eb9d,#00ea9e,#00ea9f,#00ea9f,#00ea9f,#00ea9f,#00ea9f,#00ea9e)"></i><i style="background:linear-gradient(90deg,#00f392,#00f392,#00f392,#00f490,#00f68e,#00f88a,#00fa87,#00fc84,#00fe82,#00ff80,#01ff7e,#02ff7c,#03ff7b,#03ff7b,#03ff7b,#02ff7c,#02ff7c,#02ff7c,#01ff7d,#00ff80,#00fd82,#00fe81,#00ff80,#00ff7f,#01ff7f,#00ff7f,#00fe82,#00fb85,#00f889,#00f58f,#00f194,#00ee98,#00ed9b,#00eb9d,#00ea9e,#00ea9f,#00ea9f,#00ea9f,#00ea9e,#00ea9e,#00eb9e)"></i><i style="background:linear-gradient(90deg,#00f392,#00f392,#00f392,#00f490,#00f58e,#00f88b,#00fa87,#00fc84,#00fd82,#00ff80,#01ff7f,#02ff7d,#03ff7b,#03ff7b,#02ff7c,#02ff7d,#02ff7d,#02ff7d,#01ff7e,#00fe81,#00fd83,#00fd82,#00fe80,#00ff80,#00ff7f,#00ff80,#00fd82,#00fb86,#00f88a,#00f48f,#00f195,#00ee99,#00ed9b,#00eb9d,#00ea9e,#00ea9f,#00ea9f,#00ea9e,#00eb9e,#00eb9e,#00eb9e)"></i><i style="background:linear-gradient(90deg,#00f392,#00f292,#00f392,#00f490,#00f58e,#00f78b,#00f988,#00fc85,#00fd82,#00fe81,#00ff7f,#02ff7d,#03ff7c,#03ff7b,#02ff7d,#01ff7e,#01ff7e,#01ff7e,#00ff7f,#00fe82,#00fc84,#00fd83,#00fe81,#00fe80,#00ff80,#00fe81,#00fd83,#00fa86,#00f88b,#00f490,#00f195,#00ee99,#00ec9b,#00eb9d,#00ea9e,#00ea9e,#00ea9e,#00eb9e,#00eb9e,#00eb9e,#00eb9d)"></i><i style="background:linear-gradient(90deg,#00f392,#00f292,#00f392,#00f491,#00f58e,#00f78b,#00f988,#00fb85,#00fd83,#00fe81,#00ff7f,#01ff7d,#02ff7c,#02ff7c,#02ff7d,#01ff7e,#01ff7f,#01ff7e,#00ff80,#00fd82,#00fc84,#00fc83,#00fe82,#00fe81,#00fe81,#00fe81,#00fc84,#00fa87,#00f78b,#00f490,#00f195,#00ee99,#00ec9c,#00eb9e,#00eb9e,#00eb9e,#00eb9e,#00eb9e,#00eb9e,#00eb9e,#00eb9d)"></i><i style="background:linear-gradient(90deg,#00f392,#00f293,#00f392,#00f391,#00f58f,#00f78c,#00f988,#00fb85,#00fd83,#00fe81,#00ff80,#01ff7e,#02ff7c,#02ff7c,#01ff7e,#00ff7f,#00ff7f,#00ff7f,#00fe80,#00fd83,#00fb85,#00fc84,#00fd82,#00fd82,#00fe82,#00fd82,#00fc84,#00fa88,#00f78b,#00f490,#00f195,#00ee99,#00ec9c,#00eb9e,#00eb9e,#00eb9e,#00eb9e,#00eb9e,#00eb9e,#00eb9d,#00eb9d)"></i><i style="background:linear-gradient(90deg,#00f292,#00f293,#00f292,#00f391,#00f58f,#00f78c,#00f989,#00fb86,#00fc83,#00fe82,#00ff80,#01ff7e,#02ff7d,#02ff7d,#01ff7e,#00ff80,#00ff80,#00ff80,#00fe81,#00fc84,#00fb86,#00fb85,#00fd83,#00fd82,#00fd82,#00fd83,#00fb85,#00f988,#00f78c,#00f490,#00f095,#00ee99,#00ec9c,#00eb9e,#00eb9e,#00eb9e,#00eb9e,#00eb9e,#00eb9d,#00eb9d,#00ec9c)"></i><i style="background:linear-gradient(90deg,#00f292,#00f293,#00f292,#00f391,#00f58f,#00f68c,#00f989,#00fb86,#00fc84,#00fd82,#00fe80,#01ff7e,#02ff7d,#02ff7d,#01ff7f,#00fe80,#00fe81,#00fe80,#00fe82,#00fc84,#00fa87,#00fb85,#00fc84,#00fd83,#00fd83,#00fc83,#00fb85,#00f989,#00f78c,#00f491,#00f095,#00ee99,#00ec9c,#00eb9e,#00eb9e,#00eb9d,#00eb9d,#00eb9d,#00eb9d,#00ec9d,#00ec9c)"></i><i style="background:linear-gradient(90deg,#00f293,#00f293,#00f293,#00f391,#00f48f,#00f68d,#00f889,#00fa86,#00fc84,#00fd82,#00fe81,#01ff7f,#02ff7d,#01ff7d,#00ff7f,#00fe81,#00fe81,#00fe81,#00fd82,#00fb85,#00fa87,#00fb86,#00fc84,#00fc84,#00fc83,#00fc84,#00fb86,#00f989,#00f68d,#00f391,#00f096,#00ee99,#00ec9c,#00eb9e,#00eb9e,#00eb9d,#00eb9d,#00eb9d,#00eb9d,#00ec9c,#00ec9c)"></i><i style="background:linear-gradient(90deg,#00f293,#00f293,#00f293,#00f392,#00f490,#00f68d,#00f88a,#00fa87,#00fc84,#00fd82,#00fe81,#00ff7f,#01ff7e,#01ff7e,#00ff80,#00fd82,#00fd82,#00fd82,#00fd83,#00fb86,#00f988,#00fa87,#00fb85,#00fc84,#00fc84,#00fc85,#00fa87,#00f88a,#00f68d,#00f391,#00f096,#00ee9a,#00ec9d,#00eb9e,#00eb9e,#00eb9d,#00eb9d,#00eb9d,#00ec9d,#00ec9c,#00ec9b)"></i><i style="background:linear-gradient(90deg,#00f293,#00f293,#00f293,#00f392,#00f490,#00f68d,#00f88a,#00fa87,#00fc84,#00fd83,#00fe81,#00ff7f,#01ff7e,#01ff7e,#00ff80,#00fd82,#00fd83,#00fd82,#00fc84,#00fa86,#00f989,#00fa87,#00fb85,#00fb85,#00fc85,#00fb85,#00fa87,#00f88a,#00f68d,#00f391,#00f096,#00ee9a,#00ec9d,#00eb9e,#00eb9e,#00eb9d,#00ec9d,#00eb9d,#00ec9c,#00ec9c,#00ed9b)"></i><i style="background:linear-gradient(90deg,#00f293,#00f293,#00f293,#00f392,#00f490,#00f68e,#00f88a,#00fa87,#00fb85,#00fd83,#00fe81,#00ff7f,#01ff7e,#01ff7e,#00fe81,#00fd83,#00fd83,#00fd83,#00fc84,#00fa87,#00f889,#00f988,#00fb86,#00fb85,#00fb85,#00fb86,#00fa88,#00f88a,#00f68e,#00f392,#00f096,#00ed9a,#00eb9d,#00eb9e,#00eb9e,#00ec9d,#00ec9d,#00ec9d,#00ec9c,#00ec9b,#00ed9a)"></i><i style="background:linear-gradient(90deg,#00f293,#00f294,#00f293,#00f392,#00f490,#00f58e,#00f78b,#00fa88,#00fb85,#00fc83,#00fe82,#00ff80,#01ff7e,#01ff7f,#00fe81,#00fc84,#00fc84,#00fc84,#00fb85,#00f988,#00f88a,#00f989,#00fa87,#00fb86,#00fb86,#00fa86,#00f988,#00f78b,#00f58e,#00f392,#00f096,#00ed9a,#00eb9d,#00eb9e,#00eb9e,#00ec9c,#00ec9c,#00ec9c,#00ec9c,#00ed9b,#00ed9a)"></i><i style="background:linear-gradient(90deg,#00f293,#00f294,#00f293,#00f392,#00f491,#00f58e,#00f78b,#00f988,#00fb85,#00fc84,#00fd82,#00ff80,#01ff7f,#00ff7f,#00fe82,#00fc84,#00fc84,#00fc84,#00fb85,#00f988,#00f88b,#00f889,#00fa87,#00fa87,#00fa86,#00fa87,#00f989,#00f78b,#00f58e,#00f392,#00f096,#00ed9a,#00eb9d,#00eb9e,#00eb9d,#00ec9c,#00ec9c,#00ec9c,#00ec9c,#00ed9b,#00ee9a)"></i><i style="background:linear-gradient(90deg,#00f294,#00f194,#00f293,#00f292,#00f391,#00f58f,#00f78b,#00f988,#00fb86,#00fc84,#00fd82,#00fe80,#00ff7f,#00ff7f,#00fd82,#00fb85,#00fb85,#00fb85,#00fb86,#00f989,#00f78b,#00f88a,#00f988,#00fa87,#00fa87,#00fa87,#00f989,#00f78c,#00f58f,#00f392,#00f096,#00ed9a,#00eb9d,#00eb9e,#00eb9d,#00ec9c,#00ec9c,#00ec9c,#00ec9b,#00ed9a,#00ee99)"></i><i style="background:linear-gradient(90deg,#00f294,#00f194,#00f294,#00f293,#00f391,#00f58f,#00f78c,#00f988,#00fb86,#00fc84,#00fd83,#00fe81,#00ff7f,#00ff80,#00fd83,#00fb85,#00fb86,#00fb85,#00fa87,#00f88a,#00f78c,#00f88a,#00f988,#00fa88,#00fa87,#00f988,#00f88a,#00f78c,#00f58f,#00f292,#00f096,#00ed9a,#00eb9d,#00eb9e,#00eb9d,#00ec9c,#00ec9c,#00ec9c,#00ed9b,#00ed9a,#00ee99)"></i><i style="background:linear-gradient(90deg,#00f194,#00f194,#00f194,#00f293,#00f391,#00f48f,#00f78c,#00f989,#00fb86,#00fc84,#00fd83,#00fe81,#00ff80,#00ff80,#00fd83,#00fb86,#00fa86,#00fb86,#00fa87,#00f88a,#00f68c,#00f78b,#00f989,#00f988,#00f988,#00f988,#00f88a,#00f68c,#00f58f,#00f293,#00f096,#00ed9a,#00eb9d,#00eb9e,#00eb9d,#00ec9c,#00ec9b,#00ec9c,#00ed9b,#00ee9a,#00ee98)"></i><i style="background:linear-gradient(90deg,#00f194,#00f194,#00f194,#00f293,#00f392,#00f490,#00f68c,#00f989,#00fa87,#00fc85,#00fd83,#00fe81,#00ff80,#00fe81,#00fc84,#00fa87,#00fa87,#00fa87,#00f988,#00f78b,#00f68d,#00f78c,#00f88a,#00f989,#00f989,#00f989,#00f88a,#00f68d,#00f490,#00f293,#00f097,#00ed9a,#00eb9d,#00eb9e,#00eb9d,#00ec9b,#00ec9b,#00ec9b,#00ed9b,#00ee99,#00ef98)"></i><i style="background:linear-gradient(90deg,#00f194,#00f195,#00f194,#00f293,#00f392,#00f490,#00f68d,#00f889,#00fa87,#00fb85,#00fc83,#00fe81,#00ff80,#00fe81,#00fc84,#00fa87,#00fa87,#00fa87,#00f988,#00f78b,#00f68e,#00f78c,#00f88a,#00f889,#00f989,#00f889,#00f78b,#00f68d,#00f490,#00f293,#00f097,#00ed9a,#00eb9d,#00eb9e,#00eb9d,#00ec9b,#00ed9b,#00ec9b,#00ed9b,#00ee99,#00ef97)"></i><i style="background:linear-gradient(90deg,#00f195,#00f195,#00f194,#00f294,#00f292,#00f490,#00f68d,#00f88a,#00fa87,#00fb85,#00fc84,#00fe82,#00fe81,#00fe81,#00fc84,#00fa88,#00f988,#00fa88,#00f989,#00f78c,#00f58e,#00f68d,#00f88b,#00f88a,#00f88a,#00f88a,#00f78b,#00f68e,#00f490,#00f293,#00ef97,#00ed9b,#00eb9d,#00eb9e,#00eb9d,#00ed9b,#00ed9b,#00ed9b,#00ed9a,#00ee99,#00ef97)"></i><i style="background:linear-gradient(90deg,#01f095,#00f195,#00f195,#00f194,#00f293,#00f491,#00f68d,#00f88a,#00fa87,#00fb86,#00fc84,#00fd82,#00fe81,#00fe82,#00fb85,#00f988,#00f989,#00f988,#00f88a,#00f68c,#00f58f,#00f68d,#00f78b,#00f88b,#00f88a,#00f88a,#00f78c,#00f58e,#00f490,#00f293,#00ef97,#00ed9b,#00eb9d,#00eb9e,#00eb9d,#00ed9b,#00ed9b,#00ed9b,#00ed9a,#00ee98,#00f097)"></i><i style="background:linear-gradient(90deg,#02ef95,#00f095,#00f195,#00f194,#00f293,#00f391,#00f68e,#00f88a,#00fa88,#00fb86,#00fc84,#00fd82,#00fe81,#00fd82,#00fb85,#00f989,#00f989,#00f989,#00f88a,#00f68d,#00f58f,#00f58e,#00f78c,#00f78b,#00f78b,#00f78b,#00f78c,#00f58e,#00f491,#00f294,#00ef97,#00ed9b,#00eb9d,#00eb9e,#00eb9d,#00ed9b,#00ed9b,#00ed9b,#00ed9a,#00ef98,#00f096)"></i><i style="background:linear-gradient(90deg,#04ed95,#01ef95,#00f195,#00f194,#00f293,#00f391,#00f58e,#00f88b,#00f988,#00fb86,#00fc84,#00fd83,#00fe82,#00fd83,#00fb86,#00f889,#00f88a,#00f889,#00f88b,#00f68e,#00f490,#00f58e,#00f68d,#00f78c,#00f78b,#00f78b,#00f68d,#00f58f,#00f391,#00f194,#00ef97,#00ed9b,#00eb9d,#00eb9e,#00ec9d,#00ed9b,#00ed9b,#00ed9b,#00ee9a,#00ef98,#00f096)"></i><i style="background:linear-gradient(90deg,#05ec95,#03ee95,#00f096,#00f195,#00f294,#00f392,#00f58e,#00f78b,#00f988,#00fa86,#00fb85,#00fd83,#00fd82,#00fd83,#00fa87,#00f88a,#00f88a,#00f88a,#00f78b,#00f58e,#00f490,#00f58f,#00f68d,#00f68c,#00f78c,#00f78c,#00f68d,#00f58f,#00f391,#00f194,#00ef97,#00ed9b,#00eb9d,#00eb9e,#00ec9d,#00ed9b,#00ed9b,#00ed9b,#00ee99,#00ef98,#00f096)"></i><i style="background:linear-gradient(90deg,#07ea95,#04ec96,#00f096,#00f195,#00f194,#00f392,#00f58f,#00f78b,#00f989,#00fa87,#00fb85,#00fc83,#00fd83,#00fc84,#00fa87,#00f88b,#00f78b,#00f88b,#00f78c,#00f58e,#00f491,#00f490,#00f58e,#00f68d,#00f68d,#00f68c,#00f68e,#00f48f,#00f392,#00f194,#00ef98,#00ed9b,#00eb9d,#00eb9e,#00ec9d,#00ed9b,#00ed9b,#00ed9a,#00ee99,#00ef97,#00f195)"></i><i style="background:linear-gradient(90deg,#08e995,#06eb96,#00f096,#00f095,#00f194,#00f292,#00f58f,#00f78c,#00f989,#00fa87,#00fb85,#00fc84,#00fd83,#00fc84,#00fa88,#00f78b,#00f78b,#00f78b,#00f68c,#00f58f,#00f391,#00f490,#00f58f,#00f58e,#00f68d,#00f68d,#00f58e,#00f490,#00f392,#00f195,#00ef98,#00ed9b,#00eb9d,#00eb9e,#00ec9d,#00ed9b,#00ed9b,#00ed9a,#00ee99,#00ef97,#00f195)"></i><i style="background:linear-gradient(90deg,#0ae795,#07e996,#00f096,#00f096,#00f195,#00f293,#00f48f,#00f78c,#00f889,#00fa87,#00fb86,#00fc84,#00fc83,#00fc85,#00f988,#00f78c,#00f78c,#00f78c,#00f68d,#00f48f,#00f391,#00f491,#00f58f,#00f58e,#00f58e,#00f68e,#00f58f,#00f490,#00f292,#00f195,#00ef98,#00ed9b,#00eb9d,#00eb9e,#00ec9d,#00ed9b,#00ed9b,#00ed9a,#00ee99,#00ef97,#00f194)"></i><i style="background:linear-gradient(90deg,#0be595,#09e896,#01ee97,#00f096,#00f195,#00f293,#00f490,#00f78c,#00f88a,#00fa88,#00fb86,#00fc85,#00fc84,#00fb85,#00f989,#00f78c,#00f68d,#00f78c,#00f68d,#00f490,#00f392,#00f391,#00f490,#00f58f,#00f58e,#00f58e,#00f58f,#00f491,#00f293,#00f195,#00ef98,#00ed9b,#00eb9d,#00eb9e,#00ec9d,#00ed9b,#00ed9b,#00ed9a,#00ee99,#00f097,#00f194)"></i><i style="background:linear-gradient(90deg,#0de495,#0ae696,#03ed97,#00f096,#00f095,#00f293,#00f490,#00f68d,#00f88a,#00f988,#00fa86,#00fb85,#00fc84,#00fb86,#00f989,#00f68d,#00f68d,#00f68d,#00f58e,#00f490,#00f392,#00f392,#00f491,#00f490,#00f58f,#00f58f,#00f48f,#00f391,#00f293,#00f095,#00ee98,#00ed9b,#00eb9d,#00eb9e,#00ec9d,#00ed9b,#00ed9b,#00ed9a,#00ee98,#00f096,#00f194)"></i><i style="background:linear-gradient(90deg,#0fe295,#0ce596,#04ec97,#00f097,#00f096,#00f194,#00f490,#00f68d,#00f88a,#00f988,#00fa87,#00fb85,#00fb85,#00fb86,#00f88a,#00f68d,#00f68e,#00f68d,#00f58e,#00f491,#00f293,#00f392,#00f391,#00f491,#00f490,#00f58f,#00f490,#00f391,#00f293,#00f096,#00ee99,#00ed9b,#00eb9d,#00eb9d,#00ec9d,#00ed9b,#00ed9b,#00ed9a,#00ee98,#00f096,#00f293)"></i><i style="background:linear-gradient(90deg,#10e195,#0de396,#05ea97,#00ef97,#00f096,#00f194,#00f391,#00f68d,#00f88b,#00f989,#00fa87,#00fb86,#00fb85,#00fa87,#00f88a,#00f68e,#00f58e,#00f58e,#00f58f,#00f391,#00f293,#00f293,#00f392,#00f391,#00f490,#00f490,#00f490,#00f392,#00f294,#00f096,#00ee99,#00ed9b,#00eb9d,#00eb9d,#00ec9d,#00ed9b,#00ed9b,#00ed9a,#00ef98,#00f096,#00f293)"></i><i style="background:linear-gradient(90deg,#12df95,#0fe196,#07e997,#00ef97,#00f096,#00f195,#00f391,#00f68e,#00f78b,#00f989,#00fa87,#00fb86,#00fb86,#00fa87,#00f88b,#00f58e,#00f58f,#00f58e,#00f48f,#00f391,#00f293,#00f293,#00f292,#00f392,#00f391,#00f490,#00f391,#00f292,#00f194,#00f096,#00ee99,#00ed9b,#00ec9d,#00eb9d,#00ec9c,#00ed9b,#00ed9b,#00ee9a,#00ef98,#00f096,#00f293)"></i><i style="background:linear-gradient(90deg,#14dd95,#10e096,#08e797,#00ef98,#00ef97,#00f195,#00f391,#00f58e,#00f78b,#00f889,#00fa88,#00fa87,#00fa86,#00fa88,#00f78b,#00f58f,#00f58f,#00f58f,#00f490,#00f392,#00f294,#00f294,#00f293,#00f293,#00f392,#00f491,#00f391,#00f293,#00f194,#00f097,#00ee99,#00ed9b,#00ec9d,#00eb9d,#00ec9c,#00ec9b,#00ed9b,#00ee9a,#00ef98,#00f095,#00f292)"></i><i style="background:linear-gradient(90deg,#15dc95,#12de96,#0ae697,#00ef98,#00ef97,#00f095,#00f392,#00f58e,#00f78c,#00f88a,#00f988,#00fa87,#00fa87,#00f988,#00f78c,#00f48f,#00f490,#00f48f,#00f490,#00f392,#00f194,#00f194,#00f194,#00f293,#00f392,#00f391,#00f392,#00f293,#00f195,#00ef97,#00ee99,#00ec9b,#00ec9d,#00eb9d,#00ec9c,#00ec9b,#00ed9b,#00ee99,#00ef98,#00f195,#00f392)"></i><i style="background:linear-gradient(90deg,#17da95,#14dd96,#0be497,#00ee99,#00ef97,#00f096,#00f392,#00f58f,#00f78c,#00f88a,#00f988,#00fa87,#00fa87,#00f989,#00f68c,#00f490,#00f490,#00f490,#00f391,#00f293,#00f194,#00f195,#00f194,#00f194,#00f293,#00f392,#00f392,#00f293,#00f195,#00ef97,#00ee99,#00ec9b,#00ec9c,#00eb9d,#00ec9c,#00ec9b,#00ed9b,#00ee99,#00ef97,#00f195,#00f392)"></i><i style="background:linear-gradient(90deg,#18d895,#15db96,#0ce397,#00ee99,#00ef98,#00f096,#00f292,#00f58f,#00f68c,#00f88a,#00f989,#00f988,#00f988,#00f889,#00f68d,#00f490,#00f491,#00f490,#00f391,#00f293,#00f195,#00f195,#00f195,#00f195,#00f293,#00f292,#00f293,#00f194,#00f195,#00ef97,#00ee9a,#00ec9b,#00ec9c,#00ec9d,#00ec9c,#00ec9b,#00ed9b,#00ee99,#00ef97,#00f195,#00f392)"></i><i style="background:linear-gradient(90deg,#1ad795,#17da96,#0ee297,#01ed99,#00ef98,#00f096,#00f293,#00f48f,#00f68d,#00f88b,#00f989,#00f988,#00f988,#00f88a,#00f68d,#00f391,#00f391,#00f391,#00f392,#00f293,#00f195,#00f095,#00f096,#00f095,#00f194,#00f293,#00f293,#00f194,#00f096,#00ef98,#00ed9a,#00ec9b,#00ec9c,#00ec9d,#00ec9c,#00ec9b,#00ed9a,#00ee99,#00ef97,#00f194,#00f391)"></i><i style="background:linear-gradient(90deg,#1cd595,#18d896,#0fe097,#02ec99,#00ee99,#00f097,#00f293,#00f490,#00f68d,#00f78b,#00f88a,#00f989,#00f989,#00f88a,#00f58e,#00f391,#00f392,#00f391,#00f392,#00f294,#00f195,#00f096,#00f096,#00f096,#00f195,#00f293,#00f294,#00f195,#00f096,#00ef98,#00ed9a,#00ec9b,#00ec9c,#00ec9c,#00ec9c,#00ec9c,#00ed9a,#00ee99,#00ef97,#00f194,#00f391)"></i><i style="background:linear-gradient(90deg,#1dd495,#1ad696,#11df97,#03eb99,#00ee99,#00ef97,#00f294,#00f490,#00f68d,#00f78b,#00f88a,#00f989,#00f889,#00f78b,#00f58e,#00f392,#00f392,#00f392,#00f293,#00f194,#00f095,#00f096,#00ef97,#00f097,#00f195,#00f194,#00f194,#00f195,#00f096,#00ef98,#00ed9a,#00ec9b,#00ec9c,#00ec9c,#00ec9c,#00ec9c,#00ed9a,#00ee99,#00f097,#00f194,#00f491)"></i><i style="background:linear-gradient(90deg,#1fd295,#1cd596,#12dd97,#04e999,#00ee99,#00ef97,#00f194,#00f490,#00f58e,#00f78c,#00f88a,#00f88a,#00f88a,#00f78b,#00f58f,#00f292,#00f293,#00f292,#00f293,#00f194,#00f096,#00f097,#00ef97,#00ef97,#00f096,#00f194,#00f194,#00f095,#00f096,#00ee98,#00ed9a,#00ec9b,#00ec9c,#00ec9c,#00ec9c,#00ec9c,#00ed9a,#00ee99,#00f096,#00f294,#00f490)"></i><i style="background:linear-gradient(90deg,#21d095,#1dd396,#13dc97,#05e89a,#00ee9a,#00ef98,#00f194,#00f491,#00f58e,#00f78c,#00f88b,#00f88a,#00f88a,#00f78c,#00f48f,#00f293,#00f293,#00f293,#00f293,#00f195,#00f096,#00ef97,#00ef98,#00ef98,#00f096,#00f195,#00f195,#00f096,#00f097,#00ee99,#00ed9b,#00ec9b,#00ec9c,#00ec9c,#00ec9c,#00ec9c,#00ed9a,#00ee98,#00f096,#00f293,#00f490)"></i><i style="background:linear-gradient(90deg,#22cf95,#1fd295,#15da97,#07e79a,#00ed9a,#00ef98,#00f195,#00f391,#00f58f,#00f68c,#00f78b,#00f88a,#00f78b,#00f68c,#00f490,#00f293,#00f294,#00f293,#00f194,#00f195,#00f096,#00ef97,#00ee98,#00ee98,#00ef97,#00f095,#00f195,#00f096,#00ef97,#00ee99,#00ed9b,#00ec9b,#00ec9c,#00ec9c,#00ec9c,#00ec9b,#00ed9a,#00ee98,#00f096,#00f293,#00f490)"></i><i style="background:linear-gradient(90deg,#24cd94,#20d095,#16d997,#08e69a,#00ed9a,#00ef98,#00f195,#00f391,#00f58f,#00f68d,#00f78b,#00f78b,#00f78b,#00f68d,#00f490,#00f294,#00f194,#00f294,#00f194,#00f195,#00f096,#00ef98,#00ee99,#00ee99,#00ef97,#00f096,#00f096,#00f096,#00ef97,#00ee99,#00ed9b,#00ec9b,#00ec9b,#00ec9c,#00ec9c,#00ec9b,#00ed9a,#00ef98,#00f096,#00f293,#00f58f)"></i><i style="background:linear-gradient(90deg,#26cc94,#22cf95,#18d897,#09e59a,#00ed9b,#00ee99,#00f195,#00f392,#00f48f,#00f68d,#00f78c,#00f78b,#00f78c,#00f68d,#00f391,#00f194,#00f194,#00f194,#00f195,#00f095,#00f097,#00ef98,#00ee99,#00ee99,#00ef98,#00f096,#00f096,#00f097,#00ef97,#00ee99,#00ed9b,#00ec9b,#00ec9b,#00ec9b,#00ec9c,#00ec9b,#00ed9a,#00ef98,#00f095,#00f292,#00f58f)"></i><i style="background:linear-gradient(90deg,#28ca94,#24cd95,#19d697,#0ae39a,#00ed9b,#00ee99,#00f096,#00f392,#00f490,#00f68e,#00f78c,#00f78c,#00f68c,#00f58e,#00f391,#00f195,#00f195,#00f195,#00f195,#00f096,#00ef97,#00ee98,#00ed9a,#00ed9a,#00ee98,#00f097,#00f096,#00ef97,#00ef98,#00ee99,#00ed9b,#00ec9b,#00ed9b,#00ed9b,#00ec9b,#00ed9b,#00ed9a,#00ef98,#00f195,#00f392,#00f58f)"></i><i style="background:linear-gradient(90deg,#29c994,#25cc95,#1bd597,#0be29a,#00ed9b,#00ee99,#00f096,#00f292,#00f490,#00f58e,#00f68c,#00f78c,#00f68d,#00f58e,#00f392,#00f195,#00f095,#00f195,#00f095,#00f096,#00ef97,#00ee99,#00ed9a,#00ed9a,#00ee99,#00ef97,#00ef97,#00ef97,#00ef98,#00ee9a,#00ed9b,#00ec9b,#00ed9b,#00ed9b,#00ed9b,#00ed9b,#00ee9a,#00ef97,#00f195,#00f392,#00f58e)"></i><i style="background:linear-gradient(90deg,#2bc794,#27ca95,#1cd497,#0de19a,#00ec9b,#00ee99,#00f096,#00f293,#00f490,#00f58e,#00f68d,#00f68d,#00f68d,#00f58f,#00f392,#00f095,#00f096,#00f095,#00f096,#00f096,#00ef97,#00ee99,#00ed9b,#00ed9b,#00ee99,#00ef98,#00ef97,#00ef97,#00ef98,#00ed9a,#00ec9b,#00ec9b,#00ed9b,#00ed9b,#00ed9b,#00ed9b,#00ee99,#00ef97,#00f195,#00f392,#00f58e)"></i><i style="background:linear-gradient(90deg,#2dc594,#29c995,#1dd297,#0ee09a,#00ec9c,#00ee9a,#00f096,#00f293,#00f491,#00f58f,#00f68d,#00f68d,#00f68e,#00f48f,#00f293,#00f096,#00f096,#00f096,#00f096,#00f097,#00ef97,#00ee99,#00ed9b,#00ed9b,#00ee9a,#00ef98,#00ef98,#00ef98,#00ee98,#00ed9a,#00ec9b,#00ec9b,#00ed9b,#00ed9b,#00ed9b,#00ed9b,#00ee99,#00ef97,#00f194,#00f391,#00f68d)"></i><i style="background:linear-gradient(90deg,#2ec493,#2ac794,#1fd197,#0fdf9a,#00ec9c,#00ed9a,#00ef97,#00f294,#00f391,#00f58f,#00f68e,#00f68d,#00f58e,#00f490,#00f293,#00f096,#00f097,#00f096,#00f097,#00ef97,#00ef98,#00ee9a,#00ec9b,#00ec9b,#00ed9a,#00ee98,#00ef98,#00ef98,#00ee99,#00ed9a,#00ec9b,#00ed9b,#00ed9b,#00ed9a,#00ed9b,#00ed9a,#00ee99,#00f097,#00f194,#00f391,#00f68d)"></i><i style="background:linear-gradient(90deg,#30c293,#2cc694,#20d097,#10de9a,#00ec9c,#00ed9a,#00ef97,#00f194,#00f391,#00f48f,#00f58e,#00f68e,#00f58e,#00f490,#00f293,#00f097,#00ef97,#00f097,#00ef97,#00ef97,#00ef98,#00ed9a,#00ec9c,#00ec9c,#00ed9a,#00ee99,#00ef98,#00ee98,#00ee99,#00ed9a,#00ec9b,#00ed9b,#00ed9a,#00ed9a,#00ed9a,#00ed9a,#00ee99,#00f096,#00f294,#00f491,#00f68d)"></i><i style="background:linear-gradient(90deg,#32c193,#2dc494,#22ce97,#11dd9a,#00ec9c,#00ed9a,#00ef97,#00f194,#00f392,#00f490,#00f58e,#00f58e,#00f58f,#00f491,#00f194,#00ef97,#00ef97,#00ef97,#00ef97,#00ef97,#00ef98,#00ed9a,#00ec9c,#00ec9c,#00ed9b,#00ee99,#00ee99,#00ee99,#00ee99,#00ed9a,#00ec9c,#00ed9b,#00ed9a,#00ed9a,#00ed9a,#00ed9a,#00ee98,#00f096,#00f293,#00f490,#00f68c)"></i><i style="background:linear-gradient(90deg,#33bf93,#2fc394,#23cd96,#12db9a,#00ec9d,#00ed9b,#00ef98,#00f195,#00f392,#00f490,#00f58f,#00f58e,#00f48f,#00f391,#00f194,#00ef97,#00ef98,#00ef97,#00ef98,#00ef98,#00ef98,#00ed9a,#00ec9c,#00ec9c,#00ed9b,#00ee9a,#00ee99,#00ee99,#00ee99,#00ed9a,#00ec9c,#00ed9b,#00ed9a,#00ee9a,#00ed9a,#00ee9a,#00ef98,#00f096,#00f293,#00f490,#00f78c)"></i><i style="background:linear-gradient(90deg,#35be92,#31c294,#24cc96,#13da9a,#01eb9d,#00ed9b,#00ef98,#00f195,#00f293,#00f490,#00f58f,#00f58f,#00f490,#00f391,#00f195,#00ef98,#00ef98,#00ef98,#00ef98,#00ef98,#00ee98,#00ed9a,#00ec9c,#00ec9d,#00ec9c,#00ed9a,#00ee99,#00ee99,#00ee99,#00ed9b,#00ec9c,#00ed9b,#00ed9a,#00ee99,#00ee9a,#00ee99,#00ef98,#00f095,#00f293,#00f48f,#00f78c)"></i><i style="background:linear-gradient(90deg,#37bc92,#32c093,#26cb96,#15d99a,#01ea9d,#00ed9b,#00ef98,#00f095,#00f293,#00f391,#00f48f,#00f58f,#00f490,#00f392,#00f195,#00ef98,#00ee99,#00ef98,#00ee98,#00ef98,#00ee99,#00ed9b,#00ec9d,#00eb9d,#00ec9c,#00ed9a,#00ee9a,#00ee99,#00ee99,#00ed9b,#00ec9c,#00ed9b,#00ed9a,#00ee99,#00ee99,#00ee99,#00ef97,#00f195,#00f292,#00f58f,#00f78b)"></i><i style="background:linear-gradient(90deg,#39bb92,#34bf93,#27c996,#16d89a,#02e99d,#00ec9b,#00ee99,#00f096,#00f293,#00f391,#00f490,#00f490,#00f490,#00f392,#00f095,#00ee99,#00ee99,#00ee98,#00ee99,#00ee98,#00ee99,#00ed9b,#00eb9d,#00eb9d,#00ec9c,#00ed9b,#00ed9a,#00ee99,#00ee9a,#00ed9b,#00ec9c,#00ed9b,#00ee9a,#00ee99,#00ee99,#00ee99,#00ef97,#00f195,#00f392,#00f58f,#00f78b)"></i><i style="background:linear-gradient(90deg,#3ab991,#35bd93,#28c896,#17d799,#03e89d,#00ec9c,#00ee99,#00f096,#00f294,#00f392,#00f490,#00f490,#00f391,#00f292,#00f096,#00ee99,#00ee99,#00ee99,#00ee99,#00ee99,#00ee99,#00ed9b,#00eb9d,#00eb9d,#00ec9d,#00ed9b,#00ed9a,#00ee9a,#00ee9a,#00ed9b,#00ec9c,#00ed9b,#00ee99,#00ee99,#00ee99,#00ee98,#00f097,#00f194,#00f392,#00f58e,#00f88b)"></i><i style="background:linear-gradient(90deg,#3cb891,#37bc92,#2ac796,#18d699,#04e89d,#00ec9c,#00ee99,#00f096,#00f194,#00f392,#00f490,#00f490,#00f391,#00f293,#00f096,#00ee99,#00ee9a,#00ee99,#00ee99,#00ee99,#00ee99,#00ed9b,#00eb9d,#00eb9e,#00eb9d,#00ec9b,#00ed9a,#00ed9a,#00ed9a,#00ed9b,#00ec9c,#00ed9b,#00ee99,#00ee99,#00ee98,#00ef98,#00f096,#00f194,#00f391,#00f58e,#00f88a)"></i><i style="background:linear-gradient(90deg,#3eb691,#39bb92,#2bc695,#19d599,#05e79d,#00ec9c,#00ee99,#00f097,#00f194,#00f292,#00f391,#00f491,#00f391,#00f293,#00f096,#00ee9a,#00ed9a,#00ee99,#00ee9a,#00ee99,#00ee99,#00ec9b,#00eb9d,#00eb9e,#00eb9d,#00ec9c,#00ed9b,#00ed9a,#00ed9a,#00ed9b,#00ec9c,#00ed9b,#00ee99,#00ee98,#00ef98,#00ef98,#00f096,#00f294,#00f391,#00f68e,#00f88a)"></i><i style="background:linear-gradient(90deg,#40b590,#3ab992,#2cc595,#1ad499,#05e69d,#00ec9c,#00ee9a,#00ef97,#00f195,#00f293,#00f391,#00f391,#00f392,#00f293,#00ef97,#00ed9a,#00ed9a,#00ed9a,#00ed9a,#00ee99,#00ee99,#00ec9b,#00eb9e,#00eb9e,#00eb9d,#00ec9c,#00ed9b,#00ed9a,#00ed9a,#00ed9b,#00ec9c,#00ed9b,#00ee99,#00ef98,#00ef98,#00ef97,#00f096,#00f293,#00f491,#00f68d,#00f889)"></i><i style="background:linear-gradient(90deg,#41b390,#3cb891,#2ec495,#1bd399,#06e59d,#00ec9c,#00ee9a,#00ef97,#00f195,#00f293,#00f391,#00f391,#00f392,#00f194,#00ef97,#00ed9a,#00ed9b,#00ed9a,#00ed9a,#00ee9a,#00ee9a,#00ec9c,#00eb9e,#00eb9e,#00eb9e,#00ec9c,#00ec9b,#00ed9a,#00ed9a,#00ed9b,#00ec9c,#00ed9a,#00ee99,#00ef98,#00ef97,#00f097,#00f195,#00f293,#00f490,#00f68d,#00f989)"></i><i style="background:linear-gradient(90deg,#43b290,#3db691,#2fc295,#1cd399,#07e59d,#00ec9c,#00ed9a,#00ef98,#00f095,#00f293,#00f392,#00f392,#00f292,#00f194,#00ef97,#00ed9b,#00ed9b,#00ed9a,#00ed9a,#00ed9a,#00ee9a,#00ec9c,#00eb9e,#00ea9e,#00eb9e,#00ec9d,#00ec9c,#00ed9b,#00ed9a,#00ed9b,#00ec9c,#00ed9a,#00ee99,#00ef98,#00ef97,#00f096,#00f195,#00f293,#00f490,#00f68d,#00f989)"></i><i style="background:linear-gradient(90deg,#45b08f,#3fb591,#30c194,#1dd299,#08e49d,#00ec9d,#00ed9a,#00ef98,#00f096,#00f294,#00f392,#00f392,#00f293,#00f194,#00ef98,#00ed9b,#00ec9b,#00ed9b,#00ed9b,#00ed9a,#00ed9a,#00ec9c,#00eb9e,#00ea9e,#00eb9e,#00eb9d,#00ec9c,#00ed9b,#00ed9a,#00ed9b,#00ec9c,#00ed9a,#00ee99,#00ef98,#00ef97,#00f096,#00f194,#00f392,#00f48f,#00f78c,#00f988)"></i><i style="background:linear-gradient(90deg,#47af8f,#41b490,#32c094,#1ed199,#09e39d,#00ec9d,#00ed9a,#00ef98,#00f096,#00f194,#00f292,#00f292,#00f293,#00f195,#00ef98,#00ed9b,#00ec9c,#00ed9b,#00ed9b,#00ed9a,#00ed9a,#00ec9c,#00eb9e,#00ea9f,#00ea9e,#00eb9d,#00ec9c,#00ed9b,#00ed9b,#00ed9b,#00ec9b,#00ed9a,#00ee99,#00ef97,#00f097,#00f096,#00f194,#00f392,#00f58f,#00f78c,#00f988)"></i><i style="background:linear-gradient(90deg,#48ae8e,#42b390,#33bf94,#1fd098,#09e39c,#00eb9d,#00ed9b,#00ee98,#00f096,#00f194,#00f293,#00f293,#00f293,#00f195,#00ee98,#00ec9b,#00ec9c,#00ec9b,#00ed9b,#00ed9a,#00ed9a,#00ec9c,#00eb9e,#00ea9f,#00ea9e,#00eb9e,#00ec9c,#00ed9b,#00ed9b,#00ed9b,#00ec9b,#00ed9a,#00ee98,#00ef97,#00f096,#00f195,#00f294,#00f391,#00f58f,#00f78c,#00f988)"></i><i style="background:linear-gradient(90deg,#4aac8e,#44b190,#34be94,#20cf98,#0ae29c,#00eb9d,#00ed9b,#00ee99,#00f097,#00f195,#00f293,#00f293,#00f294,#00f095,#00ee99,#00ec9c,#00ec9c,#00ec9c,#00ec9b,#00ed9b,#00ed9a,#00ec9c,#00eb9e,#00ea9f,#00ea9f,#00eb9e,#00ec9d,#00ed9b,#00ed9b,#00ed9b,#00ec9b,#00ed9a,#00ee98,#00ef97,#00f096,#00f195,#00f293,#00f391,#00f58e,#00f78b,#00fa87)"></i><i style="background:linear-gradient(90deg,#4cab8e,#45b08f,#35bd93,#21ce98,#0be19c,#00eb9d,#00ed9b,#00ee99,#00ef97,#00f195,#00f293,#00f293,#00f194,#00f096,#00ee99,#00ec9c,#00ec9c,#00ec9c,#00ec9c,#00ed9b,#00ed9a,#00ec9c,#00eb9e,#00ea9f,#00ea9f,#00eb9e,#00eb9d,#00ec9b,#00ed9b,#00ed9b,#00ec9b,#00ed9a,#00ef98,#00ef97,#00f096,#00f194,#00f293,#00f491,#00f58e,#00f78b,#00fa87)"></i><i style="background:linear-gradient(90deg,#4da98d,#47af8f,#36bc93,#22ce98,#0be19c,#00eb9d,#00ed9b,#00ee99,#00ef97,#00f095,#00f294,#00f293,#00f194,#00f096,#00ee99,#00ec9c,#00eb9d,#00ec9c,#00ec9c,#00ed9b,#00ed9b,#00ec9c,#00eb9e,#00ea9f,#00ea9f,#00ea9e,#00eb9d,#00ec9c,#00ed9b,#00ed9b,#00ec9b,#00ed9a,#00ef98,#00f097,#00f095,#00f194,#00f292,#00f490,#00f68e,#00f88b,#00fa87)"></i><i style="background:linear-gradient(90deg,#4fa88d,#48ad8f,#38bb93,#22cd98,#0ce09c,#00eb9d,#00ed9b,#00ee99,#00ef98,#00f096,#00f194,#00f294,#00f194,#00f096,#00ee99,#00ec9d,#00eb9d,#00ec9c,#00ec9c,#00ec9b,#00ed9b,#00ec9c,#00ea9e,#00ea9f,#00ea9f,#00ea9f,#00eb9d,#00ec9c,#00ed9b,#00ed9b,#00ec9b,#00ed9a,#00ef98,#00f096,#00f195,#00f294,#00f392,#00f490,#00f68d,#00f88a,#00fa87)"></i><i style="background:linear-gradient(90deg,#51a68c,#4aac8e,#39ba93,#23cc98,#0ddf9c,#00eb9d,#00ec9b,#00ee9a,#00ef98,#00f096,#00f194,#00f194,#00f195,#00f096,#00ee9a,#00eb9d,#00eb9d,#00ec9d,#00ec9c,#00ec9b,#00ed9b,#00ec9c,#00ea9e,#00ea9f,#00ea9f,#00ea9f,#00eb9d,#00ec9c,#00ed9b,#00ed9b,#00ed9b,#00ee9a,#00ef98,#00f096,#00f195,#00f293,#00f392,#00f490,#00f68d,#00f88a,#00fa86)"></i><i style="background:linear-gradient(90deg,#53a58c,#4bab8e,#3ab992,#24cb97,#0ddf9c,#00eb9d,#00ec9b,#00ed9a,#00ef98,#00f096,#00f195,#00f194,#00f195,#00f097,#00ed9a,#00eb9d,#00eb9e,#00eb9d,#00ec9d,#00ec9c,#00ed9b,#00ec9d,#00ea9e,#00ea9f,#00eaa0,#00ea9f,#00eb9e,#00ec9c,#00ed9b,#00ed9b,#00ed9b,#00ee9a,#00ef98,#00f096,#00f194,#00f293,#00f391,#00f58f,#00f68d,#00f88a,#00fb86)"></i><i style="background:linear-gradient(90deg,#54a38b,#4daa8d,#3bb892,#25cb97,#0ede9c,#00eb9d,#00ec9c,#00ed9a,#00ee98,#00f096,#00f195,#00f195,#00f195,#00ef97,#00ed9a,#00eb9d,#00eb9e,#00eb9d,#00eb9d,#00ec9c,#00ed9b,#00ec9d,#00ea9e,#00ea9f,#00eaa0,#00ea9f,#00eb9e,#00ec9c,#00ed9b,#00ec9b,#00ed9b,#00ee9a,#00ef98,#00f096,#00f194,#00f292,#00f391,#00f58f,#00f68c,#00f889,#00fb86)"></i><i style="background:linear-gradient(90deg,#56a28b,#4ea88d,#3cb892,#26ca97,#0ede9c,#00eb9d,#00ec9c,#00ed9a,#00ee99,#00f097,#00f195,#00f195,#00f095,#00ef97,#00ed9a,#00eb9e,#00eb9e,#00eb9d,#00eb9d,#00ec9c,#00ec9b,#00eb9d,#00ea9f,#00ea9f,#00e9a0,#00eaa0,#00eb9e,#00ec9c,#00ec9b,#00ec9b,#00ed9b,#00ee9a,#00ef98,#00f096,#00f194,#00f392,#00f490,#00f58f,#00f78c,#00f989,#00fb86)"></i><i style="background:linear-gradient(90deg,#58a18a,#50a78d,#3db791,#26c997,#0fde9b,#00eb9d,#00ec9c,#00ed9a,#00ee99,#00ef97,#00f095,#00f195,#00f096,#00ef97,#00ed9b,#00eb9e,#00ea9e,#00eb9e,#00eb9d,#00ec9c,#00ec9b,#00eb9d,#00ea9f,#00ea9f,#00e9a0,#00e9a0,#00ea9e,#00ec9c,#00ec9b,#00ec9b,#00ed9b,#00ee99,#00ef97,#00f096,#00f294,#00f392,#00f490,#00f58e,#00f78c,#00f989,#00fb85)"></i><i style="background:linear-gradient(90deg,#5a9f8a,#51a68c,#3eb691,#27c997,#10dd9b,#00eb9d,#00ec9c,#00ed9a,#00ee99,#00ef97,#00f096,#00f095,#00f096,#00ef97,#00ed9b,#00eb9e,#00ea9f,#00eb9e,#00eb9e,#00ec9c,#00ec9c,#00eb9d,#00ea9f,#00ea9f,#00e9a0,#00e9a0,#00ea9f,#00ec9d,#00ec9b,#00ec9b,#00ed9b,#00ee99,#00ef97,#00f096,#00f293,#00f391,#00f490,#00f58e,#00f78b,#00f988,#01fa85)"></i><i style="background:linear-gradient(90deg,#5c9e8a,#53a58c,#3fb591,#28c896,#10dd9b,#00eb9d,#00ec9c,#00ed9b,#00ee99,#00ef97,#00f096,#00f096,#00f096,#00ef98,#00ed9b,#00ea9e,#00ea9f,#00eb9e,#00eb9e,#00ec9d,#00ec9c,#00eb9d,#00ea9f,#00eaa0,#00e9a0,#00e9a0,#00ea9f,#00ec9d,#00ec9c,#00ec9b,#00ed9b,#00ee99,#00ef97,#00f095,#00f293,#00f391,#00f490,#00f68e,#00f78b,#00f988,#03f885)"></i><i style="background:linear-gradient(90deg,#5d9c89,#54a48c,#40b491,#29c896,#11dc9b,#00eb9d,#00ec9c,#00ed9b,#00ee99,#00ef98,#00f096,#00f096,#00f096,#00ef98,#00ec9b,#00ea9f,#00ea9f,#00ea9e,#00eb9e,#00eb9d,#00ec9c,#00eb9d,#00ea9f,#00eaa0,#00e9a0,#00e9a1,#00ea9f,#00eb9d,#00ec9c,#00ec9b,#00ed9b,#00ee99,#00ef97,#00f095,#00f293,#00f391,#00f58f,#00f68d,#00f78b,#01f988,#06f685)"></i><i style="background:linear-gradient(90deg,#5f9b89,#55a38b,#41b490,#29c796,#11dc9b,#00eb9d,#00ec9c,#00ed9b,#00ee99,#00ef98,#00f096,#00f096,#00f096,#00ef98,#00ec9b,#00ea9f,#00ea9f,#00ea9f,#00eb9e,#00eb9d,#00ec9c,#00eb9d,#00ea9f,#00eaa0,#00e9a1,#00e9a1,#00ea9f,#00eb9d,#00ec9c,#00ec9b,#00ed9b,#00ee99,#00ef97,#00f195,#00f293,#00f491,#00f58f,#00f68d,#00f88b,#02f788,#08f484)"></i><i style="background:linear-gradient(90deg,#619988,#57a28b,#42b390,#2ac796,#12dc9a,#00eb9d,#00ec9c,#00ed9b,#00ee9a,#00ef98,#00f097,#00f096,#00f097,#00ef98,#00ec9c,#00ea9f,#00ea9f,#00ea9f,#00ea9e,#00eb9d,#00ec9c,#00eb9d,#00ea9f,#00e9a0,#00e9a1,#00e9a1,#00ea9f,#00eb9d,#00ec9c,#00ec9b,#00ed9b,#00ee99,#00ef97,#00f195,#00f293,#00f490,#00f58f,#00f68d,#00f88a,#04f687,#0bf184)"></i><i style="background:linear-gradient(90deg,#639888,#58a18a,#43b290,#2ac695,#12db9a,#00eb9d,#00ec9c,#00ed9b,#00ee9a,#00ef98,#00ef97,#00f096,#00ef97,#00ee98,#00ec9c,#00ea9f,#00eaa0,#00ea9f,#00ea9f,#00eb9d,#00ec9c,#00eb9d,#00ea9f,#00e9a0,#00e9a1,#00e9a1,#00ea9f,#00eb9d,#00ec9c,#00ec9b,#00ed9b,#00ee99,#00ef97,#00f195,#00f293,#00f490,#00f58e,#00f68d,#00f88a,#06f487,#0eee84)"></i><i style="background:linear-gradient(90deg,#649787,#59a08a,#43b290,#2bc695,#12db9a,#00eb9d,#00ec9c,#00ed9b,#00ed9a,#00ee98,#00ef97,#00f097,#00ef97,#00ee99,#00ec9c,#00ea9f,#00e9a0,#00ea9f,#00ea9f,#00eb9d,#00ec9d,#00eb9e,#00ea9f,#00e9a0,#00e9a1,#00e8a1,#00eaa0,#00eb9d,#00ec9c,#00ec9b,#00ed9b,#00ee99,#00ef97,#00f195,#00f293,#00f490,#00f58e,#00f68c,#00f88a,#08f287,#11ec84)"></i><i style="background:linear-gradient(90deg,#669587,#5b9f8a,#44b18f,#2cc695,#13db9a,#00ec9d,#00ec9c,#00ed9b,#00ed9a,#00ee99,#00ef97,#00ef97,#00ef97,#00ee99,#00ec9c,#00eaa0,#00e9a0,#00ea9f,#00ea9f,#00eb9e,#00ec9d,#00eb9e,#00ea9f,#00e9a0,#00e9a1,#00e8a2,#00e9a0,#00eb9e,#00ec9c,#00ec9b,#00ed9b,#00ee99,#00ef97,#00f195,#00f292,#00f490,#00f58e,#00f78c,#00f88a,#0bf086,#14e983)"></i><i style="background:linear-gradient(90deg,#689486,#5c9e89,#45b18f,#2cc595,#13db9a,#00ec9d,#00ec9c,#00ed9b,#00ed9a,#00ee99,#00ef97,#00ef97,#00ef97,#00ee99,#00ec9c,#00eaa0,#00e9a0,#00eaa0,#00ea9f,#00eb9e,#00eb9d,#00eb9e,#00ea9f,#00e9a0,#00e8a1,#00e8a2,#00e9a0,#00eb9e,#00ec9c,#00ec9c,#00ed9b,#00ee99,#00ef97,#00f195,#00f292,#00f490,#00f58e,#00f78c,#00f88a,#0dee86,#17e583)"></i><i style="background:linear-gradient(90deg,#6a9286,#5d9d89,#46b08f,#2cc595,#14da99,#00ec9c,#00ec9c,#00ed9b,#00ed9a,#00ee99,#00ef98,#00ef97,#00ef98,#00ee99,#00ec9d,#00e9a0,#00e9a0,#00eaa0,#00ea9f,#00eb9e,#00eb9d,#00eb9e,#00ea9f,#00e9a0,#00e8a2,#00e8a2,#00e9a0,#00eb9e,#00ec9c,#00ec9c,#00ed9b,#00ee99,#00ef97,#00f195,#00f292,#00f490,#00f58e,#00f78c,#00f889,#0fec86,#1be283)"></i><i style="background:linear-gradient(90deg,#6b9185,#5e9c89,#46b08f,#2dc594,#14da99,#00ec9c,#00ec9c,#00ed9b,#00ed9a,#00ee99,#00ef98,#00ef97,#00ef98,#00ee99,#00ec9d,#00e9a0,#00e9a1,#00e9a0,#00ea9f,#00eb9e,#00eb9d,#00eb9e,#00eaa0,#00e9a1,#00e8a2,#00e8a2,#00e9a0,#00eb9e,#00ec9d,#00ec9c,#00ed9b,#00ee99,#00ef97,#00f195,#00f292,#00f490,#00f58e,#00f78c,#00f889,#12e986,#1edf83)"></i><i style="background:linear-gradient(90deg,#6d8f85,#5f9b88,#47af8e,#2dc494,#14da99,#00ec9c,#00ec9b,#00ed9b,#00ed9a,#00ee99,#00ef98,#00ef98,#00ef98,#00ee99,#00eb9d,#00e9a0,#00e9a1,#00e9a0,#00eaa0,#00ea9e,#00eb9d,#00ea9e,#00e9a0,#00e9a1,#00e8a2,#00e8a2,#00e9a0,#00eb9e,#00ec9d,#00ec9c,#00ed9b,#00ee99,#00ef97,#00f195,#00f292,#00f490,#00f68e,#00f78c,#00f989,#14e786,#22db83)"></i><i style="background:linear-gradient(90deg,#6f8e84,#609a88,#47af8e,#2ec494,#14da99,#00ec9c,#00ed9b,#00ed9b,#00ed9a,#00ee99,#00ef98,#00ef98,#00ef98,#00ee9a,#00eb9d,#00e9a0,#00e9a1,#00e9a0,#00eaa0,#00ea9e,#00eb9e,#00ea9f,#00e9a0,#00e9a1,#00e8a2,#00e8a2,#00e9a1,#00ea9e,#00eb9d,#00ec9c,#00ed9b,#00ee99,#00ef97,#00f195,#00f292,#00f490,#00f68e,#00f78c,#00f889,#16e585,#26d783)"></i><i style="background:linear-gradient(90deg,#718d84,#619a88,#48ae8e,#2ec494,#15da99,#00ec9c,#00ed9b,#00ed9b,#00ed9a,#00ee99,#00ee98,#00ef98,#00ef98,#00ee9a,#00eb9d,#00e9a0,#00e9a1,#00e9a0,#00e9a0,#00ea9f,#00eb9e,#00ea9f,#00e9a0,#00e9a1,#00e8a2,#00e8a3,#00e9a1,#00ea9e,#00eb9d,#00ec9c,#00ed9b,#00ee99,#00ef97,#00f195,#00f292,#00f490,#00f68e,#00f78b,#01f889,#19e385,#29d483)"></i><i style="background:linear-gradient(90deg,#738b83,#629987,#48ae8e,#2ec494,#15da98,#00ec9b,#00ed9b,#00ed9b,#00ed9a,#00ee99,#00ee98,#00ef98,#00ee98,#00ed9a,#00eb9d,#00e9a1,#00e9a1,#00e9a0,#00e9a0,#00ea9f,#00eb9e,#00ea9f,#00e9a0,#00e9a1,#00e8a2,#00e8a3,#00e9a1,#00ea9f,#00eb9d,#00ec9c,#00ed9b,#00ee99,#00ef97,#00f195,#00f293,#00f490,#00f68e,#00f78b,#02f789,#1be185,#2dd083)"></i><i style="background:linear-gradient(90deg,#748a83,#629887,#49ae8d,#2fc493,#15da98,#00ed9b,#00ed9b,#00ed9b,#00ed9a,#00ee99,#00ee99,#00ef98,#00ee98,#00ed9a,#00eb9d,#00e9a1,#00e9a1,#00e9a1,#00e9a0,#00ea9f,#00eb9e,#00ea9f,#00e9a1,#00e8a1,#00e8a3,#00e7a3,#00e9a1,#00ea9f,#00eb9d,#00ec9c,#00ed9b,#00ee99,#00ef97,#00f195,#00f293,#00f490,#00f58e,#00f78b,#02f789,#1ddf85,#31cc83)"></i><i style="background:linear-gradient(90deg,#768882,#639887,#49ae8d,#2fc493,#15da98,#00ed9b,#00ed9a,#00ed9a,#00ed9a,#00ee99,#00ee99,#00ee98,#00ee99,#00ed9a,#00eb9e,#00e9a1,#00e8a1,#00e9a1,#00e9a0,#00ea9f,#00ea9e,#00ea9f,#00e9a1,#00e8a2,#00e8a3,#00e7a3,#00e8a1,#00ea9f,#00eb9d,#00ec9c,#00ed9b,#00ee99,#00ef97,#00f195,#00f293,#00f491,#00f58e,#00f78b,#03f689,#1fdd85,#35c883)"></i><i style="background:linear-gradient(90deg,#788782,#649887,#49ad8d,#2fc493,#15da97,#00ed9b,#00ed9a,#00ed9a,#00ed9a,#00ee99,#00ee99,#00ee98,#00ee99,#00ed9a,#00eb9e,#00e9a1,#00e8a1,#00e9a1,#00e9a0,#00ea9f,#00ea9e,#00eaa0,#00e9a1,#00e8a2,#00e7a3,#00e7a3,#00e8a1,#00ea9f,#00eb9e,#00ec9c,#00ed9b,#00ee99,#00ef97,#00f095,#00f293,#00f391,#00f58e,#00f78b,#03f689,#20db85,#39c483)"></i><i style="background:linear-gradient(90deg,#7a8581,#649787,#49ad8d,#2fc493,#15da97,#00ed9a,#00ed9a,#00ed9a,#00ee9a,#00ee99,#00ee99,#00ee99,#00ee99,#00ed9a,#00eb9e,#00e9a1,#00e8a2,#00e9a1,#00e9a1,#00ea9f,#00ea9f,#00e9a0,#00e8a1,#00e8a2,#00e7a3,#00e7a3,#00e8a2,#00ea9f,#00eb9e,#00ec9c,#00ed9b,#00ee99,#00ef97,#00f095,#00f293,#00f391,#00f58e,#00f78b,#04f589,#22da85,#3ec083)"></i><i style="background:linear-gradient(90deg,#7c8481,#649787,#4aad8d,#2fc492,#16da97,#00ed9a,#00ee9a,#00ed9a,#00ee9a,#00ee99,#00ee99,#00ee99,#00ee99,#00ed9b,#00eb9e,#00e9a1,#00e8a2,#00e9a1,#00e9a1,#00eaa0,#00ea9f,#00e9a0,#00e8a2,#00e8a3,#00e7a3,#00e7a3,#00e8a2,#00eaa0,#00eb9e,#00ec9c,#00ed9b,#00ee99,#00ef97,#00f096,#00f294,#00f391,#00f58f,#00f78c,#04f589,#23d985,#42bc82)"></i><i style="background:linear-gradient(90deg,#7d8281,#659786,#4aad8d,#2fc492,#16da97,#00ee9a,#00ee99,#00ee99,#00ee99,#00ee99,#00ee99,#00ee99,#00ee99,#00ed9b,#00eb9e,#00e8a1,#00e8a2,#00e9a1,#00e9a1,#00e9a0,#00ea9f,#00e9a0,#00e8a2,#00e7a3,#00e7a4,#00e7a3,#00e8a2,#00e9a0,#00eb9e,#00ec9d,#00ed9b,#00ee99,#00ef98,#00f096,#00f194,#00f392,#00f58f,#00f78c,#04f589,#23d885,#46b882)"></i><i style="background:linear-gradient(90deg,#7f8180,#659786,#4aad8c,#2fc492,#16da96,#00ee99,#00ee99,#00ee99,#00ee99,#00ee99,#00ee99,#00ee99,#00ee99,#00ed9b,#00eb9e,#00e8a1,#00e8a2,#00e8a1,#00e9a1,#00e9a0,#00ea9f,#00e9a1,#00e8a2,#00e7a3,#00e7a4,#00e7a4,#00e8a2,#00e9a0,#00ea9e,#00eb9d,#00ed9b,#00ee99,#00ef98,#00f096,#00f194,#00f292,#00f58f,#00f78c,#04f489,#24d885,#4bb382)"></i></div>
<div style="position:absolute;left:981px;top:400.4px;width:19px;height:300.2px;background:linear-gradient(180deg,#ff0000,#ff2300,#ff4700,#ff6a00,#ff8e00,#ffb100,#ffd400,#e3dc00,#c6e300,#aaea00,#8ef100,#71f800,#55ff00,#47ff15,#39ff2b,#2aff40,#1cff55,#0eff6a,#00ff80,#00f195,#00e3aa,#00d4bf,#00c6d4,#00b8ea,#00aaff,#078eff,#0e71ff,#1555ff,#1c39ff,#231cff,#2a00ff,#4e00ff,#7100ff,#9500ff,#b800ff,#dc00ff,#ff00ff)"></div>
<svg width="1100" height="1050" viewBox="0 0 1100 1050">
<clipPath id="mc"><rect x="100.5" y="150.4" width="800" height="800"/></clipPath>
<g id="arrows" clip-path="url(#mc)" stroke="#000" stroke-width="1" fill="#000"><path d="M231.0 150.0L218.4 150.1M222.0 284.4L219.6 284.3M364.4 283.2L349.4 282.5M497.0 282.9L481.3 280.8M630.5 282.9L612.2 278.1M763.0 281.9L742.3 274.5M898.5 282.9L874.6 274.8M230.7 416.0L222.3 416.6M364.5 416.2L355.2 416.1M498.4 416.2L488.2 415.9M631.6 416.5L619.3 414.5M764.0 415.8L747.0 411.8M897.0 416.0L875.0 410.4M231.6 550.3L224.0 551.9M364.5 550.3L357.8 551.6M497.8 550.3L491.7 551.4M630.7 550.3L622.3 550.9M764.0 549.4L747.4 548.4M897.0 549.7L874.3 546.8M231.3 684.1L219.1 688.4M364.5 684.1L355.4 687.1M497.8 684.1L490.4 686.4M631.6 683.3L619.7 685.6M764.0 683.0L743.0 683.2M895.5 682.7L871.0 681.8M231.6 817.1L217.8 821.6M364.5 817.1L353.6 821.0M497.8 817.1L486.2 821.1M630.7 817.1L614.5 820.3M763.1 816.5L739.2 818.1M896.0 816.2L868.1 817.2" fill="none" stroke-width="1.1"/><path d="M204.0 150.2L218.4 145.0L218.5 155.1ZM205.2 284.0L219.8 279.3L219.5 289.4ZM335.0 281.8L349.7 277.5L349.2 287.6ZM467.0 278.8L482.0 275.8L480.6 285.8ZM598.3 274.5L613.5 273.2L611.0 283.0ZM728.6 269.6L743.9 269.7L740.6 279.2ZM860.9 270.2L876.3 270.1L873.0 279.6ZM207.9 417.6L222.0 411.6L222.7 421.6ZM340.8 416.0L355.3 411.1L355.2 421.2ZM473.8 415.4L488.4 410.8L488.1 420.9ZM605.0 412.3L620.1 409.5L618.5 419.5ZM733.0 408.5L748.2 406.9L745.9 416.7ZM861.0 406.8L876.2 405.5L873.7 415.3ZM209.9 554.8L223.0 546.9L225.1 556.8ZM343.7 554.5L356.8 546.7L358.8 556.6ZM477.5 553.9L490.8 546.4L492.6 556.4ZM607.9 551.9L622.0 545.9L622.7 555.9ZM733.0 547.5L747.7 543.3L747.1 553.4ZM860.0 544.9L875.0 541.8L873.7 551.8ZM205.4 693.2L217.4 683.6L220.8 693.2ZM341.6 691.7L353.8 682.3L357.0 691.9ZM476.7 690.8L488.9 681.6L492.0 691.2ZM605.5 688.3L618.7 680.6L620.6 690.5ZM728.6 683.3L743.0 678.1L743.1 688.2ZM856.6 681.2L871.2 676.7L870.8 686.8ZM204.1 826.1L216.2 816.8L219.4 826.4ZM339.9 825.8L351.9 816.2L355.2 825.7ZM472.5 825.8L484.6 816.3L487.9 825.9ZM600.3 823.0L613.5 815.3L615.4 825.2ZM724.8 819.0L738.9 813.0L739.5 823.1ZM853.7 817.7L868.0 812.1L868.3 822.2Z" stroke-width="0.7" stroke-linejoin="miter"/></g>
<g id="grid" stroke="#e8e8e8" stroke-width="1" fill="none" opacity="0.58">
<path d="M233.5 150V950M567 150V950M100 283.5H900M100 617H900"/>
</g>
<g id="frame" stroke="#000" fill="none">
<rect x="100.5" y="150.4" width="800" height="800" stroke-width="3"/>
<path id="ticks" stroke-width="1" d="M100.5 148.9v-3.2M100.5 951.9v3.2M99.0 150.5h-3.2M902.0 150.5h3.2M133.5 148.9v-3.2M133.5 951.9v3.2M99.0 183.5h-3.2M902.0 183.5h3.2M167.5 148.9v-3.2M167.5 951.9v3.2M99.0 217.5h-3.2M902.0 217.5h3.2M200.5 148.9v-3.2M200.5 951.9v3.2M99.0 250.5h-3.2M902.0 250.5h3.2M233.5 148.9v-7.0M233.5 951.9v7.0M99.0 283.5h-7.0M902.0 283.5h7.0M267.5 148.9v-3.2M267.5 951.9v3.2M99.0 317.5h-3.2M902.0 317.5h3.2M300.5 148.9v-3.2M300.5 951.9v3.2M99.0 350.5h-3.2M902.0 350.5h3.2M333.5 148.9v-3.2M333.5 951.9v3.2M99.0 383.5h-3.2M902.0 383.5h3.2M367.5 148.9v-3.2M367.5 951.9v3.2M99.0 417.5h-3.2M902.0 417.5h3.2M400.5 148.9v-3.2M400.5 951.9v3.2M99.0 450.5h-3.2M902.0 450.5h3.2M433.5 148.9v-3.2M433.5 951.9v3.2M99.0 483.5h-3.2M902.0 483.5h3.2M467.5 148.9v-3.2M467.5 951.9v3.2M99.0 517.5h-3.2M902.0 517.5h3.2M500.5 148.9v-3.2M500.5 951.9v3.2M99.0 550.5h-3.2M902.0 550.5h3.2M533.5 148.9v-3.2M533.5 951.9v3.2M99.0 583.5h-3.2M902.0 583.5h3.2M567.5 148.9v-7.0M567.5 951.9v7.0M99.0 617.5h-7.0M902.0 617.5h7.0M600.5 148.9v-3.2M600.5 951.9v3.2M99.0 650.5h-3.2M902.0 650.5h3.2M633.5 148.9v-3.2M633.5 951.9v3.2M99.0 683.5h-3.2M902.0 683.5h3.2M667.5 148.9v-3.2M667.5 951.9v3.2M99.0 717.5h-3.2M902.0 717.5h3.2M700.5 148.9v-3.2M700.5 951.9v3.2M99.0 750.5h-3.2M902.0 750.5h3.2M733.5 148.9v-3.2M733.5 951.9v3.2M99.0 783.5h-3.2M902.0 783.5h3.2M767.5 148.9v-3.2M767.5 951.9v3.2M99.0 817.5h-3.2M902.0 817.5h3.2M800.5 148.9v-3.2M800.5 951.9v3.2M99.0 850.5h-3.2M902.0 850.5h3.2M833.5 148.9v-3.2M833.5 951.9v3.2M99.0 883.5h-3.2M902.0 883.5h3.2M867.5 148.9v-3.2M867.5 951.9v3.2M99.0 917.5h-3.2M902.0 917.5h3.2M900.5 148.9v-3.2M900.5 951.9v3.2M99.0 950.5h-7.0M902.0 950.5h7.0"/>
</g>
<g id="legarrows" stroke="#000" fill="#000"><path fill="none" stroke-width="1" d="M776 50.3H880M668 60.3H880M560.2 70.4H880"/>
<path stroke-width="0.9" stroke-linejoin="miter" d="M878.4 45.8L891.6 50.3L878.4 54.8ZM878.4 55.8L891.6 60.3L878.4 64.8ZM878.4 65.9L891.6 70.4L878.4 74.9Z"/></g>
<g id="legend" stroke="#000" fill="none">
<rect x="501.15" y="40" width="393.9" height="39.9" stroke-width="1.9"/>
</g>
<g id="cbar" stroke="#000" fill="none">
<path stroke="#c8b8d8" stroke-width="1" d="M981.9 450.4H999.1M981.9 500.5H999.1M981.9 550.5H999.1M981.9 600.5H999.1M981.9 650.5H999.1"/>
<path stroke-width="2.7" d="M980.55 399.6V701.4M1000.4 399.6V701.4"/>
<path stroke-width="0.8" d="M979.2 399.7H1001.7M979.2 701.2H1001.7"/>
<path stroke="#c0c0c0" stroke-width="0.9" d="M980 400.5H1001M980 700.5H1001"/>
<path stroke-width="1" d="M1001.7 400.4h6.1M1001.7 450.4h6.1M1001.7 500.5h6.1M1001.7 550.5h6.1M1001.7 600.5h6.1M1001.7 650.5h6.1M1001.7 700.6h6.1"/>
</g>
</svg>
</body></html>
